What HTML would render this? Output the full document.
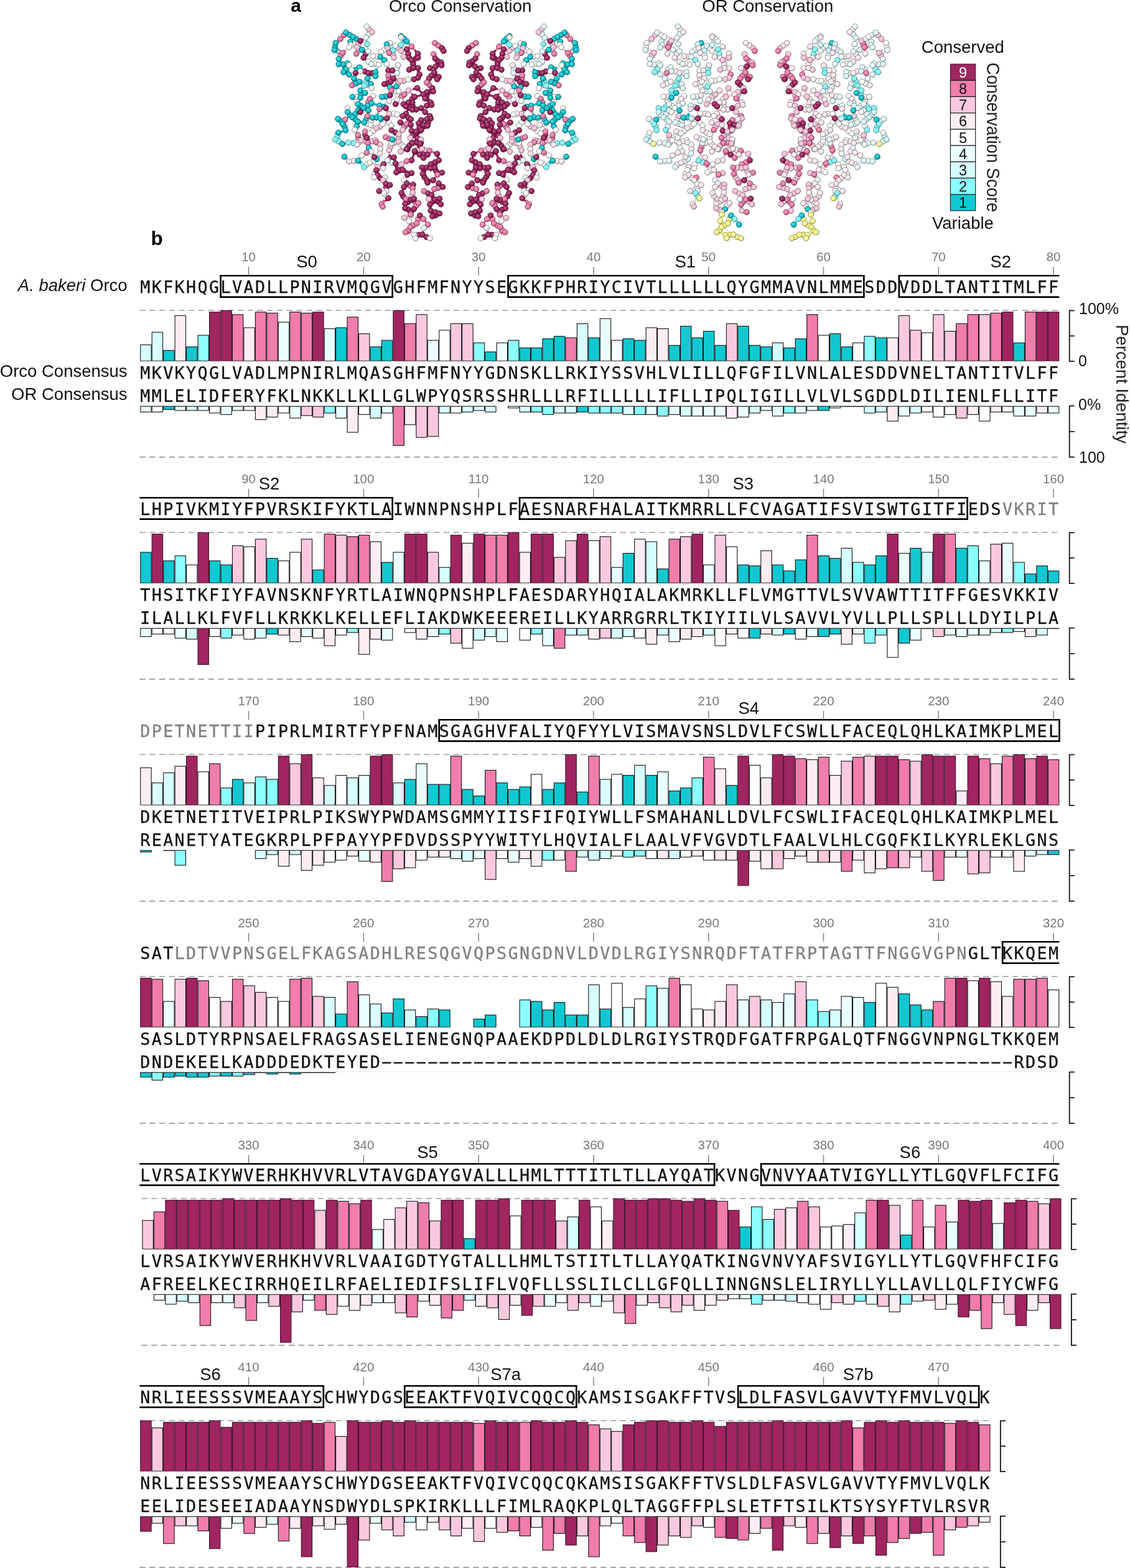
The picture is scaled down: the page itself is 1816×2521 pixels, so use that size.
<!DOCTYPE html>
<html lang="en"><head><meta charset="utf-8"><title>Orco and OR conservation</title>
<style>
html,body{margin:0;padding:0;background:#fff}
body{width:1816px;height:2521px;overflow:hidden}
svg{display:block}
text{font-family:'Liberation Sans', sans-serif;fill:#111}
.sq{font-family:'DejaVu Sans Mono', 'Liberation Mono', monospace;font-size:26px;stroke:#111;stroke-width:0.3px}
.tk{font-size:20.5px;fill:#787878;text-anchor:middle}
.tl{stroke:#808080;stroke-width:1.5;fill:none}
.hl{font-size:27.5px;text-anchor:middle;fill:#111}
.bx{stroke:#000;stroke-width:2.7;fill:none;stroke-linejoin:miter}
.ds{stroke:#9c9c9c;stroke-width:1.7;stroke-dasharray:9.4 6.36;fill:none}
.ax{stroke:#111;stroke-width:1.8;fill:none}
.al{font-size:25px;fill:#111}
.lb{font-size:27.5px}
.lg{font-size:23.5px;text-anchor:middle}
.pn{font-size:28px;font-weight:bold;fill:#000}
rect{stroke:#161616;stroke-width:1.1}
.c1{fill:#10C8D1}.c2{fill:#8CFFFF}.c3{fill:#D7FFFF}.c4{fill:#EAFFFF}.c5{fill:#FFFFFF}.c6{fill:#FCEDF4}.c7{fill:#FAC9DE}.c8{fill:#F07DAB}.c9{fill:#A02560}.c10{fill:#FFFF96}
.c9{stroke:#3d142c}
</style></head>
<body>
<svg width="1816" height="2521" viewBox="0 0 1816 2521">
<rect x="0" y="0" width="1816" height="2521" style="fill:#fff;stroke:none"/>
<style>.st circle{stroke-width:0.9;r:4.4px}.st path{stroke-width:3.4;stroke-linecap:butt;fill:none}.k1{fill:url(#b1);stroke:#086468}.s1{stroke:#0fbec6}.k2{fill:url(#b2);stroke:#488484}.s2{stroke:#85f2f2}.k3{fill:url(#b3);stroke:#6f8484}.s3{stroke:#ccf2f2}.k4{fill:url(#b4);stroke:#798484}.s4{stroke:#def2f2}.k5{fill:url(#b5);stroke:#848484}.s5{stroke:#f2f2f2}.k6{fill:url(#b6);stroke:#837b7e}.s6{stroke:#efe1e7}.k7{fill:url(#b7);stroke:#826873}.s7{stroke:#edbed2}.k8{fill:url(#b8);stroke:#783e55}.s8{stroke:#e476a2}.k9{fill:url(#b9);stroke:#501230}.s9{stroke:#98235b}.k10{fill:url(#b10);stroke:#84844e}.s10{stroke:#f2f28e}</style>
<defs><radialGradient id="b1" cx="0.42" cy="0.38" r="0.62"><stop offset="0" stop-color="#4bd5dc"/><stop offset="0.6" stop-color="#10C8D1"/><stop offset="1" stop-color="#09787d"/></radialGradient><radialGradient id="b2" cx="0.42" cy="0.38" r="0.62"><stop offset="0" stop-color="#8CFFFF"/><stop offset="0.6" stop-color="#8CFFFF"/><stop offset="1" stop-color="#67bcbc"/></radialGradient><radialGradient id="b3" cx="0.42" cy="0.38" r="0.62"><stop offset="0" stop-color="#D7FFFF"/><stop offset="0.6" stop-color="#D7FFFF"/><stop offset="1" stop-color="#9fbcbc"/></radialGradient><radialGradient id="b4" cx="0.42" cy="0.38" r="0.62"><stop offset="0" stop-color="#EAFFFF"/><stop offset="0.6" stop-color="#EAFFFF"/><stop offset="1" stop-color="#adbcbc"/></radialGradient><radialGradient id="b5" cx="0.42" cy="0.38" r="0.62"><stop offset="0" stop-color="#FFFFFF"/><stop offset="0.6" stop-color="#FFFFFF"/><stop offset="1" stop-color="#bcbcbc"/></radialGradient><radialGradient id="b6" cx="0.42" cy="0.38" r="0.62"><stop offset="0" stop-color="#FCEDF4"/><stop offset="0.6" stop-color="#FCEDF4"/><stop offset="1" stop-color="#baafb4"/></radialGradient><radialGradient id="b7" cx="0.42" cy="0.38" r="0.62"><stop offset="0" stop-color="#FAC9DE"/><stop offset="0.6" stop-color="#FAC9DE"/><stop offset="1" stop-color="#b994a4"/></radialGradient><radialGradient id="b8" cx="0.42" cy="0.38" r="0.62"><stop offset="0" stop-color="#f39dc0"/><stop offset="0.6" stop-color="#F07DAB"/><stop offset="1" stop-color="#904b66"/></radialGradient><radialGradient id="b9" cx="0.42" cy="0.38" r="0.62"><stop offset="0" stop-color="#b75b87"/><stop offset="0.6" stop-color="#A02560"/><stop offset="1" stop-color="#601639"/></radialGradient><radialGradient id="b10" cx="0.42" cy="0.38" r="0.62"><stop offset="0" stop-color="#FFFF96"/><stop offset="0.6" stop-color="#FFFF96"/><stop offset="1" stop-color="#bcbc6f"/></radialGradient></defs>
<g class="st"><path class="s1" d="M649.5 62.3L647.1 67.3M621.5 71L625.9 73.4M621.5 71L619.6 75.6M637 139.1L636 143M619.6 155.1L623.1 154.2M619.6 155.1L622.5 158.7M615.5 171.8L620.4 167M615.5 171.8L620.4 177.3M605 188.8L600.7 191.5M605 188.8L607.5 181.9M605 188.8L612.5 190.5M562.1 56.3L557.4 56.4M562.1 56.3L556 52.4M572.5 62.6L574.4 66.4M572.5 62.6L575.8 64.2M538.3 75.3L542.6 69M538.3 75.3L544.6 80.2M537.4 80.6L542.5 85M544.4 103.1L546 96.3M551.5 103.7L556.4 111.5M551.5 103.7L544.4 94.8M551.5 103.7L544.4 103.1M551.5 103.7L558.6 101.8M551.5 103.7L556.3 104.4M551.5 103.7L552.1 116M556.4 111.5L558.6 101.8M556.4 111.5L558.7 108.3M556.4 111.5L561.1 119.8M581.7 80L579 75.1M581.7 80L584.8 83.4M574 111.7L580.2 113.3M574 111.7L567.6 108.4M577.8 108.3L582.1 111.6M603.5 122.4L601 119.9M590.7 126.2L594.5 121.9M595.8 135.2L592.1 133.2M590.7 126.2L590.6 131.2M572.4 134.1L568.8 126.2M572.4 134.1L569 135.6M580 151.4L586.8 149.4M580 151.4L576.4 153.6M566.3 155.8L569.7 159.1M579.1 157.1L576.1 159.8M584.3 173.8L588 169M580.1 170.4L575.3 177.7M580.1 170.4L579.6 175.3M570.7 183.5L562.4 185.2M570.7 183.5L571.4 192.1M570.7 183.5L575.3 177.7M570.7 183.5L574.9 181.9M562.4 185.2L558.6 188.8M588.7 191.6L592.6 192.9M588.7 191.6L589.5 195.5M588.7 191.6L598.4 189.2M547.7 194.6L553.7 203.8M547.7 194.6L551.2 193.5M553.7 203.8L554.2 198.1M571.4 192.1L573.3 203M611.2 190.5L611 197M550.2 231.3L546.2 224.9M550.2 231.3L547.2 229.4M573.3 203L575.3 195.6M575.3 258.3L571.7 258.6M575.3 258.3L582.3 261.3M630.5 224.3L629 230.1M630.5 224.3L635.6 222.8M653.7 66.5L657.5 70.7M644.7 58.1L653.7 66.5M644.7 58.1L644.7 65.2M653.7 66.5L649.2 63.3M653.7 66.5L649.2 69.4M611.2 91.5L611.9 87.4M611.2 91.5L617.7 96.7M611.2 91.5L605.5 90.9M617.7 96.7L619.6 99.9M617.7 96.7L613.2 100.2M603.5 116L606.1 109.9M637 139.1L640.2 134.6M626.7 140.4L627.3 135.9M626.7 140.4L622.2 137.8M626.7 140.4L637 139.1M637 139.1L633.1 142.3M637 139.1L638.9 143M613.8 155.8L620.2 154.5M613.8 155.8L619.6 159M610 169.9L615.1 171.9M610 169.9L597.1 166.1M612.5 190.5L617 190.5M611.2 190.5L616.4 190.5M612.5 190.5L613.8 195M611.2 190.5L613.2 195M556 52.4L567.6 59.4M567.6 59.4L563.1 67.1M567.6 59.4L573.3 62.6M539.3 69.1L543.1 65.8M539.3 69.1L537.4 80.6M563.1 67.1L562.1 71.6M544.4 94.8L547.6 89.9M544.4 94.8L544.4 103.1M552.1 116L561.1 119.8M568.8 126.2L567.2 131.7M568.8 126.2L570.1 121.8M568.8 126.2L577.8 131.4M581.7 80L577.8 78.1M581.7 80L577.2 83.2M581.7 80L586.8 81.3M577.8 108.3L574.6 112.8M603.5 116L597.8 116.6M603.5 122.4L597.8 119.8M590.7 126.2L591.3 121.8M590.7 126.2L595.8 135.2M577.8 131.4L581.7 134.6M579.1 145.5L582.3 141.7M579.1 145.5L586.8 149.4M586.8 149.4L579.1 157.1M597.1 166.1L598.4 160.3M575.3 167.4L574 161.6M566.3 155.8L579.1 157.1M579.1 157.1L575.3 167.4M597.1 166.1L595.8 162.6M590.7 169.9L592.6 164.5M597.1 166.1L590.7 169.9M575.3 167.4L575.3 177.7M590.7 169.9L584.3 173.8M590.7 169.9L592 177.7M584.3 173.8L592 177.7M584.3 173.8L581.7 177M592 177.7L591.3 182.2M558.6 180.2L566.3 188.6M598.4 189.2L594.5 187.9M566.3 188.6L575.3 195.6M543.1 191.2L548.9 191.8M543.1 191.2L550.8 199.5M550.8 199.5L552.8 196M550.8 199.5L555.3 209.5M575.3 195.6L585.5 196.9M575.3 195.6L572.7 202.3M585.5 196.9L590.7 198.9M555.3 209.5L543.8 213.4M543.8 213.4L541.2 218.8M550.2 231.3L544.4 227.8M550.2 231.3L555 230.4M553.4 251.9L557.3 255.8M575.3 258.3L580.4 263.5M575.3 258.3L578.2 254.2M605.5 255.8L600 258.7M605.5 255.8L608 251.3M592.6 237.8L592 233.9M592.6 237.8L591 241.6M630.5 224.3L625.1 222.4M630.5 224.3L635.7 225.9"/><path class="s2" d="M644.7 72.3L647.1 67.3M630.2 75.8L635.2 76.5M630.2 75.8L630.9 81.8M630.2 75.8L628.4 72.5M630.2 75.8L625.9 73.4M630.2 75.8L626.5 76.6M631.8 81.3L636 79.2M588.4 131.2L592.1 133.2M588.4 131.2L585.5 137.8M590.5 136.1L590.6 131.2M590.5 136.1L593.8 138.9M542.2 218.5L544.3 227.4M542.2 218.5L546.2 224.9M544.3 227.4L547.2 229.4M568 230.1L559.8 229.4M568 230.1L572.3 229.8M644.7 72.3L644.7 65.2M644.7 72.3L644.7 66.2M644.7 72.3L649.2 69.4M644.7 72.3L640.2 72.9M631.8 81.3L633.7 77.4M644.7 72.3L644.7 77.1M631.8 81.3L628.6 83.2M631.8 81.3L632.5 87.1M590 71L589.1 65.8M590 71L591 76.8M585.5 137.8L581.7 134.6M585.5 137.8L591.3 139.7M585.5 137.8L582.3 141.7M538.6 224.3L541.2 218.8M538.6 224.3L544.4 227.8M559.8 229.4L555 230.4M585.5 268.6L580.4 263.5M585.5 268.6L590 265.1"/><path class="s4" d="M637.9 110L638.2 117.3M637.9 110L634.2 111.7M592.4 55.3L592.8 51.4M588.1 60.7L590.7 54.1M592.4 55.3L589.4 42.7M592 99.3L597.1 100.8M629.8 261.1L628.3 257.8M619 285.3L615.2 286M629.8 261.1L622.8 257.7M629.8 261.1L631.4 257.1M597.1 103.1L602.9 103.4M638.2 117.3L638.9 111.1M638.2 117.3L634.4 115.3M638.2 117.3L635 121.8M589.4 42.7L593.6 47.2M588.1 60.7L592.9 56.2M588.1 60.7L589.1 65.8M588.1 60.7L583.6 63.3M592 82.6L591 76.8M592 82.6L586.8 81.3M592 99.3L588.1 96M592 82.6L595.8 86.4M597.1 103.1L598.4 96.7M622.8 257.7L619.6 260.9M619 285.3L619.6 290.5M681.3 366.3L680 371.8M681.3 366.3L684.5 363.7"/><path class="s5" d="M656.2 127.5L652.6 128.8M638.2 160.3L641.6 158.1M640.8 146.8L642.9 151.4M643.8 162.7L639.8 165.1M643.8 162.7L648.1 167M632.7 182.8L629.1 182.8M632.7 182.8L627.1 186.6M626.7 69.1L628.4 72.5M617.7 80.1L619.6 75.6M617.7 80.1L621.5 82.6M606.1 91.1L602.2 102.3M606.1 91.1L612.5 83.2M635 146.9L636 143M635 146.9L630.8 150.1M625.4 162.2L622.5 158.7M625.4 162.2L620.4 167M596.5 194.2L600.7 191.5M624.7 196.5L629.2 202.1M624.7 196.5L615.1 199.5M561.1 105L556.3 104.4M561.1 105L558.7 108.3M563.7 72.3L570 71.2M602.2 102.3L597.1 100.8M561.1 105L567.6 108.4M579.1 114.7L582.8 114.8M597.1 141.7L593.8 138.9M572.7 155.8L576.4 153.6M573.1 162.5L569.7 159.1M573.1 162.5L576.1 159.8M599.7 154.5L595.8 159.4M596.5 194.2L592.6 192.9M590.3 199.3L589.5 195.5M596.5 194.2L590.3 199.3M600 210.4L605.3 207M576.5 229.4L572.3 229.8M576.5 229.4L576.2 225.9M589.4 264.2L600.5 259.5M589.4 264.2L582.3 261.3M600.5 259.5L601 256M600.5 259.5L603.6 264.1M594.5 214.6L590.8 215.9M600 210.4L595.8 200.8M576.5 229.4L581.5 228.1M629.2 230.1L627 226.4M644.2 232.5L639.2 231.1M644.2 232.5L644.1 238M648.5 235.8L653.2 234.9M601.8 279.8L606.6 283.2M601 285.3L606.2 286M601.8 279.8L604.3 274.2M614.3 306.4L617.4 304.2M617.7 310.4L619.1 306.1M614.3 306.4L620.9 314.5M620.9 314.5L620.9 307.2M620.9 314.5L617.1 321.4M657.5 355.4L660.8 359M665.9 377.9L661.1 374.1M667.8 383L670.3 380.2M648.5 235.8L651.7 237.9M656.2 127.5L663.9 126.2M656.2 127.5L660.7 127.5M640.8 146.8L645.3 149.4M638.2 160.3L637 163.8M638.2 184.1L642.7 185.4M638.2 184.1L631.8 183.4M644.7 60.1L649.2 63.3M644.7 60.1L644.7 66.2M626.7 69.1L624.7 73.2M635.7 73.6L640.2 72.9M635.7 73.6L633.7 77.4M612.5 83.2L611.9 87.4M599.7 90.3L605.5 90.9M621.5 103.1L619.6 99.9M608.7 103.8L613.2 100.2M621.5 103.1L622.8 108.3M608.7 103.8L602.9 103.4M608.7 103.8L606.1 109.9M640.8 146.8L638.9 143M625.4 162.2L626 157.7M625.4 162.2L619.6 159M615.1 199.5L613.8 195M629.2 202.1L629.2 205.8M615.1 199.5L613.2 195M615.1 199.5L610 202.7M561.1 76.1L562.1 71.6M563.7 72.3L568.8 74.2M561.1 76.1L556 80.6M561.1 76.1L567.6 76.1M599.7 90.3L595.8 86.4M599.7 90.3L598.4 96.7M579.1 114.7L575.3 116M597.1 141.7L591.3 139.7M599.7 154.5L598.4 160.3M572.7 155.8L574 161.6M570.1 208.9L572.7 202.3M595.8 200.8L590.7 198.9M595.8 200.8L600.3 203.4M570.1 208.9L572.7 213M581 250L578.2 254.2M594.5 261.5L590 265.1M594.5 261.5L600 258.7M594.5 261.5L598.1 257.1M596.5 243.6L599 248.1M594.5 214.6L590.7 213M594.5 214.6L592 218.2M596.5 243.6L592.9 244.5M581 250L585.2 247.7M629.2 230.1L627.3 235.8M629.2 230.1L624.4 225.2M629.2 230.1L635 228.8M648.5 235.8L644.7 231.7M648.5 235.8L646.3 239.7M615.7 270.5L611.2 269.6M615.7 270.5L610.3 272.2M601 285.3L602.9 279.5M620.9 307.2L623.8 302.4M620.9 307.2L615.1 307.2M617.7 310.4L613.5 308.8M620.9 307.2L622.5 313M617.7 310.4L620.9 314.6M649.2 289.2L652.1 285M649.2 289.2L651.4 292.1M657.5 355.4L653.7 352.8M657.5 355.4L658.5 360.2M665.9 377.9L658.8 375.6M665.9 377.9L672.3 377.5M690.9 383L684.8 380.1M667.8 383L673.3 380.1"/><path class="s6" d="M574 232.6L574.9 227.5M568.1 258.9L561.1 259.6M568.1 258.9L571.7 258.6M639.5 105L638.9 111.1M639.5 105L635 109.2M574 232.6L577.2 229.1M561.1 259.6L557.3 255.8M610.6 246.8L608 251.3M611.2 239.7L608 234.2M611.2 239.7L611.2 236.2M611.2 239.7L610.6 246.8"/><path class="s7" d="M676.8 224.3L673.2 226.8M671.4 241L673.1 237.7M671.4 241L672.8 244.8M648.5 91.5L652.2 89M648.9 130L639.6 134.5M648.9 130L652.6 128.8M625.4 182.8L629.1 182.8M640.2 77.2L635.2 76.5M631.6 87.8L630.9 81.8M622.8 77.4L626.5 76.6M640.2 77.2L636 79.2M631.6 87.8L622.8 77.4M639.6 134.5L635.7 130.4M625.4 182.8L620.4 177.3M576.3 70.2L574.4 66.4M593.2 47.5L592.8 51.4M593.2 47.5L590.7 54.1M576.3 70.2L570 71.2M576.3 70.2L579 75.1M610.7 203.6L605.3 207M610.7 203.6L611 197M606.8 268.6L603.6 264.1M625.4 241.6L626.1 248.1M586.5 226.9L586.8 222M586.5 226.9L581.5 228.1M598.5 227.1L593.9 224.4M598.5 227.1L594.9 228.6M627.4 236L634.3 229.7M627.4 236L629 230.1M634.3 229.7L629.6 226.2M634.3 229.7L640.6 221.4M634.3 229.7L639.2 231.1M640.6 221.4L638.1 217.3M640.6 221.4L635.6 222.8M644 243.6L644.1 238M683.2 241L681.5 244.5M683.2 241L686.8 241.6M606.8 268.6L604.3 274.2M645.3 264.1L643.6 269.1M663.3 309.7L661.2 304.1M661.8 315.4L659 319.9M661.8 315.4L657.1 317.7M678.1 239.1L678.9 243.6M689 320L688.5 315.5M678.1 239.1L677.2 234.4M659.4 221.7L660.8 225.7M676.8 224.3L675.8 229.4M678.1 239.1L672.4 241.5M644 243.6L649.5 241.8M644.7 81.9L649.2 80.6M648.5 91.5L653 92.2M656.2 145.5L663.3 143.6M656.2 145.5L661.4 150.7M656.2 145.5L653 148.7M625.4 182.8L631.8 183.4M647.2 208.9L650.4 204.2M622.8 77.4L624.7 73.2M644.7 81.9L644.7 77.1M633.1 92.8L632.5 87.1M622.8 77.4L624.1 81.3M633.1 92.8L629.2 89M643.4 130.1L637.6 128.2M643.4 130.1L640.2 134.6M625.4 182.8L622.8 178.3M625.4 182.8L623.5 186.7M604.8 205.9L610 202.7M574 76.1L568.8 74.2M574 76.1L567.6 76.1M597.8 51.7L593.6 47.2M597.8 51.7L592.9 56.2M574 76.1L577.8 78.1M574 76.1L573.3 81.3M604.8 205.9L600.3 203.4M580.4 225.6L577.2 229.1M580.4 225.6L577.8 221.4M580.4 225.6L584.9 223.6M603.5 225.6L597.4 227.8M603.5 225.6L611.2 232.6M611.2 232.6L608 230.7M611.2 232.6L611.2 236.2M625.4 241.6L627.3 235.8M640.8 227.5L635 228.8M640.8 227.5L635.7 225.9M640.8 215.9L640.8 227.5M640.8 215.9L647.2 208.9M640.8 227.5L644.7 231.7M659.4 221.7L661 225.9M644 243.6L646.3 239.7M644 243.6L648.8 241.6M678.1 239.1L676.8 234.9M606.8 268.6L611.6 266.4M606.8 268.6L611.2 269.6M615.7 289.8L611.2 285.6M615.7 289.8L618 292.7M645.3 264.1L640.5 263.5M645.3 264.1L649.5 261.5M645.3 264.1L646.3 268.6M663.3 309.7L663.6 303.3M663.3 309.7L663.3 306.2M663.3 309.7L664.3 314.6M649.8 350.2L654.9 347.7M649.8 350.2L653.7 352.8M689 320L691.3 316.8M689 320L690 324.5"/><path class="s8" d="M704.5 73.2L698.6 69.1M704.5 73.2L707.3 75.3M704.5 73.2L708.6 77.6M696.7 87.1L700.1 92.6M689.7 136.3L689.7 131.3M689.7 136.3L692.3 139M689.7 136.3L692.9 141.5M644.9 156L641.6 158.1M644.9 156L642.9 151.4M625.4 85.1L621.5 82.6M624.9 126.3L624.4 130.3M624.9 126.3L621.3 130.8M610 175.1L607.5 181.9M552.6 56.5L557.4 56.4M552.6 56.5L547 62.6M547 62.6L542.6 69M550.8 85.1L544.6 80.2M547.6 89.4L542.5 85M547.6 89.4L546 96.3M565.6 137.2L569 135.6M591.8 164.3L595.8 159.4M591.8 164.3L588 169M554.7 192.4L558.6 188.8M554.7 192.4L551.2 193.5M554.7 192.4L554.2 198.1M575.9 222.3L576.2 225.9M575.9 222.3L574.9 227.5M591.3 230.1L594.9 228.6M624.9 222.7L629.6 226.2M624.9 222.7L627 226.4M690.3 242.3L686.8 241.6M613.2 328.4L617.1 321.4M659.1 298.5L654.1 299.6M659.1 298.5L661.2 304.1M652.4 320L657.1 317.7M668.5 331L664.3 326.1M668.5 331L666.9 325.2M660.1 345.1L658.2 341M672 352.4L680.6 352.2M672 352.4L669.7 359.2M664.1 362.6L656.3 370.3M664.1 362.6L660.8 359M656.3 370.3L661.1 374.1M703.9 302.3L704.5 298.6M703.9 302.3L707.7 301.5M681.3 307.2L684.7 309.1M649.8 204.2L646.6 200.6M649.8 204.2L655 202.5M698.6 69.1L704.4 73.2M696.7 87.1L698 90.6M685.8 132.7L687.7 129.5M685.8 132.7L690.3 137.2M661.4 74.8L657.5 77.1M661.4 74.8L666.5 80.6M661.4 74.8L657.5 70.7M649.8 152L653 148.7M649.8 152L645.3 149.4M653.7 199.5L654.9 194.4M653.7 199.5L656.9 195.6M653.7 199.5L648.5 198.2M653.7 199.5L650.4 204.2M625.4 85.1L628.6 83.2M625.4 85.1L624.1 81.3M625.4 85.1L629.2 89M624.1 121.1L624.1 117.3M624.1 121.1L628 123.7M624.1 121.1L626 126.2M629.2 145.5L633.1 142.3M629.2 145.5L628 149.4M610 175.1L615.1 174.4M547 62.6L543.1 65.8M550.8 85.1L556 80.6M550.8 85.1L547.6 89.9M565.6 137.2L567.2 131.7M572.7 86.4L573.3 81.3M572.7 86.4L577.2 83.2M594.5 159L595.8 162.6M594.5 159L592.6 164.5M590.7 186.7L591.3 182.2M590.7 186.7L594.5 187.9M554.7 192.4L548.9 191.8M554.7 192.4L552.8 196M575.3 217.2L572.7 213M575.3 217.2L577.8 221.4M586.8 211.4L590.7 213M586.8 211.4L588.1 216.6M591.3 230.1L590.4 225.9M591.3 230.1L597.4 227.8M604.8 228.8L608 230.7M604.8 228.8L608 234.2M591.3 230.1L592 233.9M589.4 245.5L591 241.6M589.4 245.5L592.9 244.5M589.4 245.5L585.2 247.7M619.6 220.4L624.4 225.2M619.6 220.4L625.1 222.4M690.3 242.3L688.7 245.5M690.3 242.3L696.4 244.8M613.2 328.4L618.6 323.6M653.7 259L657.5 258.3M653.7 259L649.5 261.5M663.3 302.7L658.5 298.8M663.3 302.7L663.3 306.2M652.4 320L648.8 315.2M652.4 320L656.2 320.7M652.4 320L651.7 323.9M672.3 326.5L668.8 322.9M672.3 326.5L668.8 331.3M660.1 345.1L662.7 340.6M660.1 345.1L654.9 347.7M680.6 352.2L677.8 349.3M669.7 359.2L672.3 352.8M680.6 352.2L687.8 361.1M659.4 365L658.5 360.2M669.7 359.2L659.4 365M659.4 365L651.7 373.4M687.8 361.1L684.5 363.7M651.7 373.4L658.8 375.6M703.1 280.8L706.7 279.2M703.1 280.8L699.6 285.3M698 304L701.5 299.5M698 304L695.7 308.8M681.3 307.2L687.4 310.4"/><path class="s9" d="M663.3 217.8L661.4 210.1M663.3 217.8L669.1 211.4M674.2 204.5L682 203M674.2 204.5L680.6 200.8M669.6 229.4L662.1 229.7M669.6 229.4L674.8 234.5M669.6 229.4L671 222M669.6 229.4L673.2 226.8M674.8 234.5L673.1 237.7M674.2 248.7L672.8 244.8M710.2 77.4L707.3 75.3M712.8 81.9L708.6 77.6M703.6 98.1L700.1 92.6M703.6 98.1L709.6 105M703.6 98.1L699.9 107M693.2 121.7L705.1 123.7M693.2 121.7L702.5 127.5M689.6 126.2L689.7 131.3M694.8 141.7L692.3 139M696.1 146.8L692.9 141.5M685.5 153.5L696.1 146.8M685.5 153.5L692.2 164.8M669 176.1L663.1 170.3M669 176.1L676.8 173.8M656 86.4L653.7 79.3M656 86.4L661.4 96.7M656 86.4L652.2 89M663.8 102.7L671.7 92.8M663.8 102.7L657.5 92.8M663.8 102.7L671.7 109.5M663.8 102.7L657.5 112.1M662.2 159.1L663.1 170.3M662.2 159.1L656.2 164.8M663.1 170.3L656.2 164.8M663.1 170.3L652.4 171.2M635.7 167.4L639.8 165.1M652.4 171.2L648.1 167M657.2 173.4L662.7 164.8M657.2 173.4L656.2 164.8M657.2 173.4L648.5 167.4M657.2 173.4L652.4 182.8M621.5 190.5L627.1 186.6M630.5 113.4L634.2 111.7M623.9 134.3L624.4 130.3M617.7 135.2L621.3 130.8M631.8 126.2L635.7 130.4M623.9 134.3L631.8 126.2M626.7 153.2L630.8 150.1M626.7 153.2L623.1 154.2M579.1 65.8L575.8 64.2M587.8 86.8L584.8 83.4M587.8 86.8L584.3 92.8M586.4 115L580.2 113.3M586.4 115L582.1 111.6M586.4 115L582.8 114.8M598.4 117.5L601 119.9M598.4 117.5L594.5 121.9M579.1 180.2L579.6 175.3M579.1 180.2L574.9 181.9M601.6 252.6L601 256M626.8 254.5L628.3 257.8M626.8 254.5L626.1 248.1M626.8 254.5L635.7 262.8M587 217.1L586.8 222M587 217.1L590.8 215.9M589.4 221.7L593.9 224.4M635.5 213.2L638.1 217.3M635.5 213.2L629.2 209.5M657.9 234L653.2 234.9M657.9 234L653.7 239.7M679.8 248.1L681.5 244.5M611.5 286.7L606.6 283.2M611.5 286.7L606.8 281.5M611.5 286.7L606.2 286M611.5 286.7L615.2 286M620.4 301.9L617.4 304.2M620.4 301.9L626.7 297.5M620.4 301.9L619.1 306.1M633.1 253.2L631.4 257.1M642 274.1L635.7 262.8M642 274.1L643.6 269.1M649.2 300.7L654.1 299.6M647.9 315.7L656.2 324.5M647.9 315.7L651.1 327.7M656.2 324.5L659 319.9M656.2 324.5L665.2 319.4M660.1 321.3L664.3 326.1M665.2 319.4L666.9 325.2M656.3 337L665.2 336.1M656.3 337L658.2 341M672.8 377.5L685.5 381.1M672.8 377.5L670.3 380.2M685.5 381.1L678.7 377.2M679.8 248.1L678.9 243.6M679.8 248.1L687.1 248.7M698.9 260.9L692.2 264.1M698.9 260.9L698.6 269.3M684.3 269.7L681.9 284.5M684.3 269.7L692.2 264.1M684.3 269.7L692.2 270.5M684.3 269.7L679.4 279.5M700.8 275.1L692.2 270.5M700.8 275.1L710.2 277.6M681.9 284.5L687.1 293.7M705.1 295L704.5 298.6M711.5 300.7L707.7 301.5M688.1 311L684.7 309.1M688.1 311L688.5 315.5M694.3 324.3L703.3 323.8M694.3 324.3L693.5 313.6M703.3 323.8L690.9 329M700 346.4L692.2 338.7M700 346.4L706.4 343.2M643.4 196.9L646.6 200.6M660.1 200.8L655 202.5M669.2 214.6L675.6 209.8M669.2 214.6L671 222M675.6 209.8L682 203M676.4 229.7L671 222M676.4 229.7L677.2 234.4M662.1 229.7L660.8 225.7M674.8 234.5L675.8 229.4M674.8 234.5L666.5 242.9M666.8 244L672.4 241.5M666.8 244L661.4 257.7M666.8 244L674.2 248.7M654.9 240L651.7 237.9M654.9 240L649.5 241.8M671 222L662.7 230.1M671 222L675.5 230.7M682 203L672.9 198.2M682 203L676.8 208.9M688 197L692.2 190.5M688 197L680.6 200.8M710.2 77.4L704.4 73.2M699.3 94.1L698 90.6M699.3 94.1L708.9 100.5M708.9 100.5L699.9 107M709.6 105L699.9 107M699.9 107L690.9 109.5M699.9 107L698 116.6M690.9 109.5L698 116.6M698 116.6L705.1 123.7M698 116.6L702.5 127.5M689.6 126.2L687.7 129.5M694.8 141.7L690.3 137.2M694.8 141.7L685.8 148.1M696.1 146.8L685.8 148.1M685.8 148.1L683.2 158.4M680.6 152L670.4 141.7M680.6 152L666.5 155.8M683.2 158.4L692.2 164.8M683.2 158.4L693.5 168.7M692.2 164.8L685.8 169.9M693.5 168.7L685.8 169.9M676.8 173.8L683.2 180.2M683.2 180.2L690.9 186.7M690.9 186.7L685.8 191.8M692.2 190.5L687.1 202.1M685.8 191.8L676.8 193.1M685.8 191.8L687.1 202.1M676.8 193.1L680.6 200.8M672.9 198.2L680.6 200.8M687.1 202.1L676.8 208.9M653.7 79.3L657.5 77.1M671.7 86.4L666.5 80.6M653.7 79.3L649.2 80.6M671.7 86.4L661.4 96.7M671.7 92.8L661.4 96.7M657.5 92.8L653 92.2M661.4 96.7L663.9 109.5M671.7 109.5L663.9 109.5M671.7 109.5L657.5 112.1M671.7 109.5L674.2 119.8M671.7 109.5L671.7 125M674.2 119.8L665.2 127.5M671.7 125L663.9 126.2M665.2 127.5L660.7 127.5M670.4 141.7L663.3 143.6M666.5 155.8L661.4 150.7M666.5 155.8L662.7 164.8M666.5 155.8L656.2 164.8M662.7 164.8L662.7 176.4M656.2 164.8L648.5 167.4M656.2 164.8L652.4 171.2M635.7 167.4L637 163.8M652.4 171.2L662.7 176.4M652.4 182.8L656.2 189.2M647.2 186.7L642.7 185.4M647.2 186.7L656.2 189.2M656.2 189.2L654.9 194.4M660.1 191.8L656.9 195.6M660.1 191.8L660.1 200.8M643.4 196.9L648.5 198.2M660.1 200.8L661.4 210.1M624.1 113.4L622.8 108.3M630.5 113.4L635 109.2M630.5 113.4L634.4 115.3M631.8 126.2L635 121.8M624.1 113.4L624.1 117.3M631.8 126.2L628 123.7M628 131.4L626 126.2M631.8 126.2L637.6 128.2M628 131.4L617.7 135.2M628 131.4L627.3 135.9M617.7 135.2L622.2 137.8M626.7 153.2L628 149.4M626.7 153.2L620.2 154.5M626.7 153.2L626 157.7M620.2 173.8L615.1 171.9M620.2 173.8L615.1 174.4M620.2 173.8L622.8 178.3M621.5 190.5L623.5 186.7M621.5 190.5L617 190.5M621.5 190.5L616.4 190.5M629.2 209.5L629.2 205.8M579.1 65.8L573.3 62.6M571.4 117.3L570.1 121.8M579.1 65.8L583.6 63.3M584.3 92.8L588.1 96M571.4 117.3L574.6 112.8M571.4 117.3L575.3 116M592 117.3L597.8 116.6M592 117.3L597.8 119.8M592 117.3L591.3 121.8M579.1 180.2L581.7 177M601.6 252.6L598.1 257.1M601.6 252.6L599 248.1M616.4 264.1L619.6 260.9M589.4 221.7L588.1 216.6M589.4 221.7L592 218.2M589.4 221.7L584.9 223.6M589.4 221.7L590.4 225.9M662.7 230.1L661 225.9M653.7 239.7L648.8 241.6M675.5 230.7L676.8 234.9M687.1 248.7L688.7 245.5M702.5 247.4L696.4 244.8M616.4 264.1L611.6 266.4M604.8 273.8L610.3 272.2M604.8 273.8L606.8 281.5M604.8 273.8L602.9 279.5M606.8 281.5L611.2 285.6M620.2 295.6L619.6 290.5M620.2 295.6L618 292.7M626.7 297.5L623.8 302.4M609.3 307.2L615.1 307.2M609.3 307.2L613.5 308.8M624.1 318.7L622.5 313M624.1 318.7L620.9 314.6M624.1 318.7L618.6 323.6M633.1 253.2L635.7 262.8M635.7 262.8L640.5 263.5M635.7 262.8L637 277M661.4 257.7L657.5 258.3M647.2 273.1L646.3 268.6M637 277L647.2 273.1M647.2 273.1L661.4 278.3M647.2 273.1L654.9 280.8M654.9 280.8L652.1 285M653.7 295L651.4 292.1M653.7 295L663.9 296.9M653.7 295L649.2 300.7M653.7 295L658.5 298.8M663.9 296.9L663.6 303.3M649.2 300.7L645.3 310.4M645.3 310.4L648.8 315.2M665.2 319.4L664.3 314.6M660.1 321.3L656.2 320.7M651.1 327.7L651.7 323.9M660.1 321.3L651.1 327.7M665.2 319.4L668.8 322.9M665.2 336.1L668.8 331.3M651.1 327.7L651.1 334.8M651.1 334.8L660.1 341.2M665.2 336.1L660.1 341.2M665.2 336.1L662.7 340.6M674.9 346.4L677.8 349.3M674.9 346.4L672.3 352.8M678.7 377.2L680 371.8M678.7 377.2L672.3 377.5M678.7 377.2L684.8 380.1M678.7 377.2L673.3 380.1M666.5 242.9L674.2 248.7M674.2 248.7L680.6 253.8M687.1 248.7L680.6 253.8M702.5 247.4L705.1 257.7M705.1 257.7L698.6 269.3M692.2 264.1L698.6 269.3M678.1 269.3L692.2 270.5M678.1 269.3L679.4 279.5M710.2 277.6L706.7 279.2M696.1 289.8L699.6 285.3M679.4 279.5L685.8 289.8M685.8 289.8L696.1 289.8M696.1 289.8L687.1 293.7M705.1 295L711.5 300.7M705.1 295L701.5 299.5M693.5 313.6L695.7 308.8M693.5 313.6L687.4 310.4M693.5 313.6L691.3 316.8M693.5 313.6L698.6 320.7M690.9 329L690 324.5M698.6 320.7L706.4 319.4M698.6 320.7L708.3 328.4M706.4 319.4L708.3 328.4M690.9 329L692.2 338.7M692.2 338.7L699.9 341.2M692.2 338.7L694.8 347.7M699.9 341.2L694.8 347.7M706.4 343.2L694.8 347.7M661.4 210.1L669.1 211.4M669.1 211.4L676.8 208.9"/><circle class="k9" cx="663.3" cy="217.8" r="4.4"/><circle class="k9" cx="674.2" cy="204.5" r="4.4"/><circle class="k9" cx="669.6" cy="229.4" r="4.4"/><circle class="k7" cx="671.4" cy="241" r="4.4"/><circle class="k8" cx="704.5" cy="73.2" r="4.4"/><circle class="k9" cx="703.6" cy="98.1" r="4.4"/><circle class="k9" cx="693.2" cy="121.7" r="4.4"/><circle class="k8" cx="689.7" cy="136.3" r="4.4"/><circle class="k9" cx="685.5" cy="153.5" r="4.4"/><circle class="k9" cx="669" cy="176.1" r="4.4"/><circle class="k9" cx="656" cy="86.4" r="4.4"/><circle class="k9" cx="663.8" cy="102.7" r="4.4"/><circle class="k7" cx="648.9" cy="130" r="4.4"/><circle class="k9" cx="662.2" cy="159.1" r="4.4"/><circle class="k8" cx="644.9" cy="156" r="4.4"/><circle class="k9" cx="663.1" cy="170.3" r="4.4"/><circle class="k5" cx="643.8" cy="162.7" r="4.4"/><circle class="k9" cx="657.2" cy="173.4" r="4.4"/><circle class="k5" cx="632.7" cy="182.8" r="4.4"/><circle class="k1" cx="649.5" cy="62.3" r="4.4"/><circle class="k2" cx="630.2" cy="75.8" r="4.4"/><circle class="k7" cx="640.2" cy="77.2" r="4.4"/><circle class="k7" cx="631.6" cy="87.8" r="4.4"/><circle class="k5" cx="617.7" cy="80.1" r="4.4"/><circle class="k5" cx="606.1" cy="91.1" r="4.4"/><circle class="k4" cx="637.9" cy="110" r="4.4"/><circle class="k8" cx="624.9" cy="126.3" r="4.4"/><circle class="k7" cx="639.6" cy="134.5" r="4.4"/><circle class="k9" cx="623.9" cy="134.3" r="4.4"/><circle class="k5" cx="635" cy="146.9" r="4.4"/><circle class="k1" cx="619.6" cy="155.1" r="4.4"/><circle class="k1" cx="615.5" cy="171.8" r="4.4"/><circle class="k1" cx="605" cy="188.8" r="4.4"/><circle class="k5" cx="624.7" cy="196.5" r="4.4"/><circle class="k1" cx="562.1" cy="56.3" r="4.4"/><circle class="k1" cx="572.5" cy="62.6" r="4.4"/><circle class="k8" cx="552.6" cy="56.5" r="4.4"/><circle class="k1" cx="538.3" cy="75.3" r="4.4"/><circle class="k8" cx="547.6" cy="89.4" r="4.4"/><circle class="k1" cx="551.5" cy="103.7" r="4.4"/><circle class="k1" cx="556.4" cy="111.5" r="4.4"/><circle class="k7" cx="593.2" cy="47.5" r="4.4"/><circle class="k4" cx="592.4" cy="55.3" r="4.4"/><circle class="k7" cx="576.3" cy="70.2" r="4.4"/><circle class="k9" cx="587.8" cy="86.8" r="4.4"/><circle class="k5" cx="602.2" cy="102.3" r="4.4"/><circle class="k1" cx="574" cy="111.7" r="4.4"/><circle class="k9" cx="586.4" cy="115" r="4.4"/><circle class="k9" cx="598.4" cy="117.5" r="4.4"/><circle class="k2" cx="588.4" cy="131.2" r="4.4"/><circle class="k2" cx="590.5" cy="136.1" r="4.4"/><circle class="k1" cx="572.4" cy="134.1" r="4.4"/><circle class="k1" cx="580" cy="151.4" r="4.4"/><circle class="k5" cx="573.1" cy="162.5" r="4.4"/><circle class="k8" cx="591.8" cy="164.3" r="4.4"/><circle class="k1" cx="580.1" cy="170.4" r="4.4"/><circle class="k1" cx="570.7" cy="183.5" r="4.4"/><circle class="k1" cx="562.4" cy="185.2" r="4.4"/><circle class="k1" cx="588.7" cy="191.6" r="4.4"/><circle class="k5" cx="596.5" cy="194.2" r="4.4"/><circle class="k1" cx="547.7" cy="194.6" r="4.4"/><circle class="k1" cx="553.7" cy="203.8" r="4.4"/><circle class="k1" cx="571.4" cy="192.1" r="4.4"/><circle class="k5" cx="590.3" cy="199.3" r="4.4"/><circle class="k7" cx="610.7" cy="203.6" r="4.4"/><circle class="k2" cx="542.2" cy="218.5" r="4.4"/><circle class="k2" cx="544.3" cy="227.4" r="4.4"/><circle class="k2" cx="568" cy="230.1" r="4.4"/><circle class="k1" cx="573.3" cy="203" r="4.4"/><circle class="k8" cx="575.9" cy="222.3" r="4.4"/><circle class="k6" cx="568.1" cy="258.9" r="4.4"/><circle class="k5" cx="589.4" cy="264.2" r="4.4"/><circle class="k5" cx="600.5" cy="259.5" r="4.4"/><circle class="k9" cx="626.8" cy="254.5" r="4.4"/><circle class="k9" cx="587" cy="217.1" r="4.4"/><circle class="k5" cx="600" cy="210.4" r="4.4"/><circle class="k7" cx="586.5" cy="226.9" r="4.4"/><circle class="k7" cx="598.5" cy="227.1" r="4.4"/><circle class="k7" cx="627.4" cy="236" r="4.4"/><circle class="k8" cx="624.9" cy="222.7" r="4.4"/><circle class="k7" cx="634.3" cy="229.7" r="4.4"/><circle class="k7" cx="640.6" cy="221.4" r="4.4"/><circle class="k9" cx="635.5" cy="213.2" r="4.4"/><circle class="k5" cx="644.2" cy="232.5" r="4.4"/><circle class="k9" cx="657.9" cy="234" r="4.4"/><circle class="k7" cx="683.2" cy="241" r="4.4"/><circle class="k9" cx="611.5" cy="286.7" r="4.4"/><circle class="k5" cx="601.8" cy="279.8" r="4.4"/><circle class="k9" cx="620.4" cy="301.9" r="4.4"/><circle class="k5" cx="614.3" cy="306.4" r="4.4"/><circle class="k5" cx="620.9" cy="314.5" r="4.4"/><circle class="k4" cx="629.8" cy="261.1" r="4.4"/><circle class="k9" cx="642" cy="274.1" r="4.4"/><circle class="k8" cx="659.1" cy="298.5" r="4.4"/><circle class="k9" cx="647.9" cy="315.7" r="4.4"/><circle class="k7" cx="661.8" cy="315.4" r="4.4"/><circle class="k9" cx="656.2" cy="324.5" r="4.4"/><circle class="k8" cx="668.5" cy="331" r="4.4"/><circle class="k9" cx="656.3" cy="337" r="4.4"/><circle class="k8" cx="672" cy="352.4" r="4.4"/><circle class="k8" cx="664.1" cy="362.6" r="4.4"/><circle class="k8" cx="656.3" cy="370.3" r="4.4"/><circle class="k9" cx="672.8" cy="377.5" r="4.4"/><circle class="k9" cx="685.5" cy="381.1" r="4.4"/><circle class="k9" cx="679.8" cy="248.1" r="4.4"/><circle class="k9" cx="698.9" cy="260.9" r="4.4"/><circle class="k9" cx="684.3" cy="269.7" r="4.4"/><circle class="k9" cx="700.8" cy="275.1" r="4.4"/><circle class="k9" cx="681.9" cy="284.5" r="4.4"/><circle class="k8" cx="703.9" cy="302.3" r="4.4"/><circle class="k9" cx="688.1" cy="311" r="4.4"/><circle class="k9" cx="694.3" cy="324.3" r="4.4"/><circle class="k9" cx="703.3" cy="323.8" r="4.4"/><circle class="k9" cx="700" cy="346.4" r="4.4"/><circle class="k8" cx="649.8" cy="204.2" r="4.4"/><circle class="k9" cx="669.2" cy="214.6" r="4.4"/><circle class="k9" cx="675.6" cy="209.8" r="4.4"/><circle class="k9" cx="676.4" cy="229.7" r="4.4"/><circle class="k9" cx="662.1" cy="229.7" r="4.4"/><circle class="k9" cx="674.8" cy="234.5" r="4.4"/><circle class="k9" cx="666.8" cy="244" r="4.4"/><circle class="k9" cx="654.9" cy="240" r="4.4"/><circle class="k9" cx="671" cy="222" r="4.4"/><circle class="k9" cx="682" cy="203" r="4.4"/><circle class="k9" cx="688" cy="197" r="4.4"/><circle class="k8" cx="698.6" cy="69.1" r="4.4"/><circle class="k9" cx="710.2" cy="77.4" r="4.4"/><circle class="k9" cx="712.8" cy="81.9" r="4.4"/><circle class="k8" cx="696.7" cy="87.1" r="4.4"/><circle class="k9" cx="699.3" cy="94.1" r="4.4"/><circle class="k9" cx="708.9" cy="100.5" r="4.4"/><circle class="k9" cx="709.6" cy="105" r="4.4"/><circle class="k9" cx="699.9" cy="107" r="4.4"/><circle class="k9" cx="690.9" cy="109.5" r="4.4"/><circle class="k9" cx="698" cy="116.6" r="4.4"/><circle class="k9" cx="705.1" cy="123.7" r="4.4"/><circle class="k9" cx="702.5" cy="127.5" r="4.4"/><circle class="k9" cx="689.6" cy="126.2" r="4.4"/><circle class="k8" cx="685.8" cy="132.7" r="4.4"/><circle class="k9" cx="694.8" cy="141.7" r="4.4"/><circle class="k9" cx="696.1" cy="146.8" r="4.4"/><circle class="k9" cx="685.8" cy="148.1" r="4.4"/><circle class="k9" cx="680.6" cy="152" r="4.4"/><circle class="k9" cx="683.2" cy="158.4" r="4.4"/><circle class="k9" cx="692.2" cy="164.8" r="4.4"/><circle class="k9" cx="693.5" cy="168.7" r="4.4"/><circle class="k9" cx="685.8" cy="169.9" r="4.4"/><circle class="k9" cx="676.8" cy="173.8" r="4.4"/><circle class="k9" cx="683.2" cy="180.2" r="4.4"/><circle class="k9" cx="690.9" cy="186.7" r="4.4"/><circle class="k9" cx="692.2" cy="190.5" r="4.4"/><circle class="k9" cx="685.8" cy="191.8" r="4.4"/><circle class="k9" cx="676.8" cy="193.1" r="4.4"/><circle class="k9" cx="672.9" cy="198.2" r="4.4"/><circle class="k9" cx="680.6" cy="200.8" r="4.4"/><circle class="k9" cx="687.1" cy="202.1" r="4.4"/><circle class="k8" cx="661.4" cy="74.8" r="4.4"/><circle class="k9" cx="653.7" cy="79.3" r="4.4"/><circle class="k9" cx="671.7" cy="86.4" r="4.4"/><circle class="k9" cx="671.7" cy="92.8" r="4.4"/><circle class="k9" cx="657.5" cy="92.8" r="4.4"/><circle class="k9" cx="661.4" cy="96.7" r="4.4"/><circle class="k9" cx="671.7" cy="109.5" r="4.4"/><circle class="k9" cx="663.9" cy="109.5" r="4.4"/><circle class="k9" cx="657.5" cy="112.1" r="4.4"/><circle class="k9" cx="674.2" cy="119.8" r="4.4"/><circle class="k9" cx="671.7" cy="125" r="4.4"/><circle class="k9" cx="665.2" cy="127.5" r="4.4"/><circle class="k5" cx="656.2" cy="127.5" r="4.4"/><circle class="k9" cx="670.4" cy="141.7" r="4.4"/><circle class="k7" cx="656.2" cy="145.5" r="4.4"/><circle class="k9" cx="666.5" cy="155.8" r="4.4"/><circle class="k8" cx="649.8" cy="152" r="4.4"/><circle class="k9" cx="662.7" cy="164.8" r="4.4"/><circle class="k9" cx="656.2" cy="164.8" r="4.4"/><circle class="k5" cx="638.2" cy="160.3" r="4.4"/><circle class="k9" cx="648.5" cy="167.4" r="4.4"/><circle class="k9" cx="635.7" cy="167.4" r="4.4"/><circle class="k9" cx="652.4" cy="171.2" r="4.4"/><circle class="k9" cx="662.7" cy="176.4" r="4.4"/><circle class="k9" cx="652.4" cy="182.8" r="4.4"/><circle class="k5" cx="638.2" cy="184.1" r="4.4"/><circle class="k9" cx="647.2" cy="186.7" r="4.4"/><circle class="k9" cx="656.2" cy="189.2" r="4.4"/><circle class="k9" cx="660.1" cy="191.8" r="4.4"/><circle class="k9" cx="643.4" cy="196.9" r="4.4"/><circle class="k8" cx="653.7" cy="199.5" r="4.4"/><circle class="k9" cx="660.1" cy="200.8" r="4.4"/><circle class="k1" cx="644.7" cy="58.1" r="4.4"/><circle class="k5" cx="644.7" cy="60.1" r="4.4"/><circle class="k1" cx="653.7" cy="66.5" r="4.4"/><circle class="k5" cx="626.7" cy="69.1" r="4.4"/><circle class="k1" cx="621.5" cy="71" r="4.4"/><circle class="k5" cx="635.7" cy="73.6" r="4.4"/><circle class="k2" cx="644.7" cy="72.3" r="4.4"/><circle class="k2" cx="631.8" cy="81.3" r="4.4"/><circle class="k7" cx="622.8" cy="77.4" r="4.4"/><circle class="k8" cx="625.4" cy="85.1" r="4.4"/><circle class="k7" cx="644.7" cy="81.9" r="4.4"/><circle class="k5" cx="612.5" cy="83.2" r="4.4"/><circle class="k1" cx="611.2" cy="91.5" r="4.4"/><circle class="k1" cx="617.7" cy="96.7" r="4.4"/><circle class="k7" cx="633.1" cy="92.8" r="4.4"/><circle class="k7" cx="648.5" cy="91.5" r="4.4"/><circle class="k5" cx="621.5" cy="103.1" r="4.4"/><circle class="k5" cx="608.7" cy="103.8" r="4.4"/><circle class="k6" cx="639.5" cy="105" r="4.4"/><circle class="k4" cx="638.2" cy="117.3" r="4.4"/><circle class="k9" cx="624.1" cy="113.4" r="4.4"/><circle class="k9" cx="630.5" cy="113.4" r="4.4"/><circle class="k8" cx="624.1" cy="121.1" r="4.4"/><circle class="k9" cx="631.8" cy="126.2" r="4.4"/><circle class="k7" cx="643.4" cy="130.1" r="4.4"/><circle class="k9" cx="628" cy="131.4" r="4.4"/><circle class="k9" cx="617.7" cy="135.2" r="4.4"/><circle class="k1" cx="626.7" cy="140.4" r="4.4"/><circle class="k1" cx="637" cy="139.1" r="4.4"/><circle class="k8" cx="629.2" cy="145.5" r="4.4"/><circle class="k5" cx="640.8" cy="146.8" r="4.4"/><circle class="k9" cx="626.7" cy="153.2" r="4.4"/><circle class="k1" cx="613.8" cy="155.8" r="4.4"/><circle class="k5" cx="625.4" cy="162.2" r="4.4"/><circle class="k9" cx="620.2" cy="173.8" r="4.4"/><circle class="k1" cx="610" cy="169.9" r="4.4"/><circle class="k8" cx="610" cy="175.1" r="4.4"/><circle class="k7" cx="625.4" cy="182.8" r="4.4"/><circle class="k9" cx="621.5" cy="190.5" r="4.4"/><circle class="k1" cx="612.5" cy="190.5" r="4.4"/><circle class="k5" cx="629.2" cy="202.1" r="4.4"/><circle class="k5" cx="615.1" cy="199.5" r="4.4"/><circle class="k1" cx="556" cy="52.4" r="4.4"/><circle class="k1" cx="567.6" cy="59.4" r="4.4"/><circle class="k8" cx="547" cy="62.6" r="4.4"/><circle class="k1" cx="539.3" cy="69.1" r="4.4"/><circle class="k1" cx="563.1" cy="67.1" r="4.4"/><circle class="k5" cx="563.7" cy="72.3" r="4.4"/><circle class="k5" cx="561.1" cy="76.1" r="4.4"/><circle class="k1" cx="537.4" cy="80.6" r="4.4"/><circle class="k8" cx="550.8" cy="85.1" r="4.4"/><circle class="k1" cx="544.4" cy="94.8" r="4.4"/><circle class="k1" cx="544.4" cy="103.1" r="4.4"/><circle class="k1" cx="558.6" cy="101.8" r="4.4"/><circle class="k5" cx="561.1" cy="105" r="4.4"/><circle class="k1" cx="552.1" cy="116" r="4.4"/><circle class="k1" cx="561.1" cy="119.8" r="4.4"/><circle class="k1" cx="568.8" cy="126.2" r="4.4"/><circle class="k8" cx="565.6" cy="137.2" r="4.4"/><circle class="k4" cx="589.4" cy="42.7" r="4.4"/><circle class="k7" cx="597.8" cy="51.7" r="4.4"/><circle class="k4" cx="588.1" cy="60.7" r="4.4"/><circle class="k2" cx="590" cy="71" r="4.4"/><circle class="k9" cx="579.1" cy="65.8" r="4.4"/><circle class="k7" cx="574" cy="76.1" r="4.4"/><circle class="k1" cx="581.7" cy="80" r="4.4"/><circle class="k8" cx="572.7" cy="86.4" r="4.4"/><circle class="k9" cx="584.3" cy="92.8" r="4.4"/><circle class="k4" cx="592" cy="82.6" r="4.4"/><circle class="k5" cx="599.7" cy="90.3" r="4.4"/><circle class="k4" cx="592" cy="99.3" r="4.4"/><circle class="k4" cx="597.1" cy="103.1" r="4.4"/><circle class="k1" cx="577.8" cy="108.3" r="4.4"/><circle class="k5" cx="579.1" cy="114.7" r="4.4"/><circle class="k9" cx="571.4" cy="117.3" r="4.4"/><circle class="k9" cx="592" cy="117.3" r="4.4"/><circle class="k1" cx="603.5" cy="116" r="4.4"/><circle class="k1" cx="603.5" cy="122.4" r="4.4"/><circle class="k1" cx="590.7" cy="126.2" r="4.4"/><circle class="k1" cx="595.8" cy="135.2" r="4.4"/><circle class="k1" cx="577.8" cy="131.4" r="4.4"/><circle class="k2" cx="585.5" cy="137.8" r="4.4"/><circle class="k5" cx="597.1" cy="141.7" r="4.4"/><circle class="k1" cx="579.1" cy="145.5" r="4.4"/><circle class="k1" cx="586.8" cy="149.4" r="4.4"/><circle class="k5" cx="599.7" cy="154.5" r="4.4"/><circle class="k5" cx="572.7" cy="155.8" r="4.4"/><circle class="k1" cx="566.3" cy="155.8" r="4.4"/><circle class="k1" cx="579.1" cy="157.1" r="4.4"/><circle class="k8" cx="594.5" cy="159" r="4.4"/><circle class="k1" cx="597.1" cy="166.1" r="4.4"/><circle class="k1" cx="575.3" cy="167.4" r="4.4"/><circle class="k1" cx="590.7" cy="169.9" r="4.4"/><circle class="k1" cx="584.3" cy="173.8" r="4.4"/><circle class="k5" cx="558.6" cy="173.8" r="4.4"/><circle class="k1" cx="575.3" cy="177.7" r="4.4"/><circle class="k1" cx="592" cy="177.7" r="4.4"/><circle class="k1" cx="558.6" cy="180.2" r="4.4"/><circle class="k9" cx="579.1" cy="180.2" r="4.4"/><circle class="k8" cx="590.7" cy="186.7" r="4.4"/><circle class="k1" cx="598.4" cy="189.2" r="4.4"/><circle class="k1" cx="566.3" cy="188.6" r="4.4"/><circle class="k1" cx="611.2" cy="190.5" r="4.4"/><circle class="k1" cx="543.1" cy="191.2" r="4.4"/><circle class="k8" cx="554.7" cy="192.4" r="4.4"/><circle class="k1" cx="550.8" cy="199.5" r="4.4"/><circle class="k1" cx="575.3" cy="195.6" r="4.4"/><circle class="k1" cx="585.5" cy="196.9" r="4.4"/><circle class="k5" cx="595.8" cy="200.8" r="4.4"/><circle class="k7" cx="604.8" cy="205.9" r="4.4"/><circle class="k1" cx="555.3" cy="209.5" r="4.4"/><circle class="k1" cx="543.8" cy="213.4" r="4.4"/><circle class="k2" cx="538.6" cy="224.3" r="4.4"/><circle class="k1" cx="550.2" cy="231.3" r="4.4"/><circle class="k2" cx="559.8" cy="229.4" r="4.4"/><circle class="k5" cx="570.1" cy="208.9" r="4.4"/><circle class="k5" cx="576.5" cy="229.4" r="4.4"/><circle class="k6" cx="574" cy="232.6" r="4.4"/><circle class="k1" cx="553.4" cy="251.9" r="4.4"/><circle class="k6" cx="561.1" cy="259.6" r="4.4"/><circle class="k1" cx="575.3" cy="258.3" r="4.4"/><circle class="k2" cx="585.5" cy="268.6" r="4.4"/><circle class="k5" cx="594.5" cy="261.5" r="4.4"/><circle class="k1" cx="605.5" cy="255.8" r="4.4"/><circle class="k9" cx="601.6" cy="252.6" r="4.4"/><circle class="k4" cx="622.8" cy="257.7" r="4.4"/><circle class="k8" cx="575.3" cy="217.2" r="4.4"/><circle class="k8" cx="586.8" cy="211.4" r="4.4"/><circle class="k5" cx="594.5" cy="214.6" r="4.4"/><circle class="k9" cx="589.4" cy="221.7" r="4.4"/><circle class="k7" cx="580.4" cy="225.6" r="4.4"/><circle class="k7" cx="603.5" cy="225.6" r="4.4"/><circle class="k8" cx="604.8" cy="228.8" r="4.4"/><circle class="k8" cx="591.3" cy="230.1" r="4.4"/><circle class="k7" cx="611.2" cy="232.6" r="4.4"/><circle class="k1" cx="592.6" cy="237.8" r="4.4"/><circle class="k5" cx="596.5" cy="243.6" r="4.4"/><circle class="k6" cx="611.2" cy="239.7" r="4.4"/><circle class="k6" cx="610.6" cy="246.8" r="4.4"/><circle class="k8" cx="589.4" cy="245.5" r="4.4"/><circle class="k5" cx="581" cy="250" r="4.4"/><circle class="k7" cx="625.4" cy="241.6" r="4.4"/><circle class="k8" cx="619.6" cy="220.4" r="4.4"/><circle class="k5" cx="629.2" cy="230.1" r="4.4"/><circle class="k1" cx="630.5" cy="224.3" r="4.4"/><circle class="k7" cx="640.8" cy="215.9" r="4.4"/><circle class="k7" cx="640.8" cy="227.5" r="4.4"/><circle class="k9" cx="629.2" cy="209.5" r="4.4"/><circle class="k7" cx="659.4" cy="221.7" r="4.4"/><circle class="k5" cx="648.5" cy="235.8" r="4.4"/><circle class="k7" cx="644" cy="243.6" r="4.4"/><circle class="k9" cx="653.7" cy="239.7" r="4.4"/><circle class="k7" cx="676.8" cy="224.3" r="4.4"/><circle class="k7" cx="678.1" cy="239.1" r="4.4"/><circle class="k8" cx="690.3" cy="242.3" r="4.4"/><circle class="k9" cx="616.4" cy="264.1" r="4.4"/><circle class="k7" cx="606.8" cy="268.6" r="4.4"/><circle class="k5" cx="615.7" cy="270.5" r="4.4"/><circle class="k9" cx="604.8" cy="273.8" r="4.4"/><circle class="k9" cx="606.8" cy="281.5" r="4.4"/><circle class="k5" cx="601" cy="285.3" r="4.4"/><circle class="k4" cx="619" cy="285.3" r="4.4"/><circle class="k7" cx="615.7" cy="289.8" r="4.4"/><circle class="k9" cx="620.2" cy="295.6" r="4.4"/><circle class="k9" cx="626.7" cy="297.5" r="4.4"/><circle class="k9" cx="609.3" cy="307.2" r="4.4"/><circle class="k5" cx="620.9" cy="307.2" r="4.4"/><circle class="k5" cx="617.7" cy="310.4" r="4.4"/><circle class="k9" cx="624.1" cy="318.7" r="4.4"/><circle class="k8" cx="613.2" cy="328.4" r="4.4"/><circle class="k8" cx="615.1" cy="332.2" r="4.4"/><circle class="k9" cx="633.1" cy="253.2" r="4.4"/><circle class="k9" cx="635.7" cy="262.8" r="4.4"/><circle class="k9" cx="661.4" cy="257.7" r="4.4"/><circle class="k7" cx="645.3" cy="264.1" r="4.4"/><circle class="k8" cx="653.7" cy="259" r="4.4"/><circle class="k9" cx="637" cy="277" r="4.4"/><circle class="k9" cx="647.2" cy="273.1" r="4.4"/><circle class="k9" cx="661.4" cy="278.3" r="4.4"/><circle class="k9" cx="654.9" cy="280.8" r="4.4"/><circle class="k5" cx="649.2" cy="289.2" r="4.4"/><circle class="k9" cx="653.7" cy="295" r="4.4"/><circle class="k9" cx="663.9" cy="296.9" r="4.4"/><circle class="k9" cx="649.2" cy="300.7" r="4.4"/><circle class="k8" cx="663.3" cy="302.7" r="4.4"/><circle class="k9" cx="645.3" cy="310.4" r="4.4"/><circle class="k7" cx="663.3" cy="309.7" r="4.4"/><circle class="k8" cx="652.4" cy="320" r="4.4"/><circle class="k9" cx="660.1" cy="321.3" r="4.4"/><circle class="k9" cx="665.2" cy="319.4" r="4.4"/><circle class="k8" cx="672.3" cy="326.5" r="4.4"/><circle class="k9" cx="651.1" cy="327.7" r="4.4"/><circle class="k9" cx="651.1" cy="334.8" r="4.4"/><circle class="k9" cx="665.2" cy="336.1" r="4.4"/><circle class="k9" cx="660.1" cy="341.2" r="4.4"/><circle class="k8" cx="660.1" cy="345.1" r="4.4"/><circle class="k9" cx="674.9" cy="346.4" r="4.4"/><circle class="k7" cx="649.8" cy="350.2" r="4.4"/><circle class="k8" cx="680.6" cy="352.2" r="4.4"/><circle class="k5" cx="657.5" cy="355.4" r="4.4"/><circle class="k8" cx="669.7" cy="359.2" r="4.4"/><circle class="k8" cx="659.4" cy="365" r="4.4"/><circle class="k4" cx="681.3" cy="366.3" r="4.4"/><circle class="k8" cx="651.7" cy="373.4" r="4.4"/><circle class="k5" cx="665.9" cy="377.9" r="4.4"/><circle class="k9" cx="678.7" cy="377.2" r="4.4"/><circle class="k5" cx="690.9" cy="383" r="4.4"/><circle class="k5" cx="667.8" cy="383" r="4.4"/><circle class="k9" cx="662.7" cy="230.1" r="4.4"/><circle class="k9" cx="675.5" cy="230.7" r="4.4"/><circle class="k9" cx="666.5" cy="242.9" r="4.4"/><circle class="k9" cx="674.2" cy="248.7" r="4.4"/><circle class="k9" cx="687.1" cy="248.7" r="4.4"/><circle class="k9" cx="680.6" cy="253.8" r="4.4"/><circle class="k9" cx="702.5" cy="247.4" r="4.4"/><circle class="k9" cx="705.1" cy="257.7" r="4.4"/><circle class="k9" cx="692.2" cy="264.1" r="4.4"/><circle class="k9" cx="678.1" cy="269.3" r="4.4"/><circle class="k9" cx="692.2" cy="270.5" r="4.4"/><circle class="k9" cx="698.6" cy="269.3" r="4.4"/><circle class="k9" cx="710.2" cy="277.6" r="4.4"/><circle class="k8" cx="703.1" cy="280.8" r="4.4"/><circle class="k9" cx="679.4" cy="279.5" r="4.4"/><circle class="k9" cx="685.8" cy="289.8" r="4.4"/><circle class="k9" cx="696.1" cy="289.8" r="4.4"/><circle class="k9" cx="687.1" cy="293.7" r="4.4"/><circle class="k9" cx="705.1" cy="295" r="4.4"/><circle class="k9" cx="711.5" cy="300.7" r="4.4"/><circle class="k8" cx="698" cy="304" r="4.4"/><circle class="k8" cx="681.3" cy="307.2" r="4.4"/><circle class="k9" cx="693.5" cy="313.6" r="4.4"/><circle class="k7" cx="689" cy="320" r="4.4"/><circle class="k9" cx="698.6" cy="320.7" r="4.4"/><circle class="k9" cx="706.4" cy="319.4" r="4.4"/><circle class="k9" cx="690.9" cy="329" r="4.4"/><circle class="k9" cx="708.3" cy="328.4" r="4.4"/><circle class="k9" cx="692.2" cy="338.7" r="4.4"/><circle class="k9" cx="699.9" cy="341.2" r="4.4"/><circle class="k9" cx="706.4" cy="343.2" r="4.4"/><circle class="k9" cx="694.8" cy="347.7" r="4.4"/><circle class="k9" cx="661.4" cy="210.1" r="4.4"/><circle class="k9" cx="669.1" cy="211.4" r="4.4"/><circle class="k9" cx="676.8" cy="208.9" r="4.4"/><circle class="k7" cx="647.2" cy="208.9" r="4.4"/><circle class="k8" cx="687.8" cy="361.1" r="4.4"/></g>
<g class="st"><path class="s1" d="M813.9 62.3L816.3 67.3M841.9 71L837.5 73.4M841.9 71L843.8 75.6M826.4 139.1L827.4 143M843.8 155.1L840.3 154.2M843.8 155.1L840.9 158.7M847.9 171.8L843 167M847.9 171.8L843 177.3M858.4 188.8L862.7 191.5M858.4 188.8L855.9 181.9M858.4 188.8L850.9 190.5M901.3 56.3L906 56.4M901.3 56.3L907.4 52.4M890.9 62.6L889 66.4M890.9 62.6L887.6 64.2M925.1 75.3L920.8 69M925.1 75.3L918.8 80.2M926 80.6L920.9 85M919 103.1L917.4 96.3M911.9 103.7L907 111.5M911.9 103.7L919 94.8M911.9 103.7L919 103.1M911.9 103.7L904.8 101.8M911.9 103.7L907.1 104.4M911.9 103.7L911.3 116M907 111.5L904.8 101.8M907 111.5L904.7 108.3M907 111.5L902.3 119.8M881.7 80L884.4 75.1M881.7 80L878.6 83.4M889.4 111.7L883.2 113.3M889.4 111.7L895.8 108.4M885.6 108.3L881.3 111.6M859.9 122.4L862.4 119.9M872.7 126.2L868.9 121.9M867.6 135.2L871.3 133.2M872.7 126.2L872.8 131.2M891 134.1L894.6 126.2M891 134.1L894.4 135.6M883.4 151.4L876.6 149.4M883.4 151.4L887 153.6M897.1 155.8L893.7 159.1M884.3 157.1L887.3 159.8M879.1 173.8L875.4 169M883.3 170.4L888.1 177.7M883.3 170.4L883.8 175.3M892.7 183.5L901 185.2M892.7 183.5L892 192.1M892.7 183.5L888.1 177.7M892.7 183.5L888.5 181.9M901 185.2L904.8 188.8M874.7 191.6L870.8 192.9M874.7 191.6L873.9 195.5M874.7 191.6L865 189.2M915.7 194.6L909.7 203.8M915.7 194.6L912.2 193.5M909.7 203.8L909.2 198.1M892 192.1L890.1 203M852.2 190.5L852.4 197M913.2 231.3L917.2 224.9M913.2 231.3L916.2 229.4M890.1 203L888.1 195.6M888.1 258.3L891.7 258.6M888.1 258.3L881.1 261.3M832.9 224.3L834.4 230.1M832.9 224.3L827.8 222.8M809.7 66.5L805.9 70.7M818.7 58.1L809.7 66.5M818.7 58.1L818.7 65.2M809.7 66.5L814.2 63.3M809.7 66.5L814.2 69.4M852.2 91.5L851.5 87.4M852.2 91.5L845.7 96.7M852.2 91.5L857.9 90.9M845.7 96.7L843.8 99.9M845.7 96.7L850.2 100.2M859.9 116L857.3 109.9M826.4 139.1L823.2 134.6M836.7 140.4L836.1 135.9M836.7 140.4L841.2 137.8M836.7 140.4L826.4 139.1M826.4 139.1L830.3 142.3M826.4 139.1L824.5 143M849.6 155.8L843.2 154.5M849.6 155.8L843.8 159M853.4 169.9L848.3 171.9M853.4 169.9L866.3 166.1M850.9 190.5L846.4 190.5M852.2 190.5L847 190.5M850.9 190.5L849.6 195M852.2 190.5L850.2 195M907.4 52.4L895.8 59.4M895.8 59.4L900.3 67.1M895.8 59.4L890.1 62.6M924.1 69.1L920.3 65.8M924.1 69.1L926 80.6M900.3 67.1L901.3 71.6M919 94.8L915.8 89.9M919 94.8L919 103.1M911.3 116L902.3 119.8M894.6 126.2L896.2 131.7M894.6 126.2L893.3 121.8M894.6 126.2L885.6 131.4M881.7 80L885.6 78.1M881.7 80L886.2 83.2M881.7 80L876.6 81.3M885.6 108.3L888.8 112.8M859.9 116L865.6 116.6M859.9 122.4L865.6 119.8M872.7 126.2L872.1 121.8M872.7 126.2L867.6 135.2M885.6 131.4L881.7 134.6M884.3 145.5L881.1 141.7M884.3 145.5L876.6 149.4M876.6 149.4L884.3 157.1M866.3 166.1L865 160.3M888.1 167.4L889.4 161.6M897.1 155.8L884.3 157.1M884.3 157.1L888.1 167.4M866.3 166.1L867.6 162.6M872.7 169.9L870.8 164.5M866.3 166.1L872.7 169.9M888.1 167.4L888.1 177.7M872.7 169.9L879.1 173.8M872.7 169.9L871.4 177.7M879.1 173.8L871.4 177.7M879.1 173.8L881.7 177M871.4 177.7L872.1 182.2M904.8 180.2L897.1 188.6M865 189.2L868.9 187.9M897.1 188.6L888.1 195.6M920.3 191.2L914.5 191.8M920.3 191.2L912.6 199.5M912.6 199.5L910.6 196M912.6 199.5L908.1 209.5M888.1 195.6L877.9 196.9M888.1 195.6L890.7 202.3M877.9 196.9L872.7 198.9M908.1 209.5L919.6 213.4M919.6 213.4L922.2 218.8M913.2 231.3L919 227.8M913.2 231.3L908.4 230.4M910 251.9L906.1 255.8M888.1 258.3L883 263.5M888.1 258.3L885.2 254.2M857.9 255.8L863.4 258.7M857.9 255.8L855.4 251.3M870.8 237.8L871.4 233.9M870.8 237.8L872.4 241.6M832.9 224.3L838.3 222.4M832.9 224.3L827.7 225.9"/><path class="s2" d="M818.7 72.3L816.3 67.3M833.2 75.8L828.2 76.5M833.2 75.8L832.5 81.8M833.2 75.8L835 72.5M833.2 75.8L837.5 73.4M833.2 75.8L836.9 76.6M831.6 81.3L827.4 79.2M875 131.2L871.3 133.2M875 131.2L877.9 137.8M872.9 136.1L872.8 131.2M872.9 136.1L869.6 138.9M921.2 218.5L919.1 227.4M921.2 218.5L917.2 224.9M919.1 227.4L916.2 229.4M895.4 230.1L903.6 229.4M895.4 230.1L891.1 229.8M818.7 72.3L818.7 65.2M818.7 72.3L818.7 66.2M818.7 72.3L814.2 69.4M818.7 72.3L823.2 72.9M831.6 81.3L829.7 77.4M818.7 72.3L818.7 77.1M831.6 81.3L834.8 83.2M831.6 81.3L830.9 87.1M873.4 71L874.3 65.8M873.4 71L872.4 76.8M877.9 137.8L881.7 134.6M877.9 137.8L872.1 139.7M877.9 137.8L881.1 141.7M924.8 224.3L922.2 218.8M924.8 224.3L919 227.8M903.6 229.4L908.4 230.4M877.9 268.6L883 263.5M877.9 268.6L873.4 265.1"/><path class="s4" d="M825.5 110L825.2 117.3M825.5 110L829.2 111.7M871 55.3L870.6 51.4M875.3 60.7L872.7 54.1M871 55.3L874 42.7M871.4 99.3L866.3 100.8M833.6 261.1L835.1 257.8M844.4 285.3L848.2 286M833.6 261.1L840.6 257.7M833.6 261.1L832 257.1M866.3 103.1L860.5 103.4M825.2 117.3L824.5 111.1M825.2 117.3L829 115.3M825.2 117.3L828.4 121.8M874 42.7L869.8 47.2M875.3 60.7L870.5 56.2M875.3 60.7L874.3 65.8M875.3 60.7L879.8 63.3M871.4 82.6L872.4 76.8M871.4 82.6L876.6 81.3M871.4 99.3L875.3 96M871.4 82.6L867.6 86.4M866.3 103.1L865 96.7M840.6 257.7L843.8 260.9M844.4 285.3L843.8 290.5M782.1 366.3L783.4 371.8M782.1 366.3L778.9 363.7"/><path class="s5" d="M807.2 127.5L810.8 128.8M825.2 160.3L821.8 158.1M822.6 146.8L820.5 151.4M819.6 162.7L823.6 165.1M819.6 162.7L815.3 167M830.7 182.8L834.3 182.8M830.7 182.8L836.3 186.6M836.7 69.1L835 72.5M845.7 80.1L843.8 75.6M845.7 80.1L841.9 82.6M857.3 91.1L861.2 102.3M857.3 91.1L850.9 83.2M828.4 146.9L827.4 143M828.4 146.9L832.6 150.1M838 162.2L840.9 158.7M838 162.2L843 167M866.9 194.2L862.7 191.5M838.7 196.5L834.2 202.1M838.7 196.5L848.3 199.5M902.3 105L907.1 104.4M902.3 105L904.7 108.3M899.7 72.3L893.4 71.2M861.2 102.3L866.3 100.8M902.3 105L895.8 108.4M884.3 114.7L880.6 114.8M866.3 141.7L869.6 138.9M890.7 155.8L887 153.6M890.3 162.5L893.7 159.1M890.3 162.5L887.3 159.8M863.7 154.5L867.6 159.4M866.9 194.2L870.8 192.9M873.1 199.3L873.9 195.5M866.9 194.2L873.1 199.3M863.4 210.4L858.1 207M886.9 229.4L891.1 229.8M886.9 229.4L887.2 225.9M874 264.2L862.9 259.5M874 264.2L881.1 261.3M862.9 259.5L862.4 256M862.9 259.5L859.8 264.1M868.9 214.6L872.6 215.9M863.4 210.4L867.6 200.8M886.9 229.4L881.9 228.1M834.2 230.1L836.4 226.4M819.2 232.5L824.2 231.1M819.2 232.5L819.3 238M814.9 235.8L810.2 234.9M861.6 279.8L856.8 283.2M862.4 285.3L857.2 286M861.6 279.8L859.1 274.2M849.1 306.4L846 304.2M845.7 310.4L844.3 306.1M849.1 306.4L842.5 314.5M842.5 314.5L842.5 307.2M842.5 314.5L846.3 321.4M805.9 355.4L802.6 359M797.5 377.9L802.3 374.1M795.6 383L793.1 380.2M814.9 235.8L811.7 237.9M807.2 127.5L799.5 126.2M807.2 127.5L802.7 127.5M822.6 146.8L818.1 149.4M825.2 160.3L826.4 163.8M825.2 184.1L820.7 185.4M825.2 184.1L831.6 183.4M818.7 60.1L814.2 63.3M818.7 60.1L818.7 66.2M836.7 69.1L838.7 73.2M827.7 73.6L823.2 72.9M827.7 73.6L829.7 77.4M850.9 83.2L851.5 87.4M863.7 90.3L857.9 90.9M841.9 103.1L843.8 99.9M854.7 103.8L850.2 100.2M841.9 103.1L840.6 108.3M854.7 103.8L860.5 103.4M854.7 103.8L857.3 109.9M822.6 146.8L824.5 143M838 162.2L837.4 157.7M838 162.2L843.8 159M848.3 199.5L849.6 195M834.2 202.1L834.2 205.8M848.3 199.5L850.2 195M848.3 199.5L853.4 202.7M902.3 76.1L901.3 71.6M899.7 72.3L894.6 74.2M902.3 76.1L907.4 80.6M902.3 76.1L895.8 76.1M863.7 90.3L867.6 86.4M863.7 90.3L865 96.7M884.3 114.7L888.1 116M866.3 141.7L872.1 139.7M863.7 154.5L865 160.3M890.7 155.8L889.4 161.6M893.3 208.9L890.7 202.3M867.6 200.8L872.7 198.9M867.6 200.8L863.1 203.4M893.3 208.9L890.7 213M882.4 250L885.2 254.2M868.9 261.5L873.4 265.1M868.9 261.5L863.4 258.7M868.9 261.5L865.3 257.1M866.9 243.6L864.4 248.1M868.9 214.6L872.7 213M868.9 214.6L871.4 218.2M866.9 243.6L870.5 244.5M882.4 250L878.2 247.7M834.2 230.1L836.1 235.8M834.2 230.1L839 225.2M834.2 230.1L828.4 228.8M814.9 235.8L818.7 231.7M814.9 235.8L817.1 239.7M847.7 270.5L852.2 269.6M847.7 270.5L853.1 272.2M862.4 285.3L860.5 279.5M842.5 307.2L839.6 302.4M842.5 307.2L848.3 307.2M845.7 310.4L849.9 308.8M842.5 307.2L840.9 313M845.7 310.4L842.5 314.6M814.2 289.2L811.3 285M814.2 289.2L812 292.1M805.9 355.4L809.7 352.8M805.9 355.4L804.9 360.2M797.5 377.9L804.6 375.6M797.5 377.9L791.1 377.5M772.5 383L778.6 380.1M795.6 383L790.1 380.1"/><path class="s6" d="M889.4 232.6L888.5 227.5M895.3 258.9L902.3 259.6M895.3 258.9L891.7 258.6M823.9 105L824.5 111.1M823.9 105L828.4 109.2M889.4 232.6L886.2 229.1M902.3 259.6L906.1 255.8M852.8 246.8L855.4 251.3M852.2 239.7L855.4 234.2M852.2 239.7L852.2 236.2M852.2 239.7L852.8 246.8"/><path class="s7" d="M786.6 224.3L790.2 226.8M792 241L790.3 237.7M792 241L790.6 244.8M814.9 91.5L811.2 89M814.5 130L823.8 134.5M814.5 130L810.8 128.8M838 182.8L834.3 182.8M823.2 77.2L828.2 76.5M831.8 87.8L832.5 81.8M840.6 77.4L836.9 76.6M823.2 77.2L827.4 79.2M831.8 87.8L840.6 77.4M823.8 134.5L827.7 130.4M838 182.8L843 177.3M887.1 70.2L889 66.4M870.2 47.5L870.6 51.4M870.2 47.5L872.7 54.1M887.1 70.2L893.4 71.2M887.1 70.2L884.4 75.1M852.7 203.6L858.1 207M852.7 203.6L852.4 197M856.6 268.6L859.8 264.1M838 241.6L837.3 248.1M876.9 226.9L876.6 222M876.9 226.9L881.9 228.1M864.9 227.1L869.5 224.4M864.9 227.1L868.5 228.6M836 236L829.1 229.7M836 236L834.4 230.1M829.1 229.7L833.8 226.2M829.1 229.7L822.8 221.4M829.1 229.7L824.2 231.1M822.8 221.4L825.3 217.3M822.8 221.4L827.8 222.8M819.4 243.6L819.3 238M780.2 241L781.9 244.5M780.2 241L776.6 241.6M856.6 268.6L859.1 274.2M818.1 264.1L819.8 269.1M800.1 309.7L802.2 304.1M801.6 315.4L804.4 319.9M801.6 315.4L806.3 317.7M785.3 239.1L784.5 243.6M774.4 320L774.9 315.5M785.3 239.1L786.2 234.4M804 221.7L802.6 225.7M786.6 224.3L787.6 229.4M785.3 239.1L791 241.5M819.4 243.6L813.9 241.8M818.7 81.9L814.2 80.6M814.9 91.5L810.4 92.2M807.2 145.5L800.1 143.6M807.2 145.5L802 150.7M807.2 145.5L810.4 148.7M838 182.8L831.6 183.4M816.2 208.9L813 204.2M840.6 77.4L838.7 73.2M818.7 81.9L818.7 77.1M830.3 92.8L830.9 87.1M840.6 77.4L839.3 81.3M830.3 92.8L834.2 89M820 130.1L825.8 128.2M820 130.1L823.2 134.6M838 182.8L840.6 178.3M838 182.8L839.9 186.7M858.6 205.9L853.4 202.7M889.4 76.1L894.6 74.2M889.4 76.1L895.8 76.1M865.6 51.7L869.8 47.2M865.6 51.7L870.5 56.2M889.4 76.1L885.6 78.1M889.4 76.1L890.1 81.3M858.6 205.9L863.1 203.4M883 225.6L886.2 229.1M883 225.6L885.6 221.4M883 225.6L878.5 223.6M859.9 225.6L866 227.8M859.9 225.6L852.2 232.6M852.2 232.6L855.4 230.7M852.2 232.6L852.2 236.2M838 241.6L836.1 235.8M822.6 227.5L828.4 228.8M822.6 227.5L827.7 225.9M822.6 215.9L822.6 227.5M822.6 215.9L816.2 208.9M822.6 227.5L818.7 231.7M804 221.7L802.4 225.9M819.4 243.6L817.1 239.7M819.4 243.6L814.6 241.6M785.3 239.1L786.6 234.9M856.6 268.6L851.8 266.4M856.6 268.6L852.2 269.6M847.7 289.8L852.2 285.6M847.7 289.8L845.4 292.7M818.1 264.1L822.9 263.5M818.1 264.1L813.9 261.5M818.1 264.1L817.1 268.6M800.1 309.7L799.8 303.3M800.1 309.7L800.1 306.2M800.1 309.7L799.1 314.6M813.6 350.2L808.5 347.7M813.6 350.2L809.7 352.8M774.4 320L772.1 316.8M774.4 320L773.4 324.5"/><path class="s8" d="M758.9 73.2L764.8 69.1M758.9 73.2L756.1 75.3M758.9 73.2L754.8 77.6M766.7 87.1L763.3 92.6M773.7 136.3L773.7 131.3M773.7 136.3L771.1 139M773.7 136.3L770.5 141.5M818.5 156L821.8 158.1M818.5 156L820.5 151.4M838 85.1L841.9 82.6M838.5 126.3L839 130.3M838.5 126.3L842.1 130.8M853.4 175.1L855.9 181.9M910.8 56.5L906 56.4M910.8 56.5L916.4 62.6M916.4 62.6L920.8 69M912.6 85.1L918.8 80.2M915.8 89.4L920.9 85M915.8 89.4L917.4 96.3M897.8 137.2L894.4 135.6M871.6 164.3L867.6 159.4M871.6 164.3L875.4 169M908.7 192.4L904.8 188.8M908.7 192.4L912.2 193.5M908.7 192.4L909.2 198.1M887.5 222.3L887.2 225.9M887.5 222.3L888.5 227.5M872.1 230.1L868.5 228.6M838.5 222.7L833.8 226.2M838.5 222.7L836.4 226.4M773.1 242.3L776.6 241.6M850.2 328.4L846.3 321.4M804.3 298.5L809.3 299.6M804.3 298.5L802.2 304.1M811 320L806.3 317.7M794.9 331L799.1 326.1M794.9 331L796.5 325.2M803.3 345.1L805.2 341M791.4 352.4L782.8 352.2M791.4 352.4L793.7 359.2M799.3 362.6L807.1 370.3M799.3 362.6L802.6 359M807.1 370.3L802.3 374.1M759.5 302.3L758.9 298.6M759.5 302.3L755.7 301.5M782.1 307.2L778.7 309.1M813.6 204.2L816.8 200.6M813.6 204.2L808.4 202.5M764.8 69.1L759 73.2M766.7 87.1L765.4 90.6M777.6 132.7L775.7 129.5M777.6 132.7L773.1 137.2M802 74.8L805.9 77.1M802 74.8L796.9 80.6M802 74.8L805.9 70.7M813.6 152L810.4 148.7M813.6 152L818.1 149.4M809.7 199.5L808.5 194.4M809.7 199.5L806.5 195.6M809.7 199.5L814.9 198.2M809.7 199.5L813 204.2M838 85.1L834.8 83.2M838 85.1L839.3 81.3M838 85.1L834.2 89M839.3 121.1L839.3 117.3M839.3 121.1L835.4 123.7M839.3 121.1L837.4 126.2M834.2 145.5L830.3 142.3M834.2 145.5L835.4 149.4M853.4 175.1L848.3 174.4M916.4 62.6L920.3 65.8M912.6 85.1L907.4 80.6M912.6 85.1L915.8 89.9M897.8 137.2L896.2 131.7M890.7 86.4L890.1 81.3M890.7 86.4L886.2 83.2M868.9 159L867.6 162.6M868.9 159L870.8 164.5M872.7 186.7L872.1 182.2M872.7 186.7L868.9 187.9M908.7 192.4L914.5 191.8M908.7 192.4L910.6 196M888.1 217.2L890.7 213M888.1 217.2L885.6 221.4M876.6 211.4L872.7 213M876.6 211.4L875.3 216.6M872.1 230.1L873 225.9M872.1 230.1L866 227.8M858.6 228.8L855.4 230.7M858.6 228.8L855.4 234.2M872.1 230.1L871.4 233.9M874 245.5L872.4 241.6M874 245.5L870.5 244.5M874 245.5L878.2 247.7M843.8 220.4L839 225.2M843.8 220.4L838.3 222.4M773.1 242.3L774.7 245.5M773.1 242.3L767 244.8M850.2 328.4L844.8 323.6M809.7 259L805.9 258.3M809.7 259L813.9 261.5M800.1 302.7L804.9 298.8M800.1 302.7L800.1 306.2M811 320L814.6 315.2M811 320L807.2 320.7M811 320L811.7 323.9M791.1 326.5L794.6 322.9M791.1 326.5L794.6 331.3M803.3 345.1L800.7 340.6M803.3 345.1L808.5 347.7M782.8 352.2L785.6 349.3M793.7 359.2L791.1 352.8M782.8 352.2L775.6 361.1M804 365L804.9 360.2M793.7 359.2L804 365M804 365L811.7 373.4M775.6 361.1L778.9 363.7M811.7 373.4L804.6 375.6M760.3 280.8L756.7 279.2M760.3 280.8L763.8 285.3M765.4 304L761.9 299.5M765.4 304L767.7 308.8M782.1 307.2L776 310.4"/><path class="s9" d="M800.1 217.8L802 210.1M800.1 217.8L794.3 211.4M789.2 204.5L781.4 203M789.2 204.5L782.8 200.8M793.8 229.4L801.3 229.7M793.8 229.4L788.6 234.5M793.8 229.4L792.4 222M793.8 229.4L790.2 226.8M788.6 234.5L790.3 237.7M789.2 248.7L790.6 244.8M753.2 77.4L756.1 75.3M750.6 81.9L754.8 77.6M759.8 98.1L763.3 92.6M759.8 98.1L753.8 105M759.8 98.1L763.5 107M770.2 121.7L758.3 123.7M770.2 121.7L760.9 127.5M773.8 126.2L773.7 131.3M768.6 141.7L771.1 139M767.3 146.8L770.5 141.5M777.9 153.5L767.3 146.8M777.9 153.5L771.2 164.8M794.4 176.1L800.3 170.3M794.4 176.1L786.6 173.8M807.4 86.4L809.7 79.3M807.4 86.4L802 96.7M807.4 86.4L811.2 89M799.6 102.7L791.7 92.8M799.6 102.7L805.9 92.8M799.6 102.7L791.7 109.5M799.6 102.7L805.9 112.1M801.2 159.1L800.3 170.3M801.2 159.1L807.2 164.8M800.3 170.3L807.2 164.8M800.3 170.3L811 171.2M827.7 167.4L823.6 165.1M811 171.2L815.3 167M806.2 173.4L800.7 164.8M806.2 173.4L807.2 164.8M806.2 173.4L814.9 167.4M806.2 173.4L811 182.8M841.9 190.5L836.3 186.6M832.9 113.4L829.2 111.7M839.5 134.3L839 130.3M845.7 135.2L842.1 130.8M831.6 126.2L827.7 130.4M839.5 134.3L831.6 126.2M836.7 153.2L832.6 150.1M836.7 153.2L840.3 154.2M884.3 65.8L887.6 64.2M875.6 86.8L878.6 83.4M875.6 86.8L879.1 92.8M877 115L883.2 113.3M877 115L881.3 111.6M877 115L880.6 114.8M865 117.5L862.4 119.9M865 117.5L868.9 121.9M884.3 180.2L883.8 175.3M884.3 180.2L888.5 181.9M861.8 252.6L862.4 256M836.6 254.5L835.1 257.8M836.6 254.5L837.3 248.1M836.6 254.5L827.7 262.8M876.4 217.1L876.6 222M876.4 217.1L872.6 215.9M874 221.7L869.5 224.4M827.9 213.2L825.3 217.3M827.9 213.2L834.2 209.5M805.5 234L810.2 234.9M805.5 234L809.7 239.7M783.6 248.1L781.9 244.5M851.9 286.7L856.8 283.2M851.9 286.7L856.6 281.5M851.9 286.7L857.2 286M851.9 286.7L848.2 286M843 301.9L846 304.2M843 301.9L836.7 297.5M843 301.9L844.3 306.1M830.3 253.2L832 257.1M821.4 274.1L827.7 262.8M821.4 274.1L819.8 269.1M814.2 300.7L809.3 299.6M815.5 315.7L807.2 324.5M815.5 315.7L812.3 327.7M807.2 324.5L804.4 319.9M807.2 324.5L798.2 319.4M803.3 321.3L799.1 326.1M798.2 319.4L796.5 325.2M807.1 337L798.2 336.1M807.1 337L805.2 341M790.6 377.5L777.9 381.1M790.6 377.5L793.1 380.2M777.9 381.1L784.7 377.2M783.6 248.1L784.5 243.6M783.6 248.1L776.3 248.7M764.5 260.9L771.2 264.1M764.5 260.9L764.8 269.3M779.1 269.7L781.5 284.5M779.1 269.7L771.2 264.1M779.1 269.7L771.2 270.5M779.1 269.7L784 279.5M762.6 275.1L771.2 270.5M762.6 275.1L753.2 277.6M781.5 284.5L776.3 293.7M758.3 295L758.9 298.6M751.9 300.7L755.7 301.5M775.3 311L778.7 309.1M775.3 311L774.9 315.5M769.1 324.3L760.1 323.8M769.1 324.3L769.9 313.6M760.1 323.8L772.5 329M763.4 346.4L771.2 338.7M763.4 346.4L757 343.2M820 196.9L816.8 200.6M803.3 200.8L808.4 202.5M794.2 214.6L787.8 209.8M794.2 214.6L792.4 222M787.8 209.8L781.4 203M787 229.7L792.4 222M787 229.7L786.2 234.4M801.3 229.7L802.6 225.7M788.6 234.5L787.6 229.4M788.6 234.5L796.9 242.9M796.6 244L791 241.5M796.6 244L802 257.7M796.6 244L789.2 248.7M808.5 240L811.7 237.9M808.5 240L813.9 241.8M792.4 222L800.7 230.1M792.4 222L787.9 230.7M781.4 203L790.5 198.2M781.4 203L786.6 208.9M775.4 197L771.2 190.5M775.4 197L782.8 200.8M753.2 77.4L759 73.2M764.1 94.1L765.4 90.6M764.1 94.1L754.5 100.5M754.5 100.5L763.5 107M753.8 105L763.5 107M763.5 107L772.5 109.5M763.5 107L765.4 116.6M772.5 109.5L765.4 116.6M765.4 116.6L758.3 123.7M765.4 116.6L760.9 127.5M773.8 126.2L775.7 129.5M768.6 141.7L773.1 137.2M768.6 141.7L777.6 148.1M767.3 146.8L777.6 148.1M777.6 148.1L780.2 158.4M782.8 152L793 141.7M782.8 152L796.9 155.8M780.2 158.4L771.2 164.8M780.2 158.4L769.9 168.7M771.2 164.8L777.6 169.9M769.9 168.7L777.6 169.9M786.6 173.8L780.2 180.2M780.2 180.2L772.5 186.7M772.5 186.7L777.6 191.8M771.2 190.5L776.3 202.1M777.6 191.8L786.6 193.1M777.6 191.8L776.3 202.1M786.6 193.1L782.8 200.8M790.5 198.2L782.8 200.8M776.3 202.1L786.6 208.9M809.7 79.3L805.9 77.1M791.7 86.4L796.9 80.6M809.7 79.3L814.2 80.6M791.7 86.4L802 96.7M791.7 92.8L802 96.7M805.9 92.8L810.4 92.2M802 96.7L799.5 109.5M791.7 109.5L799.5 109.5M791.7 109.5L805.9 112.1M791.7 109.5L789.2 119.8M791.7 109.5L791.7 125M789.2 119.8L798.2 127.5M791.7 125L799.5 126.2M798.2 127.5L802.7 127.5M793 141.7L800.1 143.6M796.9 155.8L802 150.7M796.9 155.8L800.7 164.8M796.9 155.8L807.2 164.8M800.7 164.8L800.7 176.4M807.2 164.8L814.9 167.4M807.2 164.8L811 171.2M827.7 167.4L826.4 163.8M811 171.2L800.7 176.4M811 182.8L807.2 189.2M816.2 186.7L820.7 185.4M816.2 186.7L807.2 189.2M807.2 189.2L808.5 194.4M803.3 191.8L806.5 195.6M803.3 191.8L803.3 200.8M820 196.9L814.9 198.2M803.3 200.8L802 210.1M839.3 113.4L840.6 108.3M832.9 113.4L828.4 109.2M832.9 113.4L829 115.3M831.6 126.2L828.4 121.8M839.3 113.4L839.3 117.3M831.6 126.2L835.4 123.7M835.4 131.4L837.4 126.2M831.6 126.2L825.8 128.2M835.4 131.4L845.7 135.2M835.4 131.4L836.1 135.9M845.7 135.2L841.2 137.8M836.7 153.2L835.4 149.4M836.7 153.2L843.2 154.5M836.7 153.2L837.4 157.7M843.2 173.8L848.3 171.9M843.2 173.8L848.3 174.4M843.2 173.8L840.6 178.3M841.9 190.5L839.9 186.7M841.9 190.5L846.4 190.5M841.9 190.5L847 190.5M834.2 209.5L834.2 205.8M884.3 65.8L890.1 62.6M892 117.3L893.3 121.8M884.3 65.8L879.8 63.3M879.1 92.8L875.3 96M892 117.3L888.8 112.8M892 117.3L888.1 116M871.4 117.3L865.6 116.6M871.4 117.3L865.6 119.8M871.4 117.3L872.1 121.8M884.3 180.2L881.7 177M861.8 252.6L865.3 257.1M861.8 252.6L864.4 248.1M847 264.1L843.8 260.9M874 221.7L875.3 216.6M874 221.7L871.4 218.2M874 221.7L878.5 223.6M874 221.7L873 225.9M800.7 230.1L802.4 225.9M809.7 239.7L814.6 241.6M787.9 230.7L786.6 234.9M776.3 248.7L774.7 245.5M760.9 247.4L767 244.8M847 264.1L851.8 266.4M858.6 273.8L853.1 272.2M858.6 273.8L856.6 281.5M858.6 273.8L860.5 279.5M856.6 281.5L852.2 285.6M843.2 295.6L843.8 290.5M843.2 295.6L845.4 292.7M836.7 297.5L839.6 302.4M854.1 307.2L848.3 307.2M854.1 307.2L849.9 308.8M839.3 318.7L840.9 313M839.3 318.7L842.5 314.6M839.3 318.7L844.8 323.6M830.3 253.2L827.7 262.8M827.7 262.8L822.9 263.5M827.7 262.8L826.4 277M802 257.7L805.9 258.3M816.2 273.1L817.1 268.6M826.4 277L816.2 273.1M816.2 273.1L802 278.3M816.2 273.1L808.5 280.8M808.5 280.8L811.3 285M809.7 295L812 292.1M809.7 295L799.5 296.9M809.7 295L814.2 300.7M809.7 295L804.9 298.8M799.5 296.9L799.8 303.3M814.2 300.7L818.1 310.4M818.1 310.4L814.6 315.2M798.2 319.4L799.1 314.6M803.3 321.3L807.2 320.7M812.3 327.7L811.7 323.9M803.3 321.3L812.3 327.7M798.2 319.4L794.6 322.9M798.2 336.1L794.6 331.3M812.3 327.7L812.3 334.8M812.3 334.8L803.3 341.2M798.2 336.1L803.3 341.2M798.2 336.1L800.7 340.6M788.5 346.4L785.6 349.3M788.5 346.4L791.1 352.8M784.7 377.2L783.4 371.8M784.7 377.2L791.1 377.5M784.7 377.2L778.6 380.1M784.7 377.2L790.1 380.1M796.9 242.9L789.2 248.7M789.2 248.7L782.8 253.8M776.3 248.7L782.8 253.8M760.9 247.4L758.3 257.7M758.3 257.7L764.8 269.3M771.2 264.1L764.8 269.3M785.3 269.3L771.2 270.5M785.3 269.3L784 279.5M753.2 277.6L756.7 279.2M767.3 289.8L763.8 285.3M784 279.5L777.6 289.8M777.6 289.8L767.3 289.8M767.3 289.8L776.3 293.7M758.3 295L751.9 300.7M758.3 295L761.9 299.5M769.9 313.6L767.7 308.8M769.9 313.6L776 310.4M769.9 313.6L772.1 316.8M769.9 313.6L764.8 320.7M772.5 329L773.4 324.5M764.8 320.7L757 319.4M764.8 320.7L755.1 328.4M757 319.4L755.1 328.4M772.5 329L771.2 338.7M771.2 338.7L763.5 341.2M771.2 338.7L768.6 347.7M763.5 341.2L768.6 347.7M757 343.2L768.6 347.7M802 210.1L794.3 211.4M794.3 211.4L786.6 208.9"/><circle class="k9" cx="800.1" cy="217.8" r="4.4"/><circle class="k9" cx="789.2" cy="204.5" r="4.4"/><circle class="k9" cx="793.8" cy="229.4" r="4.4"/><circle class="k7" cx="792" cy="241" r="4.4"/><circle class="k8" cx="758.9" cy="73.2" r="4.4"/><circle class="k9" cx="759.8" cy="98.1" r="4.4"/><circle class="k9" cx="770.2" cy="121.7" r="4.4"/><circle class="k8" cx="773.7" cy="136.3" r="4.4"/><circle class="k9" cx="777.9" cy="153.5" r="4.4"/><circle class="k9" cx="794.4" cy="176.1" r="4.4"/><circle class="k9" cx="807.4" cy="86.4" r="4.4"/><circle class="k9" cx="799.6" cy="102.7" r="4.4"/><circle class="k7" cx="814.5" cy="130" r="4.4"/><circle class="k9" cx="801.2" cy="159.1" r="4.4"/><circle class="k8" cx="818.5" cy="156" r="4.4"/><circle class="k9" cx="800.3" cy="170.3" r="4.4"/><circle class="k5" cx="819.6" cy="162.7" r="4.4"/><circle class="k9" cx="806.2" cy="173.4" r="4.4"/><circle class="k5" cx="830.7" cy="182.8" r="4.4"/><circle class="k1" cx="813.9" cy="62.3" r="4.4"/><circle class="k2" cx="833.2" cy="75.8" r="4.4"/><circle class="k7" cx="823.2" cy="77.2" r="4.4"/><circle class="k7" cx="831.8" cy="87.8" r="4.4"/><circle class="k5" cx="845.7" cy="80.1" r="4.4"/><circle class="k5" cx="857.3" cy="91.1" r="4.4"/><circle class="k4" cx="825.5" cy="110" r="4.4"/><circle class="k8" cx="838.5" cy="126.3" r="4.4"/><circle class="k7" cx="823.8" cy="134.5" r="4.4"/><circle class="k9" cx="839.5" cy="134.3" r="4.4"/><circle class="k5" cx="828.4" cy="146.9" r="4.4"/><circle class="k1" cx="843.8" cy="155.1" r="4.4"/><circle class="k1" cx="847.9" cy="171.8" r="4.4"/><circle class="k1" cx="858.4" cy="188.8" r="4.4"/><circle class="k5" cx="838.7" cy="196.5" r="4.4"/><circle class="k1" cx="901.3" cy="56.3" r="4.4"/><circle class="k1" cx="890.9" cy="62.6" r="4.4"/><circle class="k8" cx="910.8" cy="56.5" r="4.4"/><circle class="k1" cx="925.1" cy="75.3" r="4.4"/><circle class="k8" cx="915.8" cy="89.4" r="4.4"/><circle class="k1" cx="911.9" cy="103.7" r="4.4"/><circle class="k1" cx="907" cy="111.5" r="4.4"/><circle class="k7" cx="870.2" cy="47.5" r="4.4"/><circle class="k4" cx="871" cy="55.3" r="4.4"/><circle class="k7" cx="887.1" cy="70.2" r="4.4"/><circle class="k9" cx="875.6" cy="86.8" r="4.4"/><circle class="k5" cx="861.2" cy="102.3" r="4.4"/><circle class="k1" cx="889.4" cy="111.7" r="4.4"/><circle class="k9" cx="877" cy="115" r="4.4"/><circle class="k9" cx="865" cy="117.5" r="4.4"/><circle class="k2" cx="875" cy="131.2" r="4.4"/><circle class="k2" cx="872.9" cy="136.1" r="4.4"/><circle class="k1" cx="891" cy="134.1" r="4.4"/><circle class="k1" cx="883.4" cy="151.4" r="4.4"/><circle class="k5" cx="890.3" cy="162.5" r="4.4"/><circle class="k8" cx="871.6" cy="164.3" r="4.4"/><circle class="k1" cx="883.3" cy="170.4" r="4.4"/><circle class="k1" cx="892.7" cy="183.5" r="4.4"/><circle class="k1" cx="901" cy="185.2" r="4.4"/><circle class="k1" cx="874.7" cy="191.6" r="4.4"/><circle class="k5" cx="866.9" cy="194.2" r="4.4"/><circle class="k1" cx="915.7" cy="194.6" r="4.4"/><circle class="k1" cx="909.7" cy="203.8" r="4.4"/><circle class="k1" cx="892" cy="192.1" r="4.4"/><circle class="k5" cx="873.1" cy="199.3" r="4.4"/><circle class="k7" cx="852.7" cy="203.6" r="4.4"/><circle class="k2" cx="921.2" cy="218.5" r="4.4"/><circle class="k2" cx="919.1" cy="227.4" r="4.4"/><circle class="k2" cx="895.4" cy="230.1" r="4.4"/><circle class="k1" cx="890.1" cy="203" r="4.4"/><circle class="k8" cx="887.5" cy="222.3" r="4.4"/><circle class="k6" cx="895.3" cy="258.9" r="4.4"/><circle class="k5" cx="874" cy="264.2" r="4.4"/><circle class="k5" cx="862.9" cy="259.5" r="4.4"/><circle class="k9" cx="836.6" cy="254.5" r="4.4"/><circle class="k9" cx="876.4" cy="217.1" r="4.4"/><circle class="k5" cx="863.4" cy="210.4" r="4.4"/><circle class="k7" cx="876.9" cy="226.9" r="4.4"/><circle class="k7" cx="864.9" cy="227.1" r="4.4"/><circle class="k7" cx="836" cy="236" r="4.4"/><circle class="k8" cx="838.5" cy="222.7" r="4.4"/><circle class="k7" cx="829.1" cy="229.7" r="4.4"/><circle class="k7" cx="822.8" cy="221.4" r="4.4"/><circle class="k9" cx="827.9" cy="213.2" r="4.4"/><circle class="k5" cx="819.2" cy="232.5" r="4.4"/><circle class="k9" cx="805.5" cy="234" r="4.4"/><circle class="k7" cx="780.2" cy="241" r="4.4"/><circle class="k9" cx="851.9" cy="286.7" r="4.4"/><circle class="k5" cx="861.6" cy="279.8" r="4.4"/><circle class="k9" cx="843" cy="301.9" r="4.4"/><circle class="k5" cx="849.1" cy="306.4" r="4.4"/><circle class="k5" cx="842.5" cy="314.5" r="4.4"/><circle class="k4" cx="833.6" cy="261.1" r="4.4"/><circle class="k9" cx="821.4" cy="274.1" r="4.4"/><circle class="k8" cx="804.3" cy="298.5" r="4.4"/><circle class="k9" cx="815.5" cy="315.7" r="4.4"/><circle class="k7" cx="801.6" cy="315.4" r="4.4"/><circle class="k9" cx="807.2" cy="324.5" r="4.4"/><circle class="k8" cx="794.9" cy="331" r="4.4"/><circle class="k9" cx="807.1" cy="337" r="4.4"/><circle class="k8" cx="791.4" cy="352.4" r="4.4"/><circle class="k8" cx="799.3" cy="362.6" r="4.4"/><circle class="k8" cx="807.1" cy="370.3" r="4.4"/><circle class="k9" cx="790.6" cy="377.5" r="4.4"/><circle class="k9" cx="777.9" cy="381.1" r="4.4"/><circle class="k9" cx="783.6" cy="248.1" r="4.4"/><circle class="k9" cx="764.5" cy="260.9" r="4.4"/><circle class="k9" cx="779.1" cy="269.7" r="4.4"/><circle class="k9" cx="762.6" cy="275.1" r="4.4"/><circle class="k9" cx="781.5" cy="284.5" r="4.4"/><circle class="k8" cx="759.5" cy="302.3" r="4.4"/><circle class="k9" cx="775.3" cy="311" r="4.4"/><circle class="k9" cx="769.1" cy="324.3" r="4.4"/><circle class="k9" cx="760.1" cy="323.8" r="4.4"/><circle class="k9" cx="763.4" cy="346.4" r="4.4"/><circle class="k8" cx="813.6" cy="204.2" r="4.4"/><circle class="k9" cx="794.2" cy="214.6" r="4.4"/><circle class="k9" cx="787.8" cy="209.8" r="4.4"/><circle class="k9" cx="787" cy="229.7" r="4.4"/><circle class="k9" cx="801.3" cy="229.7" r="4.4"/><circle class="k9" cx="788.6" cy="234.5" r="4.4"/><circle class="k9" cx="796.6" cy="244" r="4.4"/><circle class="k9" cx="808.5" cy="240" r="4.4"/><circle class="k9" cx="792.4" cy="222" r="4.4"/><circle class="k9" cx="781.4" cy="203" r="4.4"/><circle class="k9" cx="775.4" cy="197" r="4.4"/><circle class="k8" cx="764.8" cy="69.1" r="4.4"/><circle class="k9" cx="753.2" cy="77.4" r="4.4"/><circle class="k9" cx="750.6" cy="81.9" r="4.4"/><circle class="k8" cx="766.7" cy="87.1" r="4.4"/><circle class="k9" cx="764.1" cy="94.1" r="4.4"/><circle class="k9" cx="754.5" cy="100.5" r="4.4"/><circle class="k9" cx="753.8" cy="105" r="4.4"/><circle class="k9" cx="763.5" cy="107" r="4.4"/><circle class="k9" cx="772.5" cy="109.5" r="4.4"/><circle class="k9" cx="765.4" cy="116.6" r="4.4"/><circle class="k9" cx="758.3" cy="123.7" r="4.4"/><circle class="k9" cx="760.9" cy="127.5" r="4.4"/><circle class="k9" cx="773.8" cy="126.2" r="4.4"/><circle class="k8" cx="777.6" cy="132.7" r="4.4"/><circle class="k9" cx="768.6" cy="141.7" r="4.4"/><circle class="k9" cx="767.3" cy="146.8" r="4.4"/><circle class="k9" cx="777.6" cy="148.1" r="4.4"/><circle class="k9" cx="782.8" cy="152" r="4.4"/><circle class="k9" cx="780.2" cy="158.4" r="4.4"/><circle class="k9" cx="771.2" cy="164.8" r="4.4"/><circle class="k9" cx="769.9" cy="168.7" r="4.4"/><circle class="k9" cx="777.6" cy="169.9" r="4.4"/><circle class="k9" cx="786.6" cy="173.8" r="4.4"/><circle class="k9" cx="780.2" cy="180.2" r="4.4"/><circle class="k9" cx="772.5" cy="186.7" r="4.4"/><circle class="k9" cx="771.2" cy="190.5" r="4.4"/><circle class="k9" cx="777.6" cy="191.8" r="4.4"/><circle class="k9" cx="786.6" cy="193.1" r="4.4"/><circle class="k9" cx="790.5" cy="198.2" r="4.4"/><circle class="k9" cx="782.8" cy="200.8" r="4.4"/><circle class="k9" cx="776.3" cy="202.1" r="4.4"/><circle class="k8" cx="802" cy="74.8" r="4.4"/><circle class="k9" cx="809.7" cy="79.3" r="4.4"/><circle class="k9" cx="791.7" cy="86.4" r="4.4"/><circle class="k9" cx="791.7" cy="92.8" r="4.4"/><circle class="k9" cx="805.9" cy="92.8" r="4.4"/><circle class="k9" cx="802" cy="96.7" r="4.4"/><circle class="k9" cx="791.7" cy="109.5" r="4.4"/><circle class="k9" cx="799.5" cy="109.5" r="4.4"/><circle class="k9" cx="805.9" cy="112.1" r="4.4"/><circle class="k9" cx="789.2" cy="119.8" r="4.4"/><circle class="k9" cx="791.7" cy="125" r="4.4"/><circle class="k9" cx="798.2" cy="127.5" r="4.4"/><circle class="k5" cx="807.2" cy="127.5" r="4.4"/><circle class="k9" cx="793" cy="141.7" r="4.4"/><circle class="k7" cx="807.2" cy="145.5" r="4.4"/><circle class="k9" cx="796.9" cy="155.8" r="4.4"/><circle class="k8" cx="813.6" cy="152" r="4.4"/><circle class="k9" cx="800.7" cy="164.8" r="4.4"/><circle class="k9" cx="807.2" cy="164.8" r="4.4"/><circle class="k5" cx="825.2" cy="160.3" r="4.4"/><circle class="k9" cx="814.9" cy="167.4" r="4.4"/><circle class="k9" cx="827.7" cy="167.4" r="4.4"/><circle class="k9" cx="811" cy="171.2" r="4.4"/><circle class="k9" cx="800.7" cy="176.4" r="4.4"/><circle class="k9" cx="811" cy="182.8" r="4.4"/><circle class="k5" cx="825.2" cy="184.1" r="4.4"/><circle class="k9" cx="816.2" cy="186.7" r="4.4"/><circle class="k9" cx="807.2" cy="189.2" r="4.4"/><circle class="k9" cx="803.3" cy="191.8" r="4.4"/><circle class="k9" cx="820" cy="196.9" r="4.4"/><circle class="k8" cx="809.7" cy="199.5" r="4.4"/><circle class="k9" cx="803.3" cy="200.8" r="4.4"/><circle class="k1" cx="818.7" cy="58.1" r="4.4"/><circle class="k5" cx="818.7" cy="60.1" r="4.4"/><circle class="k1" cx="809.7" cy="66.5" r="4.4"/><circle class="k5" cx="836.7" cy="69.1" r="4.4"/><circle class="k1" cx="841.9" cy="71" r="4.4"/><circle class="k5" cx="827.7" cy="73.6" r="4.4"/><circle class="k2" cx="818.7" cy="72.3" r="4.4"/><circle class="k2" cx="831.6" cy="81.3" r="4.4"/><circle class="k7" cx="840.6" cy="77.4" r="4.4"/><circle class="k8" cx="838" cy="85.1" r="4.4"/><circle class="k7" cx="818.7" cy="81.9" r="4.4"/><circle class="k5" cx="850.9" cy="83.2" r="4.4"/><circle class="k1" cx="852.2" cy="91.5" r="4.4"/><circle class="k1" cx="845.7" cy="96.7" r="4.4"/><circle class="k7" cx="830.3" cy="92.8" r="4.4"/><circle class="k7" cx="814.9" cy="91.5" r="4.4"/><circle class="k5" cx="841.9" cy="103.1" r="4.4"/><circle class="k5" cx="854.7" cy="103.8" r="4.4"/><circle class="k6" cx="823.9" cy="105" r="4.4"/><circle class="k4" cx="825.2" cy="117.3" r="4.4"/><circle class="k9" cx="839.3" cy="113.4" r="4.4"/><circle class="k9" cx="832.9" cy="113.4" r="4.4"/><circle class="k8" cx="839.3" cy="121.1" r="4.4"/><circle class="k9" cx="831.6" cy="126.2" r="4.4"/><circle class="k7" cx="820" cy="130.1" r="4.4"/><circle class="k9" cx="835.4" cy="131.4" r="4.4"/><circle class="k9" cx="845.7" cy="135.2" r="4.4"/><circle class="k1" cx="836.7" cy="140.4" r="4.4"/><circle class="k1" cx="826.4" cy="139.1" r="4.4"/><circle class="k8" cx="834.2" cy="145.5" r="4.4"/><circle class="k5" cx="822.6" cy="146.8" r="4.4"/><circle class="k9" cx="836.7" cy="153.2" r="4.4"/><circle class="k1" cx="849.6" cy="155.8" r="4.4"/><circle class="k5" cx="838" cy="162.2" r="4.4"/><circle class="k9" cx="843.2" cy="173.8" r="4.4"/><circle class="k1" cx="853.4" cy="169.9" r="4.4"/><circle class="k8" cx="853.4" cy="175.1" r="4.4"/><circle class="k7" cx="838" cy="182.8" r="4.4"/><circle class="k9" cx="841.9" cy="190.5" r="4.4"/><circle class="k1" cx="850.9" cy="190.5" r="4.4"/><circle class="k5" cx="834.2" cy="202.1" r="4.4"/><circle class="k5" cx="848.3" cy="199.5" r="4.4"/><circle class="k1" cx="907.4" cy="52.4" r="4.4"/><circle class="k1" cx="895.8" cy="59.4" r="4.4"/><circle class="k8" cx="916.4" cy="62.6" r="4.4"/><circle class="k1" cx="924.1" cy="69.1" r="4.4"/><circle class="k1" cx="900.3" cy="67.1" r="4.4"/><circle class="k5" cx="899.7" cy="72.3" r="4.4"/><circle class="k5" cx="902.3" cy="76.1" r="4.4"/><circle class="k1" cx="926" cy="80.6" r="4.4"/><circle class="k8" cx="912.6" cy="85.1" r="4.4"/><circle class="k1" cx="919" cy="94.8" r="4.4"/><circle class="k1" cx="919" cy="103.1" r="4.4"/><circle class="k1" cx="904.8" cy="101.8" r="4.4"/><circle class="k5" cx="902.3" cy="105" r="4.4"/><circle class="k1" cx="911.3" cy="116" r="4.4"/><circle class="k1" cx="902.3" cy="119.8" r="4.4"/><circle class="k1" cx="894.6" cy="126.2" r="4.4"/><circle class="k8" cx="897.8" cy="137.2" r="4.4"/><circle class="k4" cx="874" cy="42.7" r="4.4"/><circle class="k7" cx="865.6" cy="51.7" r="4.4"/><circle class="k4" cx="875.3" cy="60.7" r="4.4"/><circle class="k2" cx="873.4" cy="71" r="4.4"/><circle class="k9" cx="884.3" cy="65.8" r="4.4"/><circle class="k7" cx="889.4" cy="76.1" r="4.4"/><circle class="k1" cx="881.7" cy="80" r="4.4"/><circle class="k8" cx="890.7" cy="86.4" r="4.4"/><circle class="k9" cx="879.1" cy="92.8" r="4.4"/><circle class="k4" cx="871.4" cy="82.6" r="4.4"/><circle class="k5" cx="863.7" cy="90.3" r="4.4"/><circle class="k4" cx="871.4" cy="99.3" r="4.4"/><circle class="k4" cx="866.3" cy="103.1" r="4.4"/><circle class="k1" cx="885.6" cy="108.3" r="4.4"/><circle class="k5" cx="884.3" cy="114.7" r="4.4"/><circle class="k9" cx="892" cy="117.3" r="4.4"/><circle class="k9" cx="871.4" cy="117.3" r="4.4"/><circle class="k1" cx="859.9" cy="116" r="4.4"/><circle class="k1" cx="859.9" cy="122.4" r="4.4"/><circle class="k1" cx="872.7" cy="126.2" r="4.4"/><circle class="k1" cx="867.6" cy="135.2" r="4.4"/><circle class="k1" cx="885.6" cy="131.4" r="4.4"/><circle class="k2" cx="877.9" cy="137.8" r="4.4"/><circle class="k5" cx="866.3" cy="141.7" r="4.4"/><circle class="k1" cx="884.3" cy="145.5" r="4.4"/><circle class="k1" cx="876.6" cy="149.4" r="4.4"/><circle class="k5" cx="863.7" cy="154.5" r="4.4"/><circle class="k5" cx="890.7" cy="155.8" r="4.4"/><circle class="k1" cx="897.1" cy="155.8" r="4.4"/><circle class="k1" cx="884.3" cy="157.1" r="4.4"/><circle class="k8" cx="868.9" cy="159" r="4.4"/><circle class="k1" cx="866.3" cy="166.1" r="4.4"/><circle class="k1" cx="888.1" cy="167.4" r="4.4"/><circle class="k1" cx="872.7" cy="169.9" r="4.4"/><circle class="k1" cx="879.1" cy="173.8" r="4.4"/><circle class="k5" cx="904.8" cy="173.8" r="4.4"/><circle class="k1" cx="888.1" cy="177.7" r="4.4"/><circle class="k1" cx="871.4" cy="177.7" r="4.4"/><circle class="k1" cx="904.8" cy="180.2" r="4.4"/><circle class="k9" cx="884.3" cy="180.2" r="4.4"/><circle class="k8" cx="872.7" cy="186.7" r="4.4"/><circle class="k1" cx="865" cy="189.2" r="4.4"/><circle class="k1" cx="897.1" cy="188.6" r="4.4"/><circle class="k1" cx="852.2" cy="190.5" r="4.4"/><circle class="k1" cx="920.3" cy="191.2" r="4.4"/><circle class="k8" cx="908.7" cy="192.4" r="4.4"/><circle class="k1" cx="912.6" cy="199.5" r="4.4"/><circle class="k1" cx="888.1" cy="195.6" r="4.4"/><circle class="k1" cx="877.9" cy="196.9" r="4.4"/><circle class="k5" cx="867.6" cy="200.8" r="4.4"/><circle class="k7" cx="858.6" cy="205.9" r="4.4"/><circle class="k1" cx="908.1" cy="209.5" r="4.4"/><circle class="k1" cx="919.6" cy="213.4" r="4.4"/><circle class="k2" cx="924.8" cy="224.3" r="4.4"/><circle class="k1" cx="913.2" cy="231.3" r="4.4"/><circle class="k2" cx="903.6" cy="229.4" r="4.4"/><circle class="k5" cx="893.3" cy="208.9" r="4.4"/><circle class="k5" cx="886.9" cy="229.4" r="4.4"/><circle class="k6" cx="889.4" cy="232.6" r="4.4"/><circle class="k1" cx="910" cy="251.9" r="4.4"/><circle class="k6" cx="902.3" cy="259.6" r="4.4"/><circle class="k1" cx="888.1" cy="258.3" r="4.4"/><circle class="k2" cx="877.9" cy="268.6" r="4.4"/><circle class="k5" cx="868.9" cy="261.5" r="4.4"/><circle class="k1" cx="857.9" cy="255.8" r="4.4"/><circle class="k9" cx="861.8" cy="252.6" r="4.4"/><circle class="k4" cx="840.6" cy="257.7" r="4.4"/><circle class="k8" cx="888.1" cy="217.2" r="4.4"/><circle class="k8" cx="876.6" cy="211.4" r="4.4"/><circle class="k5" cx="868.9" cy="214.6" r="4.4"/><circle class="k9" cx="874" cy="221.7" r="4.4"/><circle class="k7" cx="883" cy="225.6" r="4.4"/><circle class="k7" cx="859.9" cy="225.6" r="4.4"/><circle class="k8" cx="858.6" cy="228.8" r="4.4"/><circle class="k8" cx="872.1" cy="230.1" r="4.4"/><circle class="k7" cx="852.2" cy="232.6" r="4.4"/><circle class="k1" cx="870.8" cy="237.8" r="4.4"/><circle class="k5" cx="866.9" cy="243.6" r="4.4"/><circle class="k6" cx="852.2" cy="239.7" r="4.4"/><circle class="k6" cx="852.8" cy="246.8" r="4.4"/><circle class="k8" cx="874" cy="245.5" r="4.4"/><circle class="k5" cx="882.4" cy="250" r="4.4"/><circle class="k7" cx="838" cy="241.6" r="4.4"/><circle class="k8" cx="843.8" cy="220.4" r="4.4"/><circle class="k5" cx="834.2" cy="230.1" r="4.4"/><circle class="k1" cx="832.9" cy="224.3" r="4.4"/><circle class="k7" cx="822.6" cy="215.9" r="4.4"/><circle class="k7" cx="822.6" cy="227.5" r="4.4"/><circle class="k9" cx="834.2" cy="209.5" r="4.4"/><circle class="k7" cx="804" cy="221.7" r="4.4"/><circle class="k5" cx="814.9" cy="235.8" r="4.4"/><circle class="k7" cx="819.4" cy="243.6" r="4.4"/><circle class="k9" cx="809.7" cy="239.7" r="4.4"/><circle class="k7" cx="786.6" cy="224.3" r="4.4"/><circle class="k7" cx="785.3" cy="239.1" r="4.4"/><circle class="k8" cx="773.1" cy="242.3" r="4.4"/><circle class="k9" cx="847" cy="264.1" r="4.4"/><circle class="k7" cx="856.6" cy="268.6" r="4.4"/><circle class="k5" cx="847.7" cy="270.5" r="4.4"/><circle class="k9" cx="858.6" cy="273.8" r="4.4"/><circle class="k9" cx="856.6" cy="281.5" r="4.4"/><circle class="k5" cx="862.4" cy="285.3" r="4.4"/><circle class="k4" cx="844.4" cy="285.3" r="4.4"/><circle class="k7" cx="847.7" cy="289.8" r="4.4"/><circle class="k9" cx="843.2" cy="295.6" r="4.4"/><circle class="k9" cx="836.7" cy="297.5" r="4.4"/><circle class="k9" cx="854.1" cy="307.2" r="4.4"/><circle class="k5" cx="842.5" cy="307.2" r="4.4"/><circle class="k5" cx="845.7" cy="310.4" r="4.4"/><circle class="k9" cx="839.3" cy="318.7" r="4.4"/><circle class="k8" cx="850.2" cy="328.4" r="4.4"/><circle class="k8" cx="848.3" cy="332.2" r="4.4"/><circle class="k9" cx="830.3" cy="253.2" r="4.4"/><circle class="k9" cx="827.7" cy="262.8" r="4.4"/><circle class="k9" cx="802" cy="257.7" r="4.4"/><circle class="k7" cx="818.1" cy="264.1" r="4.4"/><circle class="k8" cx="809.7" cy="259" r="4.4"/><circle class="k9" cx="826.4" cy="277" r="4.4"/><circle class="k9" cx="816.2" cy="273.1" r="4.4"/><circle class="k9" cx="802" cy="278.3" r="4.4"/><circle class="k9" cx="808.5" cy="280.8" r="4.4"/><circle class="k5" cx="814.2" cy="289.2" r="4.4"/><circle class="k9" cx="809.7" cy="295" r="4.4"/><circle class="k9" cx="799.5" cy="296.9" r="4.4"/><circle class="k9" cx="814.2" cy="300.7" r="4.4"/><circle class="k8" cx="800.1" cy="302.7" r="4.4"/><circle class="k9" cx="818.1" cy="310.4" r="4.4"/><circle class="k7" cx="800.1" cy="309.7" r="4.4"/><circle class="k8" cx="811" cy="320" r="4.4"/><circle class="k9" cx="803.3" cy="321.3" r="4.4"/><circle class="k9" cx="798.2" cy="319.4" r="4.4"/><circle class="k8" cx="791.1" cy="326.5" r="4.4"/><circle class="k9" cx="812.3" cy="327.7" r="4.4"/><circle class="k9" cx="812.3" cy="334.8" r="4.4"/><circle class="k9" cx="798.2" cy="336.1" r="4.4"/><circle class="k9" cx="803.3" cy="341.2" r="4.4"/><circle class="k8" cx="803.3" cy="345.1" r="4.4"/><circle class="k9" cx="788.5" cy="346.4" r="4.4"/><circle class="k7" cx="813.6" cy="350.2" r="4.4"/><circle class="k8" cx="782.8" cy="352.2" r="4.4"/><circle class="k5" cx="805.9" cy="355.4" r="4.4"/><circle class="k8" cx="793.7" cy="359.2" r="4.4"/><circle class="k8" cx="804" cy="365" r="4.4"/><circle class="k4" cx="782.1" cy="366.3" r="4.4"/><circle class="k8" cx="811.7" cy="373.4" r="4.4"/><circle class="k5" cx="797.5" cy="377.9" r="4.4"/><circle class="k9" cx="784.7" cy="377.2" r="4.4"/><circle class="k5" cx="772.5" cy="383" r="4.4"/><circle class="k5" cx="795.6" cy="383" r="4.4"/><circle class="k9" cx="800.7" cy="230.1" r="4.4"/><circle class="k9" cx="787.9" cy="230.7" r="4.4"/><circle class="k9" cx="796.9" cy="242.9" r="4.4"/><circle class="k9" cx="789.2" cy="248.7" r="4.4"/><circle class="k9" cx="776.3" cy="248.7" r="4.4"/><circle class="k9" cx="782.8" cy="253.8" r="4.4"/><circle class="k9" cx="760.9" cy="247.4" r="4.4"/><circle class="k9" cx="758.3" cy="257.7" r="4.4"/><circle class="k9" cx="771.2" cy="264.1" r="4.4"/><circle class="k9" cx="785.3" cy="269.3" r="4.4"/><circle class="k9" cx="771.2" cy="270.5" r="4.4"/><circle class="k9" cx="764.8" cy="269.3" r="4.4"/><circle class="k9" cx="753.2" cy="277.6" r="4.4"/><circle class="k8" cx="760.3" cy="280.8" r="4.4"/><circle class="k9" cx="784" cy="279.5" r="4.4"/><circle class="k9" cx="777.6" cy="289.8" r="4.4"/><circle class="k9" cx="767.3" cy="289.8" r="4.4"/><circle class="k9" cx="776.3" cy="293.7" r="4.4"/><circle class="k9" cx="758.3" cy="295" r="4.4"/><circle class="k9" cx="751.9" cy="300.7" r="4.4"/><circle class="k8" cx="765.4" cy="304" r="4.4"/><circle class="k8" cx="782.1" cy="307.2" r="4.4"/><circle class="k9" cx="769.9" cy="313.6" r="4.4"/><circle class="k7" cx="774.4" cy="320" r="4.4"/><circle class="k9" cx="764.8" cy="320.7" r="4.4"/><circle class="k9" cx="757" cy="319.4" r="4.4"/><circle class="k9" cx="772.5" cy="329" r="4.4"/><circle class="k9" cx="755.1" cy="328.4" r="4.4"/><circle class="k9" cx="771.2" cy="338.7" r="4.4"/><circle class="k9" cx="763.5" cy="341.2" r="4.4"/><circle class="k9" cx="757" cy="343.2" r="4.4"/><circle class="k9" cx="768.6" cy="347.7" r="4.4"/><circle class="k9" cx="802" cy="210.1" r="4.4"/><circle class="k9" cx="794.3" cy="211.4" r="4.4"/><circle class="k9" cx="786.6" cy="208.9" r="4.4"/><circle class="k7" cx="816.2" cy="208.9" r="4.4"/><circle class="k8" cx="775.6" cy="361.1" r="4.4"/></g>
<g class="st"><path class="s1" d="M1126.7 69.1L1128.4 72.5M1105 188.8L1100.7 191.5M1105 188.8L1107.5 181.9M1105 188.8L1108.7 189.6M1086.8 149.4L1083.4 150.4M1079.1 157.1L1076.1 159.8M1054.7 192.4L1058.6 188.8M1098.4 189.2L1093.6 190.4M1054.7 192.4L1051.2 193.5M1054.7 192.4L1054.2 198.1M1165.2 336.1L1160.8 336.5M1126.7 69.1L1124.7 73.2M1086.8 149.4L1083 147.5M1086.8 149.4L1079.1 157.1M1079.1 157.1L1072.7 156.5M1079.1 157.1L1077.2 162.2M1092 177.7L1091.3 173.8M1092 177.7L1088.1 175.7M1092 177.7L1091.3 182.2M1098.4 189.2L1094.5 187.9M1054.7 192.4L1048.9 191.8M1054.7 192.4L1052.8 196M1053.4 251.9L1057.3 255.8M1165.2 336.1L1168.8 331.3M1165.2 336.1L1162.7 338.7M1165.2 336.1L1162.7 340.6M1174.9 346.4L1177.8 349.3M1174.9 346.4L1172.3 352.8M1187.8 361.1L1184.2 356.6"/><path class="s2" d="M1156 86.4L1153.7 79.3M1156 86.4L1158.7 91.6M1156 86.4L1152.2 89M1137.9 110L1138.2 117.3M1137.9 110L1134.2 111.7M1137 139.1L1136 143M1056.4 111.5L1053.9 107.6M1052.1 116L1051.8 109.8M1056.4 111.5L1057.5 106.7M1056.4 111.5L1058.7 108.3M1056.4 111.5L1058.7 115.7M1090.7 126.2L1094.5 121.9M1088.4 131.2L1092.1 133.2M1088.4 131.2L1085.5 137.8M1090.5 136.1L1090.7 126.2M1090.5 136.1L1093.8 138.9M1080 151.4L1083.4 150.4M1080 151.4L1076.4 153.6M1070.2 171.2L1071.7 166.8M1053.7 203.8L1050.7 199.2M1053.7 203.8L1054.2 198.1M1129.8 261.1L1128.3 257.8M1117.7 310.4L1119.1 306.1M1120.9 314.5L1117.6 310.5M1120.9 314.5L1120.9 310.8M1120.9 314.5L1117.1 321.4M1129.8 261.1L1122.8 257.7M1129.8 261.1L1131.4 257.1M1180.6 352.2L1176.3 352.3M1070.2 171.2L1058.6 173.8M1070.2 171.2L1072.7 174.4M1153.7 79.3L1157.5 77.1M1153.7 79.3L1149.2 80.6M1117.7 96.7L1114.5 94.1M1117.7 96.7L1119.6 99.9M1117.7 96.7L1113.2 100.2M1138.2 117.3L1138.9 111.1M1138.2 117.3L1134.4 115.3M1138.2 117.3L1135 121.8M1137 139.1L1140.2 134.6M1137 139.1L1133.1 142.3M1137 139.1L1138.9 143M1052.1 116L1056.6 117.9M1090.7 126.2L1091.3 121.8M1090.7 126.2L1093.3 130.7M1085.5 137.8L1081.7 134.6M1085.5 137.8L1091.3 139.7M1085.5 137.8L1079.1 145.5M1079.1 145.5L1083 147.5M1058.6 173.8L1067.1 175.2M1067.1 175.2L1071.2 176.4M1067.1 175.2L1062.8 177.7M1050.8 199.5L1047 195.3M1050.8 199.5L1052.8 196M1050.8 199.5L1055.3 209.5M1070.1 208.9L1072.7 202.3M1055.3 209.5L1049.6 211.4M1070.1 208.9L1072.7 213M1122.8 257.7L1119.6 260.9M1117.7 310.4L1113.5 308.8M1117.7 310.4L1120.9 314.6M1180.6 352.2L1177.8 349.3M1180.6 352.2L1184.2 356.6"/><path class="s3" d="M1144.7 72.3L1147.1 67.3M1130.2 75.8L1135.2 76.5M1130.2 75.8L1130.9 81.8M1130.2 75.8L1128.4 72.5M1130.2 75.8L1121.5 71M1130.2 75.8L1126.5 76.6M1131.8 81.3L1136 79.2M1121.5 71L1119.6 75.6M1103.5 122.4L1101 119.9M1062.4 185.2L1066.6 184.3M1071.4 192.1L1071 187.8M1062.4 185.2L1058.6 188.8M1071.4 192.1L1072.3 197.5M1111.2 190.5L1111 197M1042.2 218.5L1044.3 227.4M1042.2 218.5L1046.2 224.9M1044.3 227.4L1047.2 229.4M1144.7 72.3L1144.7 65.2M1144.7 72.3L1144.7 66.2M1144.7 72.3L1149.2 69.4M1144.7 72.3L1140.2 72.9M1131.8 81.3L1133.7 77.4M1144.7 72.3L1144.7 77.1M1131.8 81.3L1128.6 83.2M1131.8 81.3L1132.5 87.1M1111.2 190.5L1116.4 190.5M1111.2 190.5L1113.2 195M1063.1 67.1L1065.3 63.3M1063.1 67.1L1062.1 71.6M1103.5 122.4L1097.8 119.8M1090.7 169.9L1092.6 164.5M1090.7 169.9L1093.9 168M1090.7 169.9L1087.5 171.9M1090.7 169.9L1091.3 173.8M1058.6 180.2L1066.3 188.6M1058.6 180.2L1062.8 177.7M1066.3 188.6L1070.8 192.1M1038.6 224.3L1041.2 218.8M1038.6 224.3L1044.4 227.8M1105.5 255.8L1100 258.7M1105.5 255.8L1108 251.3"/><path class="s4" d="M1140.8 146.8L1142.9 151.4M1149.5 62.3L1147.1 67.3M1117.7 80.1L1119.6 75.6M1117.7 80.1L1121.5 82.6M1112.5 83.2L1109.3 87.1M1135 146.9L1136 143M1135 146.9L1130.8 150.1M1119.6 155.1L1123.1 154.2M1119.6 155.1L1125.4 162.2M1115.5 171.8L1125.4 162.2M1115.5 171.8L1120.4 177.3M1096.5 194.2L1100.7 191.5M1112.5 190.5L1108.7 189.6M1056 52.4L1059.1 54.3M1037.4 80.6L1042.5 85M1044.4 103.1L1046 96.3M1051.5 103.7L1053.9 107.6M1051.5 103.7L1044.4 94.8M1051.5 103.7L1044.4 103.1M1051.5 103.7L1058.6 101.8M1051.5 103.7L1061.1 105M1051.5 103.7L1051.8 109.8M1058.6 101.8L1057.5 106.7M1061.1 105L1058.7 108.3M1061.1 119.8L1058.7 115.7M1092.4 55.3L1092.8 51.4M1088.1 60.7L1090.7 54.1M1092.4 55.3L1089.4 42.7M1063.7 72.3L1070 71.2M1081.7 80L1079 75.1M1081.7 80L1084.8 83.4M1074 111.7L1080.2 113.3M1074 111.7L1061.1 105M1077.8 108.3L1082.1 111.6M1079.1 114.7L1082.8 114.8M1095.8 135.2L1092.1 133.2M1097.1 141.7L1093.8 138.9M1068.8 126.2L1070.6 130.2M1084.3 173.8L1088 169M1080.1 170.4L1075.3 177.7M1080.1 170.4L1079.6 175.3M1070.7 183.5L1066.6 184.3M1070.7 183.5L1071 187.8M1070.7 183.5L1075.3 177.7M1070.7 183.5L1074.9 181.9M1088.7 191.6L1096.5 194.2M1088.7 191.6L1090.3 199.3M1088.7 191.6L1093.6 190.4M1096.5 194.2L1090.3 199.3M1047.7 194.6L1050.7 199.2M1047.7 194.6L1051.2 193.5M1073.3 203L1072.3 197.5M1068 230.1L1059.8 229.4M1068 230.1L1076.5 229.4M1073.3 203L1075.3 195.6M1076.5 229.4L1076.2 225.9M1074 232.6L1074.9 227.5M1068.1 258.9L1061.1 259.6M1068.1 258.9L1075.3 258.3M1075.3 258.3L1082.3 261.3M1095.8 200.8L1097.9 205.6M1076.5 229.4L1081.5 228.1M1130.5 224.3L1129 230.1M1129.2 230.1L1127 226.4M1130.5 224.3L1135.6 222.8M1075.3 177.7L1072.7 174.4M1153.7 66.5L1157.5 70.7M1140.8 146.8L1145.3 149.4M1153.7 66.5L1149.2 62.3M1153.7 66.5L1149.2 63.3M1153.7 66.5L1149.2 69.4M1135.7 73.6L1140.2 72.9M1135.7 73.6L1133.7 77.4M1112.5 83.2L1111.2 91.5M1111.2 91.5L1114.5 94.1M1111.2 91.5L1105.5 90.9M1121.5 103.1L1119.6 99.9M1121.5 103.1L1122.8 108.3M1097.1 103.1L1102.9 103.4M1103.5 116L1106.1 109.9M1126.7 140.4L1127.3 135.9M1126.7 140.4L1122.2 137.8M1140.8 146.8L1138.9 143M1113.8 155.8L1120.2 154.5M1125.4 162.2L1126 157.7M1113.8 155.8L1125.4 162.2M1110 169.9L1115.1 171.9M1110 169.9L1097.1 166.1M1112.5 190.5L1117 190.5M1112.5 190.5L1113.8 195M1056 52.4L1061.8 55.9M1037.4 80.6L1038.3 74.8M1061.1 76.1L1062.1 71.6M1063.7 72.3L1068.8 74.2M1061.1 76.1L1056 80.6M1061.1 76.1L1067.6 76.1M1044.4 94.8L1047.6 89.9M1044.4 94.8L1044.4 103.1M1061.1 119.8L1056.6 117.9M1068.8 126.2L1067.2 131.7M1068.8 126.2L1070.1 121.8M1068.8 126.2L1073.3 128.8M1089.4 42.7L1093.6 47.2M1088.1 60.7L1092.9 56.2M1088.1 60.7L1090 71M1088.1 60.7L1083.6 63.3M1090 71L1092 82.6M1081.7 80L1077.8 78.1M1081.7 80L1077.2 83.2M1081.7 80L1092 82.6M1092 82.6L1095.8 86.4M1097.1 103.1L1098.4 96.7M1077.8 108.3L1074.6 112.8M1079.1 114.7L1075.3 116M1103.5 116L1097.8 116.6M1095.8 135.2L1093.3 130.7M1097.1 141.7L1091.3 139.7M1097.1 166.1L1098.4 160.3M1075.3 167.4L1074 161.6M1075.3 167.4L1077.2 162.2M1097.1 166.1L1095.8 162.6M1097.1 166.1L1093.9 168M1075.3 167.4L1075.3 177.7M1084.3 173.8L1087.5 171.9M1084.3 173.8L1088.1 175.7M1084.3 173.8L1081.7 177M1075.3 177.7L1071.2 176.4M1075.3 195.6L1070.8 192.1M1043.1 191.2L1048.9 191.8M1043.1 191.2L1047 195.3M1075.3 195.6L1085.5 196.9M1075.3 195.6L1072.7 202.3M1085.5 196.9L1095.8 200.8M1095.8 200.8L1100.3 203.4M1059.8 229.4L1055 230.4M1074 232.6L1077.2 229.1M1061.1 259.6L1057.3 255.8M1075.3 258.3L1085.5 268.6M1075.3 258.3L1078.2 254.2M1085.5 268.6L1090 265.1M1110.6 246.8L1108 251.3M1092.6 237.8L1092 233.9M1092.6 237.8L1091 241.6M1110.6 246.8L1110.9 243.2M1129.2 230.1L1127.3 235.8M1129.2 230.1L1124.4 225.2M1130.5 224.3L1125.1 222.4M1129.2 230.1L1135 228.8M1130.5 224.3L1135.7 225.9M1149.2 289.2L1152.1 285M1149.2 289.2L1151.4 292.1"/><path class="s5" d="M1148.9 130L1139.6 134.5M1148.9 130L1156.2 127.5M1125.4 182.8L1129.1 182.8M1140.2 77.2L1135.2 76.5M1131.6 87.8L1130.9 81.8M1140.2 77.2L1136 79.2M1131.6 87.8L1127.2 82.6M1102.2 102.3L1104.1 96.7M1139.6 134.5L1135.7 130.4M1125.4 182.8L1120.4 177.3M1124.7 196.5L1129.2 202.1M1124.7 196.5L1115.1 199.5M1062.1 56.3L1057.4 56.4M1062.1 56.3L1059.1 54.3M1072.5 62.6L1074.4 66.4M1072.5 62.6L1075.8 64.2M1038.3 75.3L1042.6 69M1038.3 75.3L1044.6 80.2M1102.2 102.3L1097.1 100.8M1072.4 134.1L1070.6 130.2M1072.4 134.1L1069 135.6M1066.3 155.8L1069.7 159.1M1099.7 154.5L1095.8 159.4M1079.1 180.2L1079.6 175.3M1079.1 180.2L1074.9 181.9M1100 210.4L1105.3 207M1087 217.1L1086.5 226.9M1087 217.1L1094.5 214.6M1100 210.4L1097.9 205.6M1086.5 226.9L1081.5 228.1M1098.5 227.1L1089.4 221.7M1098.5 227.1L1094.9 228.6M1134.3 229.7L1130.8 232.8M1134.3 229.7L1129.6 226.2M1134.3 229.7L1140.6 221.4M1134.3 229.7L1139.2 231.1M1140.6 221.4L1138.1 217.3M1140.6 221.4L1135.6 222.8M1114.3 306.4L1117.4 304.2M1114.3 306.4L1117.6 310.5M1120.9 307.2L1120.9 310.8M1142 274.1L1138.8 268.5M1142 274.1L1145.3 264.1M1189 320L1188.5 315.5M1144.7 81.9L1149.2 80.6M1156.2 127.5L1163.9 126.2M1156.2 127.5L1160.7 127.5M1147.2 186.7L1142.7 185.4M1125.4 182.8L1131.8 183.4M1147.2 186.7L1151.7 187.9M1144.7 58.1L1149.2 62.3M1144.7 58.1L1144.7 65.2M1144.7 81.9L1144.7 77.1M1133.1 92.8L1132.5 87.1M1133.1 92.8L1129.2 89M1108.7 103.8L1113.2 100.2M1124.1 113.4L1122.8 108.3M1108.7 103.8L1102.9 103.4M1108.7 103.8L1106.1 109.9M1124.1 113.4L1124.1 117.3M1143.4 130.1L1137.6 128.2M1143.4 130.1L1140.2 134.6M1128 131.4L1122.8 133.3M1128 131.4L1127.3 135.9M1125.4 182.8L1122.8 178.3M1125.4 182.8L1123.5 186.7M1115.1 199.5L1113.8 195M1129.2 202.1L1129.2 205.8M1115.1 199.5L1113.2 195M1115.1 199.5L1110 202.7M1067.6 59.4L1061.8 55.9M1067.6 59.4L1065.3 63.3M1067.6 59.4L1073.3 62.6M1039.3 69.1L1043.1 65.8M1039.3 69.1L1038.3 74.8M1077.8 131.4L1073.3 128.8M1077.8 131.4L1081.7 134.6M1099.7 154.5L1098.4 160.3M1066.3 155.8L1072.7 156.5M1079.1 180.2L1081.7 177M1043.8 213.4L1049.6 211.4M1043.8 213.4L1041.2 218.8M1080.4 225.6L1077.2 229.1M1116.4 264.1L1119.6 260.9M1080.4 225.6L1077.8 221.4M1094.5 214.6L1090.7 213M1089.4 221.7L1088.1 216.6M1094.5 214.6L1089.4 221.7M1089.4 221.7L1080.4 225.6M1089.4 221.7L1090.4 225.9M1103.5 225.6L1097.4 227.8M1103.5 225.6L1111.2 232.6M1111.2 232.6L1108 230.7M1111.2 232.6L1111.2 236.2M1140.8 227.5L1135 228.8M1140.8 227.5L1135.7 225.9M1140.8 215.9L1140.8 227.5M1140.8 215.9L1144 212.4M1140.8 227.5L1144.7 231.7M1116.4 264.1L1111.6 266.4M1115.7 270.5L1111.2 269.6M1115.7 270.5L1104.8 273.8M1104.8 273.8L1105.8 277.6M1104.8 273.8L1102.9 279.5M1120.9 307.2L1123.8 302.4M1120.9 307.2L1115.1 307.2M1120.9 307.2L1122.5 313M1145.3 264.1L1140.5 263.5M1137 277L1136.3 269.9M1145.3 264.1L1149.5 261.5M1145.3 264.1L1146.3 268.6M1137 277L1142.1 275M1189 320L1191.3 316.8M1189 320L1190 324.5"/><path class="s6" d="M1176.8 224.3L1173.2 226.8M1171.4 241L1173.1 237.7M1171.4 241L1172.8 244.8M1204.5 73.2L1198.6 69.1M1204.5 73.2L1207.3 75.3M1204.5 73.2L1208.6 77.6M1192.2 164.8L1188.9 159.2M1169 176.1L1163.1 170.3M1169 176.1L1172.9 175M1148.5 91.5L1152.2 89M1163.8 102.7L1167.7 97.7M1163.8 102.7L1157.5 92.8M1163.8 102.7L1171.7 109.5M1163.8 102.7L1160.7 107.4M1162.2 159.1L1163.1 170.3M1162.2 159.1L1156.2 164.8M1138.2 160.3L1141.6 158.1M1163.1 170.3L1156.2 164.8M1163.1 170.3L1157.7 170.8M1143.8 162.7L1139.8 165.1M1143.8 162.7L1148.1 167M1157.2 173.4L1162.7 164.8M1157.2 173.4L1156.2 164.8M1157.2 173.4L1152.9 170.4M1157.2 173.4L1152.4 182.8M1132.7 182.8L1129.1 182.8M1132.7 182.8L1127.1 186.6M1122.8 77.4L1126.5 76.6M1122.8 77.4L1127.2 82.6M1125.4 85.1L1121.5 82.6M1106.1 91.1L1104.1 96.7M1106.1 91.1L1109.3 87.1M1130.5 113.4L1134.2 111.7M1124.9 126.3L1123.9 134.3M1124.9 126.3L1117.7 135.2M1131.8 126.2L1135.7 130.4M1123.9 134.3L1131.8 126.2M1126.7 153.2L1130.8 150.1M1126.7 153.2L1123.1 154.2M1110 175.1L1107.5 181.9M1093.2 47.5L1092.8 51.4M1093.2 47.5L1090.7 54.1M1087.8 86.8L1084.8 83.4M1087.8 86.8L1084.3 92.8M1092 99.3L1097.1 100.8M1086.4 115L1080.2 113.3M1086.4 115L1082.1 111.6M1086.4 115L1082.8 114.8M1098.4 117.5L1101 119.9M1098.4 117.5L1094.5 121.9M1065.6 137.2L1069 135.6M1072.7 155.8L1076.4 153.6M1073.1 162.5L1071.7 166.8M1073.1 162.5L1069.7 159.1M1073.1 162.5L1076.1 159.8M1091.8 164.3L1095.8 159.4M1091.8 164.3L1088 169M1110.7 203.6L1105.3 207M1110.7 203.6L1111 197M1089.4 264.2L1100.5 259.5M1089.4 264.2L1082.3 261.3M1100.5 259.5L1101.6 252.6M1100.5 259.5L1106.8 268.6M1126.8 254.5L1128.3 257.8M1126.8 254.5L1126.1 248.1M1126.8 254.5L1131.2 258.7M1091.3 230.1L1094.9 228.6M1124.9 222.7L1129.6 226.2M1124.9 222.7L1127 226.4M1144.2 232.5L1139.2 231.1M1135.5 213.2L1138.1 217.3M1135.5 213.2L1129.2 209.5M1144.2 232.5L1144 243.6M1148.5 235.8L1153.2 234.9M1153.7 239.7L1155.8 236.8M1183.2 241L1179.8 248.1M1183.2 241L1186.8 241.6M1111.5 286.7L1101.8 279.8M1111.5 286.7L1106.8 281.5M1111.5 286.7L1101 285.3M1111.5 286.7L1115.2 286M1101.8 279.8L1106.8 268.6M1120.4 301.9L1117.4 304.2M1120.4 301.9L1126.7 297.5M1120.4 301.9L1119.1 306.1M1113.2 328.4L1117.1 321.4M1133.1 253.2L1131.4 257.1M1149.2 300.7L1154.1 299.6M1163.3 309.7L1161.2 304.1M1147.9 315.7L1156.2 324.5M1147.9 315.7L1151.1 327.7M1161.8 315.4L1156.2 324.5M1161.8 315.4L1157.1 317.7M1156.2 324.5L1160.7 321.9M1168.5 331L1160.1 321.3M1168.5 331L1166.9 325.2M1179.8 248.1L1178.1 239.1M1179.8 248.1L1187.1 248.7M1143.4 196.9L1146.6 200.6M1160.1 200.8L1155 202.5M1176.4 229.7L1173.7 225.8M1176.4 229.7L1178.1 239.1M1176.8 224.3L1175.8 229.4M1178.1 239.1L1172.4 241.5M1161.4 257.7L1164.1 250.8M1154.9 240L1148.5 235.8M1154.9 240L1144 243.6M1198.6 69.1L1204.4 73.2M1190.9 109.5L1195.4 108.3M1190.9 109.5L1194.5 113.1M1180.6 152L1175.5 146.8M1180.6 152L1173.6 153.9M1192.2 164.8L1187.7 161.6M1193.5 168.7L1188.4 163.5M1192.2 164.8L1189 167.4M1193.5 168.7L1189.6 169.3M1185.8 191.8L1188.4 189.2M1185.8 191.8L1181.3 192.4M1185.8 191.8L1186.4 196.9M1161.4 74.8L1157.5 77.1M1161.4 74.8L1171.7 86.4M1161.4 74.8L1157.5 70.7M1171.7 86.4L1166.5 91.5M1157.5 92.8L1148.5 91.5M1163.9 109.5L1162.7 103.1M1171.7 109.5L1163.9 109.5M1171.7 109.5L1164.6 110.8M1171.7 109.5L1172.9 114.7M1171.7 109.5L1171.7 117.3M1156.2 145.5L1161.4 150.7M1156.2 145.5L1153 148.7M1162.7 164.8L1164.6 160.3M1156.2 164.8L1161.4 160.3M1162.7 164.8L1162.7 176.4M1156.2 164.8L1152.4 166.1M1156.2 164.8L1154.3 168M1138.2 160.3L1137 163.8M1162.7 176.4L1157.5 173.8M1152.4 182.8L1154.3 186M1138.2 184.1L1142.7 185.4M1138.2 184.1L1131.8 183.4M1160.1 200.8L1160.1 196.3M1143.4 196.9L1148.5 198.2M1160.1 200.8L1160.7 205.5M1144.7 60.1L1149.2 63.3M1144.7 60.1L1144.7 66.2M1122.8 77.4L1124.7 73.2M1125.4 85.1L1128.6 83.2M1122.8 77.4L1125.4 85.1M1125.4 85.1L1129.2 89M1099.7 90.3L1105.5 90.9M1139.5 105L1138.9 111.1M1139.5 105L1130.5 113.4M1130.5 113.4L1134.4 115.3M1131.8 126.2L1135 121.8M1124.1 121.1L1124.1 117.3M1124.1 121.1L1131.8 126.2M1131.8 126.2L1137.6 128.2M1117.7 135.2L1122.8 133.3M1117.7 135.2L1122.2 137.8M1129.2 145.5L1133.1 142.3M1129.2 145.5L1126.7 153.2M1126.7 153.2L1120.2 154.5M1126.7 153.2L1126 157.7M1110 175.1L1115.1 174.4M1129.2 209.5L1129.2 205.8M1104.8 205.9L1110 202.7M1065.6 137.2L1067.2 131.7M1097.8 51.7L1093.6 47.2M1097.8 51.7L1092.9 56.2M1072.7 86.4L1073.3 81.3M1072.7 86.4L1077.2 83.2M1084.3 92.8L1092 99.3M1099.7 90.3L1095.8 86.4M1099.7 90.3L1098.4 96.7M1092 117.3L1097.8 116.6M1092 117.3L1097.8 119.8M1092 117.3L1091.3 121.8M1072.7 155.8L1074 161.6M1094.5 159L1095.8 162.6M1094.5 159L1092.6 164.5M1104.8 205.9L1100.3 203.4M1081 250L1078.2 254.2M1094.5 261.5L1090 265.1M1094.5 261.5L1100 258.7M1094.5 261.5L1101.6 252.6M1101.6 252.6L1096.5 243.6M1086.8 211.4L1090.7 213M1086.8 211.4L1088.1 216.6M1091.3 230.1L1090.4 225.9M1091.3 230.1L1097.4 227.8M1104.8 228.8L1108 230.7M1104.8 228.8L1111.2 239.7M1091.3 230.1L1092 233.9M1111.2 239.7L1111.2 236.2M1089.4 245.5L1091 241.6M1096.5 243.6L1089.4 245.5M1111.2 239.7L1110.9 243.2M1089.4 245.5L1081 250M1119.6 220.4L1124.4 225.2M1119.6 220.4L1125.1 222.4M1148.5 235.8L1144.7 231.7M1148.5 235.8L1144 243.6M1144 243.6L1153.7 239.7M1178.1 239.1L1176.8 234.9M1187.1 248.7L1188.7 245.5M1106.8 268.6L1111.6 266.4M1106.8 268.6L1111.2 269.6M1106.8 281.5L1105.8 277.6M1101 285.3L1102.9 279.5M1106.8 281.5L1115.7 289.8M1120.2 295.6L1119.6 290.5M1115.7 289.8L1120.2 295.6M1126.7 297.5L1123.8 302.4M1109.3 307.2L1115.1 307.2M1109.3 307.2L1113.5 308.8M1113.2 328.4L1118.6 323.6M1133.1 253.2L1134.4 258M1161.4 257.7L1153.7 259M1153.7 259L1149.5 261.5M1147.2 273.1L1146.3 268.6M1147.2 273.1L1142.1 275M1147.2 273.1L1154.3 275.7M1147.2 273.1L1151.1 277M1153.7 295L1151.4 292.1M1153.7 295L1158.8 295.9M1153.7 295L1149.2 300.7M1153.7 295L1158.5 298.8M1163.3 309.7L1163.6 303.3M1149.2 300.7L1145.3 310.4M1163.3 309.7L1163.3 306.2M1145.3 310.4L1148.8 315.2M1163.3 309.7L1164.3 314.6M1160.1 321.3L1156.2 320.7M1151.1 327.7L1151.7 323.9M1160.1 321.3L1151.1 327.7M1172.3 326.5L1168.8 322.9M1172.3 326.5L1168.8 331.3M1151.1 327.7L1151.1 331.3M1160.1 341.2L1155.6 338M1160.1 341.2L1162.7 338.7M1187.1 248.7L1183.9 251.3M1203.1 280.8L1206.7 279.2M1203.1 280.8L1199.6 285.3"/><path class="s7" d="M1163.3 217.8L1162.4 214M1163.3 217.8L1169.1 211.4M1182 203L1178.1 203.7M1162.1 229.7L1165.8 229.5M1174.8 234.5L1172.2 231.9M1171 222L1170.3 225.7M1174.8 234.5L1173.1 237.7M1210.2 77.4L1207.3 75.3M1196.7 87.1L1200.1 92.6M1194.8 141.7L1192.3 139M1185.5 153.5L1190.8 150.2M1185.5 153.5L1188.9 159.2M1161.4 96.7L1158.7 91.6M1171.7 92.8L1167.7 97.7M1157.5 112.1L1160.7 107.4M1144.9 156L1141.6 158.1M1144.9 156L1142.9 151.4M1135.7 167.4L1139.8 165.1M1052.6 56.5L1057.4 56.4M1079.1 65.8L1075.8 64.2M1052.6 56.5L1047 62.6M1047 62.6L1042.6 69M1050.8 85.1L1044.6 80.2M1047.6 89.4L1042.5 85M1047.6 89.4L1046 96.3M1075.9 222.3L1076.2 225.9M1075.9 222.3L1074.9 227.5M1157.9 234L1153.2 234.9M1157.9 234L1155.8 236.8M1159.1 298.5L1154.1 299.6M1159.1 298.5L1161.2 304.1M1152.4 320L1157.1 317.7M1165.2 319.4L1160.7 321.9M1165.2 319.4L1166.9 325.2M1156.3 337L1160.8 336.5M1156.3 337L1158.2 341M1198.6 269.3L1198.8 265.1M1184.3 269.7L1181.9 284.5M1184.3 269.7L1188.3 266.9M1184.3 269.7L1192.2 270.5M1184.3 269.7L1181.8 274.6M1200.8 275.1L1192.2 270.5M1200.8 275.1L1205.5 276.4M1181.9 284.5L1184.5 289.1M1203.9 302.3L1204.5 298.6M1203.9 302.3L1211.5 300.7M1188.1 311L1181.3 307.2M1188.1 311L1188.5 315.5M1203.3 323.8L1198.8 324M1193.5 313.6L1193.9 319M1203.3 323.8L1197.1 326.4M1149.8 204.2L1146.6 200.6M1149.8 204.2L1155 202.5M1169.2 214.6L1172.4 212.2M1169.2 214.6L1171 222M1182 203L1178.8 206.4M1171 222L1173.7 225.8M1162.1 229.7L1160.8 225.7M1174.8 234.5L1175.8 229.4M1174.8 234.5L1170.7 238.7M1171 222L1166.8 226M1171 222L1175.5 230.7M1182 203L1177.5 200.6M1182 203L1176.8 208.9M1188 197L1192.2 190.5M1188 197L1184.3 198.9M1210.2 77.4L1204.4 73.2M1196.7 87.1L1198 90.6M1208.9 100.5L1204.1 97.3M1208.9 100.5L1204.4 103.8M1194.8 141.7L1190.3 137.2M1194.8 141.7L1185.8 148.1M1185.8 148.1L1190.9 147.5M1185.8 148.1L1184.5 153.2M1170.4 141.7L1175.5 146.8M1166.5 155.8L1173.6 153.9M1185.8 169.9L1189 167.4M1185.8 169.9L1189.6 169.3M1183.2 180.2L1180 177M1183.2 180.2L1187.1 183.4M1192.2 190.5L1187.1 202.1M1187.1 202.1L1186.4 196.9M1187.1 202.1L1176.8 208.9M1161.4 96.7L1166.5 91.5M1171.7 92.8L1161.4 96.7M1161.4 96.7L1162.7 103.1M1157.5 112.1L1164.6 110.8M1171.7 125L1171.7 117.3M1165.2 127.5L1169.7 123.7M1171.7 125L1163.9 126.2M1165.2 127.5L1160.7 127.5M1170.4 141.7L1166.5 155.8M1166.5 155.8L1161.4 150.7M1149.8 152L1153 148.7M1166.5 155.8L1164.6 160.3M1166.5 155.8L1161.4 160.3M1149.8 152L1145.3 149.4M1135.7 167.4L1137 163.8M1156.2 189.2L1154.3 186M1156.2 189.2L1151.7 187.9M1153.7 199.5L1156.9 195.6M1153.7 199.5L1148.5 198.2M1153.7 199.5L1150.4 204.2M1079.1 65.8L1073.3 62.6M1047 62.6L1043.1 65.8M1050.8 85.1L1056 80.6M1050.8 85.1L1047.6 89.9M1079.1 65.8L1083.6 63.3M1090.7 186.7L1091.3 182.2M1090.7 186.7L1094.5 187.9M1075.3 217.2L1072.7 213M1075.3 217.2L1077.8 221.4M1175.5 230.7L1176.8 234.9M1202.5 247.4L1196.4 244.8M1161.4 278.3L1154.3 275.7M1163.9 296.9L1158.8 295.9M1163.3 302.7L1158.5 298.8M1163.9 296.9L1163.6 303.3M1163.3 302.7L1163.3 306.2M1152.4 320L1148.8 315.2M1165.2 319.4L1164.3 314.6M1152.4 320L1156.2 320.7M1152.4 320L1151.7 323.9M1165.2 319.4L1168.8 322.9M1151.1 334.8L1151.1 331.3M1151.1 334.8L1155.6 338M1202.5 247.4L1203.8 252.6M1198.6 269.3L1201.9 263.5M1198.6 269.3L1195.4 266.7M1192.2 270.5L1185.1 269.9M1185.8 289.8L1182.6 284.7M1185.8 289.8L1190.9 289.8M1211.5 300.7L1208.3 297.9M1198 304L1201.5 299.5M1198 304L1193.5 313.6M1181.3 307.2L1193.5 313.6M1193.5 313.6L1191.3 316.8M1193.5 313.6L1196.1 317.1M1208.3 328.4L1203.5 324.5M1208.3 328.4L1207.3 323.9M1192.2 338.7L1191.6 333.8M1192.2 338.7L1196.1 339.9M1169.1 211.4L1165.2 210.8M1169.1 211.4L1176.8 208.9"/><path class="s8" d="M1169.6 229.4L1165.8 229.5M1169.6 229.4L1172.2 231.9M1169.6 229.4L1170.3 225.7M1169.6 229.4L1173.2 226.8M1212.8 81.9L1208.6 77.6M1203.6 98.1L1200.1 92.6M1203.6 98.1L1209.6 105M1203.6 98.1L1201.7 102.5M1193.2 121.7L1205.1 123.7M1193.2 121.7L1197.9 124.6M1189.6 126.2L1189.7 131.3M1076.3 70.2L1074.4 66.4M1076.3 70.2L1070 71.2M1076.3 70.2L1079 75.1M1125.4 241.6L1126.1 248.1M1135.7 262.8L1131.2 258.7M1127.4 236L1130.8 232.8M1127.4 236L1129 230.1M1190.3 242.3L1186.8 241.6M1119 285.3L1115.2 286M1135.7 262.8L1138.8 268.5M1198.9 260.9L1192.2 264.1M1198.9 260.9L1198.8 265.1M1192.2 264.1L1188.3 266.9M1179.4 279.5L1181.8 274.6M1210.2 277.6L1205.5 276.4M1187.1 293.7L1184.5 289.1M1205.1 295L1204.5 298.6M1194.3 324.3L1198.8 324M1194.3 324.3L1193.9 319M1190.9 329L1197.1 326.4M1159.4 221.7L1160.8 225.7M1166.5 242.9L1170.7 238.7M1166.8 244L1172.4 241.5M1166.8 244L1164.1 250.8M1166.8 244L1170.5 246.3M1162.7 230.1L1166.8 226M1199.3 94.1L1198 90.6M1199.3 94.1L1204.1 97.3M1209.6 105L1204.7 106M1198 116.6L1199 111.8M1198 116.6L1194.5 113.1M1198 116.6L1205.1 123.7M1198 116.6L1200.2 122.1M1189.6 126.2L1187.7 129.5M1183.2 158.4L1184.5 153.2M1183.2 158.4L1187.7 161.6M1183.2 158.4L1188.4 163.5M1190.9 186.7L1187.1 183.4M1190.9 186.7L1188.4 189.2M1176.8 193.1L1181.3 192.4M1176.8 193.1L1178.7 196.9M1174.2 119.8L1172.9 114.7M1174.2 119.8L1169.7 123.7M1147.2 208.9L1150.4 204.2M1074 76.1L1068.8 74.2M1074 76.1L1067.6 76.1M1071.4 117.3L1070.1 121.8M1074 76.1L1077.8 78.1M1074 76.1L1073.3 81.3M1071.4 117.3L1074.6 112.8M1071.4 117.3L1075.3 116M1125.4 241.6L1127.3 235.8M1147.2 208.9L1144 212.4M1159.4 221.7L1162.7 230.1M1190.3 242.3L1188.7 245.5M1190.3 242.3L1196.4 244.8M1119 285.3L1119.6 290.5M1135.7 262.8L1134.4 258M1135.7 262.8L1140.5 263.5M1135.7 262.8L1136.3 269.9M1154.9 280.8L1151.1 277M1154.9 280.8L1152.1 285M1166.5 242.9L1170.4 245.8M1180.6 253.8L1177.4 251.3M1180.6 253.8L1183.9 251.3M1192.2 264.1L1195.4 266.7M1178.1 269.3L1185.1 269.9M1178.1 269.3L1179.4 279.5M1210.2 277.6L1206.7 279.2M1179.4 279.5L1182.6 284.7M1187.1 293.7L1191.6 291.8M1205.1 295L1208.3 297.9M1205.1 295L1201.5 299.5M1198.6 320.7L1196.1 317.1M1190.9 329L1190 324.5M1198.6 320.7L1202.5 320M1198.6 320.7L1203.5 324.5M1190.9 329L1191.6 333.8M1199.9 341.2L1196.1 339.9"/><path class="s9" d="M1161.4 210.1L1162.4 214M1174.2 204.5L1178.1 203.7M1174.2 204.5L1180.6 200.8M1174.2 248.7L1172.8 244.8M1199.9 107L1201.7 102.5M1202.5 127.5L1197.9 124.6M1189.7 136.3L1189.7 131.3M1189.7 136.3L1192.3 139M1189.7 136.3L1196.1 146.8M1196.1 146.8L1190.8 150.2M1176.8 173.8L1172.9 175M1152.4 171.2L1157.7 170.8M1152.4 171.2L1148.1 167M1148.5 167.4L1152.9 170.4M1121.5 190.5L1127.1 186.6M1175.6 209.8L1172.4 212.2M1175.6 209.8L1178.8 206.4M1174.2 248.7L1170.5 246.3M1172.9 198.2L1177.5 200.6M1180.6 200.8L1184.3 198.9M1199.9 107L1204.4 103.8M1199.9 107L1204.7 106M1199.9 107L1195.4 108.3M1199.9 107L1199 111.8M1202.5 127.5L1200.2 122.1M1185.8 132.7L1187.7 129.5M1185.8 132.7L1190.3 137.2M1196.1 146.8L1190.9 147.5M1176.8 173.8L1180 177M1180.6 200.8L1178.7 196.9M1172.9 198.2L1180.6 200.8M1148.5 167.4L1152.4 166.1M1152.4 171.2L1154.3 168M1152.4 171.2L1157.5 173.8M1160.1 191.8L1156.9 195.6M1160.1 191.8L1160.1 196.3M1161.4 210.1L1160.7 205.5M1120.2 173.8L1115.1 171.9M1120.2 173.8L1115.1 174.4M1120.2 173.8L1122.8 178.3M1121.5 190.5L1123.5 186.7M1121.5 190.5L1117 190.5M1121.5 190.5L1116.4 190.5M1174.2 248.7L1170.4 245.8M1174.2 248.7L1177.4 251.3M1205.1 257.7L1203.8 252.6M1205.1 257.7L1201.9 263.5M1196.1 289.8L1199.6 285.3M1196.1 289.8L1190.9 289.8M1196.1 289.8L1191.6 291.8M1206.4 319.4L1202.5 320M1206.4 319.4L1207.3 323.9M1161.4 210.1L1165.2 210.8"/><path class="s10" d="M1050.2 231.3L1046.2 224.9M1050.2 231.3L1047.2 229.4M1160.1 345.1L1158.2 341M1172 352.4L1176.3 352.3M1172 352.4L1169.7 359.2M1164.1 362.6L1156.3 370.3M1164.1 362.6L1157.5 355.4M1156.3 370.3L1165.9 377.9M1172.8 377.5L1185.5 381.1M1172.8 377.5L1167.8 383M1185.5 381.1L1178.7 377.2M1050.2 231.3L1044.4 227.8M1050.2 231.3L1055 230.4M1124.1 318.7L1122.5 313M1124.1 318.7L1120.9 314.6M1124.1 318.7L1118.6 323.6M1160.1 345.1L1162.7 340.6M1169.7 359.2L1172.3 352.8M1157.5 355.4L1159.4 365M1169.7 359.2L1159.4 365M1159.4 365L1151.7 373.4M1151.7 373.4L1165.9 377.9M1165.9 377.9L1178.7 377.2M1178.7 377.2L1190.9 383M1178.7 377.2L1167.8 383"/><circle class="k7" cx="1163.3" cy="217.8" r="4.4"/><circle class="k9" cx="1174.2" cy="204.5" r="4.4"/><circle class="k8" cx="1169.6" cy="229.4" r="4.4"/><circle class="k6" cx="1171.4" cy="241" r="4.4"/><circle class="k6" cx="1204.5" cy="73.2" r="4.4"/><circle class="k8" cx="1203.6" cy="98.1" r="4.4"/><circle class="k8" cx="1193.2" cy="121.7" r="4.4"/><circle class="k9" cx="1189.7" cy="136.3" r="4.4"/><circle class="k7" cx="1185.5" cy="153.5" r="4.4"/><circle class="k6" cx="1169" cy="176.1" r="4.4"/><circle class="k2" cx="1156" cy="86.4" r="4.4"/><circle class="k6" cx="1163.8" cy="102.7" r="4.4"/><circle class="k5" cx="1148.9" cy="130" r="4.4"/><circle class="k6" cx="1162.2" cy="159.1" r="4.4"/><circle class="k7" cx="1144.9" cy="156" r="4.4"/><circle class="k6" cx="1163.1" cy="170.3" r="4.4"/><circle class="k6" cx="1143.8" cy="162.7" r="4.4"/><circle class="k6" cx="1157.2" cy="173.4" r="4.4"/><circle class="k6" cx="1132.7" cy="182.8" r="4.4"/><circle class="k4" cx="1149.5" cy="62.3" r="4.4"/><circle class="k3" cx="1130.2" cy="75.8" r="4.4"/><circle class="k5" cx="1140.2" cy="77.2" r="4.4"/><circle class="k5" cx="1131.6" cy="87.8" r="4.4"/><circle class="k4" cx="1117.7" cy="80.1" r="4.4"/><circle class="k6" cx="1106.1" cy="91.1" r="4.4"/><circle class="k2" cx="1137.9" cy="110" r="4.4"/><circle class="k6" cx="1124.9" cy="126.3" r="4.4"/><circle class="k5" cx="1139.6" cy="134.5" r="4.4"/><circle class="k6" cx="1123.9" cy="134.3" r="4.4"/><circle class="k4" cx="1135" cy="146.9" r="4.4"/><circle class="k4" cx="1119.6" cy="155.1" r="4.4"/><circle class="k4" cx="1115.5" cy="171.8" r="4.4"/><circle class="k1" cx="1105" cy="188.8" r="4.4"/><circle class="k5" cx="1124.7" cy="196.5" r="4.4"/><circle class="k5" cx="1062.1" cy="56.3" r="4.4"/><circle class="k5" cx="1072.5" cy="62.6" r="4.4"/><circle class="k7" cx="1052.6" cy="56.5" r="4.4"/><circle class="k5" cx="1038.3" cy="75.3" r="4.4"/><circle class="k7" cx="1047.6" cy="89.4" r="4.4"/><circle class="k4" cx="1051.5" cy="103.7" r="4.4"/><circle class="k2" cx="1056.4" cy="111.5" r="4.4"/><circle class="k6" cx="1093.2" cy="47.5" r="4.4"/><circle class="k4" cx="1092.4" cy="55.3" r="4.4"/><circle class="k8" cx="1076.3" cy="70.2" r="4.4"/><circle class="k6" cx="1087.8" cy="86.8" r="4.4"/><circle class="k5" cx="1102.2" cy="102.3" r="4.4"/><circle class="k4" cx="1074" cy="111.7" r="4.4"/><circle class="k6" cx="1086.4" cy="115" r="4.4"/><circle class="k6" cx="1098.4" cy="117.5" r="4.4"/><circle class="k2" cx="1088.4" cy="131.2" r="4.4"/><circle class="k2" cx="1090.5" cy="136.1" r="4.4"/><circle class="k5" cx="1072.4" cy="134.1" r="4.4"/><circle class="k2" cx="1080" cy="151.4" r="4.4"/><circle class="k6" cx="1073.1" cy="162.5" r="4.4"/><circle class="k6" cx="1091.8" cy="164.3" r="4.4"/><circle class="k4" cx="1080.1" cy="170.4" r="4.4"/><circle class="k4" cx="1070.7" cy="183.5" r="4.4"/><circle class="k3" cx="1062.4" cy="185.2" r="4.4"/><circle class="k4" cx="1088.7" cy="191.6" r="4.4"/><circle class="k4" cx="1096.5" cy="194.2" r="4.4"/><circle class="k4" cx="1047.7" cy="194.6" r="4.4"/><circle class="k2" cx="1053.7" cy="203.8" r="4.4"/><circle class="k3" cx="1071.4" cy="192.1" r="4.4"/><circle class="k4" cx="1090.3" cy="199.3" r="4.4"/><circle class="k6" cx="1110.7" cy="203.6" r="4.4"/><circle class="k3" cx="1042.2" cy="218.5" r="4.4"/><circle class="k3" cx="1044.3" cy="227.4" r="4.4"/><circle class="k4" cx="1068" cy="230.1" r="4.4"/><circle class="k4" cx="1073.3" cy="203" r="4.4"/><circle class="k7" cx="1075.9" cy="222.3" r="4.4"/><circle class="k4" cx="1068.1" cy="258.9" r="4.4"/><circle class="k6" cx="1089.4" cy="264.2" r="4.4"/><circle class="k6" cx="1100.5" cy="259.5" r="4.4"/><circle class="k6" cx="1126.8" cy="254.5" r="4.4"/><circle class="k5" cx="1087" cy="217.1" r="4.4"/><circle class="k5" cx="1100" cy="210.4" r="4.4"/><circle class="k5" cx="1086.5" cy="226.9" r="4.4"/><circle class="k5" cx="1098.5" cy="227.1" r="4.4"/><circle class="k8" cx="1127.4" cy="236" r="4.4"/><circle class="k6" cx="1124.9" cy="222.7" r="4.4"/><circle class="k5" cx="1134.3" cy="229.7" r="4.4"/><circle class="k5" cx="1140.6" cy="221.4" r="4.4"/><circle class="k6" cx="1135.5" cy="213.2" r="4.4"/><circle class="k6" cx="1144.2" cy="232.5" r="4.4"/><circle class="k7" cx="1157.9" cy="234" r="4.4"/><circle class="k6" cx="1183.2" cy="241" r="4.4"/><circle class="k6" cx="1111.5" cy="286.7" r="4.4"/><circle class="k6" cx="1101.8" cy="279.8" r="4.4"/><circle class="k6" cx="1120.4" cy="301.9" r="4.4"/><circle class="k5" cx="1114.3" cy="306.4" r="4.4"/><circle class="k2" cx="1120.9" cy="314.5" r="4.4"/><circle class="k2" cx="1129.8" cy="261.1" r="4.4"/><circle class="k5" cx="1142" cy="274.1" r="4.4"/><circle class="k7" cx="1159.1" cy="298.5" r="4.4"/><circle class="k6" cx="1147.9" cy="315.7" r="4.4"/><circle class="k6" cx="1161.8" cy="315.4" r="4.4"/><circle class="k6" cx="1156.2" cy="324.5" r="4.4"/><circle class="k6" cx="1168.5" cy="331" r="4.4"/><circle class="k7" cx="1156.3" cy="337" r="4.4"/><circle class="k10" cx="1172" cy="352.4" r="4.4"/><circle class="k10" cx="1164.1" cy="362.6" r="4.4"/><circle class="k10" cx="1156.3" cy="370.3" r="4.4"/><circle class="k10" cx="1172.8" cy="377.5" r="4.4"/><circle class="k10" cx="1185.5" cy="381.1" r="4.4"/><circle class="k6" cx="1179.8" cy="248.1" r="4.4"/><circle class="k8" cx="1198.9" cy="260.9" r="4.4"/><circle class="k7" cx="1184.3" cy="269.7" r="4.4"/><circle class="k7" cx="1200.8" cy="275.1" r="4.4"/><circle class="k7" cx="1181.9" cy="284.5" r="4.4"/><circle class="k7" cx="1203.9" cy="302.3" r="4.4"/><circle class="k7" cx="1188.1" cy="311" r="4.4"/><circle class="k8" cx="1194.3" cy="324.3" r="4.4"/><circle class="k7" cx="1203.3" cy="323.8" r="4.4"/><circle class="k7" cx="1149.8" cy="204.2" r="4.4"/><circle class="k2" cx="1070.2" cy="171.2" r="4.4"/><circle class="k7" cx="1169.2" cy="214.6" r="4.4"/><circle class="k9" cx="1175.6" cy="209.8" r="4.4"/><circle class="k6" cx="1176.4" cy="229.7" r="4.4"/><circle class="k7" cx="1162.1" cy="229.7" r="4.4"/><circle class="k7" cx="1174.8" cy="234.5" r="4.4"/><circle class="k8" cx="1166.8" cy="244" r="4.4"/><circle class="k6" cx="1154.9" cy="240" r="4.4"/><circle class="k7" cx="1171" cy="222" r="4.4"/><circle class="k7" cx="1182" cy="203" r="4.4"/><circle class="k7" cx="1188" cy="197" r="4.4"/><circle class="k6" cx="1198.6" cy="69.1" r="4.4"/><circle class="k7" cx="1210.2" cy="77.4" r="4.4"/><circle class="k8" cx="1212.8" cy="81.9" r="4.4"/><circle class="k7" cx="1196.7" cy="87.1" r="4.4"/><circle class="k8" cx="1199.3" cy="94.1" r="4.4"/><circle class="k7" cx="1208.9" cy="100.5" r="4.4"/><circle class="k8" cx="1209.6" cy="105" r="4.4"/><circle class="k9" cx="1199.9" cy="107" r="4.4"/><circle class="k6" cx="1190.9" cy="109.5" r="4.4"/><circle class="k8" cx="1198" cy="116.6" r="4.4"/><circle class="k8" cx="1205.1" cy="123.7" r="4.4"/><circle class="k9" cx="1202.5" cy="127.5" r="4.4"/><circle class="k8" cx="1189.6" cy="126.2" r="4.4"/><circle class="k9" cx="1185.8" cy="132.7" r="4.4"/><circle class="k7" cx="1194.8" cy="141.7" r="4.4"/><circle class="k9" cx="1196.1" cy="146.8" r="4.4"/><circle class="k7" cx="1185.8" cy="148.1" r="4.4"/><circle class="k6" cx="1180.6" cy="152" r="4.4"/><circle class="k8" cx="1183.2" cy="158.4" r="4.4"/><circle class="k6" cx="1192.2" cy="164.8" r="4.4"/><circle class="k6" cx="1193.5" cy="168.7" r="4.4"/><circle class="k7" cx="1185.8" cy="169.9" r="4.4"/><circle class="k9" cx="1176.8" cy="173.8" r="4.4"/><circle class="k7" cx="1183.2" cy="180.2" r="4.4"/><circle class="k8" cx="1190.9" cy="186.7" r="4.4"/><circle class="k7" cx="1192.2" cy="190.5" r="4.4"/><circle class="k6" cx="1185.8" cy="191.8" r="4.4"/><circle class="k8" cx="1176.8" cy="193.1" r="4.4"/><circle class="k9" cx="1172.9" cy="198.2" r="4.4"/><circle class="k9" cx="1180.6" cy="200.8" r="4.4"/><circle class="k7" cx="1187.1" cy="202.1" r="4.4"/><circle class="k6" cx="1161.4" cy="74.8" r="4.4"/><circle class="k2" cx="1153.7" cy="79.3" r="4.4"/><circle class="k6" cx="1171.7" cy="86.4" r="4.4"/><circle class="k7" cx="1171.7" cy="92.8" r="4.4"/><circle class="k6" cx="1157.5" cy="92.8" r="4.4"/><circle class="k7" cx="1161.4" cy="96.7" r="4.4"/><circle class="k6" cx="1171.7" cy="109.5" r="4.4"/><circle class="k6" cx="1163.9" cy="109.5" r="4.4"/><circle class="k7" cx="1157.5" cy="112.1" r="4.4"/><circle class="k8" cx="1174.2" cy="119.8" r="4.4"/><circle class="k7" cx="1171.7" cy="125" r="4.4"/><circle class="k7" cx="1165.2" cy="127.5" r="4.4"/><circle class="k5" cx="1156.2" cy="127.5" r="4.4"/><circle class="k7" cx="1170.4" cy="141.7" r="4.4"/><circle class="k6" cx="1156.2" cy="145.5" r="4.4"/><circle class="k7" cx="1166.5" cy="155.8" r="4.4"/><circle class="k7" cx="1149.8" cy="152" r="4.4"/><circle class="k6" cx="1162.7" cy="164.8" r="4.4"/><circle class="k6" cx="1156.2" cy="164.8" r="4.4"/><circle class="k6" cx="1138.2" cy="160.3" r="4.4"/><circle class="k9" cx="1148.5" cy="167.4" r="4.4"/><circle class="k7" cx="1135.7" cy="167.4" r="4.4"/><circle class="k9" cx="1152.4" cy="171.2" r="4.4"/><circle class="k6" cx="1162.7" cy="176.4" r="4.4"/><circle class="k6" cx="1152.4" cy="182.8" r="4.4"/><circle class="k6" cx="1138.2" cy="184.1" r="4.4"/><circle class="k5" cx="1147.2" cy="186.7" r="4.4"/><circle class="k7" cx="1156.2" cy="189.2" r="4.4"/><circle class="k9" cx="1160.1" cy="191.8" r="4.4"/><circle class="k6" cx="1143.4" cy="196.9" r="4.4"/><circle class="k7" cx="1153.7" cy="199.5" r="4.4"/><circle class="k6" cx="1160.1" cy="200.8" r="4.4"/><circle class="k5" cx="1144.7" cy="58.1" r="4.4"/><circle class="k6" cx="1144.7" cy="60.1" r="4.4"/><circle class="k4" cx="1153.7" cy="66.5" r="4.4"/><circle class="k1" cx="1126.7" cy="69.1" r="4.4"/><circle class="k3" cx="1121.5" cy="71" r="4.4"/><circle class="k4" cx="1135.7" cy="73.6" r="4.4"/><circle class="k3" cx="1144.7" cy="72.3" r="4.4"/><circle class="k3" cx="1131.8" cy="81.3" r="4.4"/><circle class="k6" cx="1122.8" cy="77.4" r="4.4"/><circle class="k6" cx="1125.4" cy="85.1" r="4.4"/><circle class="k5" cx="1144.7" cy="81.9" r="4.4"/><circle class="k4" cx="1112.5" cy="83.2" r="4.4"/><circle class="k4" cx="1111.2" cy="91.5" r="4.4"/><circle class="k2" cx="1117.7" cy="96.7" r="4.4"/><circle class="k5" cx="1133.1" cy="92.8" r="4.4"/><circle class="k6" cx="1148.5" cy="91.5" r="4.4"/><circle class="k4" cx="1121.5" cy="103.1" r="4.4"/><circle class="k5" cx="1108.7" cy="103.8" r="4.4"/><circle class="k6" cx="1139.5" cy="105" r="4.4"/><circle class="k2" cx="1138.2" cy="117.3" r="4.4"/><circle class="k5" cx="1124.1" cy="113.4" r="4.4"/><circle class="k6" cx="1130.5" cy="113.4" r="4.4"/><circle class="k6" cx="1124.1" cy="121.1" r="4.4"/><circle class="k6" cx="1131.8" cy="126.2" r="4.4"/><circle class="k5" cx="1143.4" cy="130.1" r="4.4"/><circle class="k5" cx="1128" cy="131.4" r="4.4"/><circle class="k6" cx="1117.7" cy="135.2" r="4.4"/><circle class="k4" cx="1126.7" cy="140.4" r="4.4"/><circle class="k2" cx="1137" cy="139.1" r="4.4"/><circle class="k6" cx="1129.2" cy="145.5" r="4.4"/><circle class="k4" cx="1140.8" cy="146.8" r="4.4"/><circle class="k6" cx="1126.7" cy="153.2" r="4.4"/><circle class="k4" cx="1113.8" cy="155.8" r="4.4"/><circle class="k4" cx="1125.4" cy="162.2" r="4.4"/><circle class="k9" cx="1120.2" cy="173.8" r="4.4"/><circle class="k4" cx="1110" cy="169.9" r="4.4"/><circle class="k6" cx="1110" cy="175.1" r="4.4"/><circle class="k5" cx="1125.4" cy="182.8" r="4.4"/><circle class="k9" cx="1121.5" cy="190.5" r="4.4"/><circle class="k4" cx="1112.5" cy="190.5" r="4.4"/><circle class="k5" cx="1129.2" cy="202.1" r="4.4"/><circle class="k5" cx="1115.1" cy="199.5" r="4.4"/><circle class="k4" cx="1056" cy="52.4" r="4.4"/><circle class="k5" cx="1067.6" cy="59.4" r="4.4"/><circle class="k7" cx="1047" cy="62.6" r="4.4"/><circle class="k5" cx="1039.3" cy="69.1" r="4.4"/><circle class="k3" cx="1063.1" cy="67.1" r="4.4"/><circle class="k4" cx="1063.7" cy="72.3" r="4.4"/><circle class="k4" cx="1061.1" cy="76.1" r="4.4"/><circle class="k4" cx="1037.4" cy="80.6" r="4.4"/><circle class="k7" cx="1050.8" cy="85.1" r="4.4"/><circle class="k4" cx="1044.4" cy="94.8" r="4.4"/><circle class="k4" cx="1044.4" cy="103.1" r="4.4"/><circle class="k4" cx="1058.6" cy="101.8" r="4.4"/><circle class="k4" cx="1061.1" cy="105" r="4.4"/><circle class="k2" cx="1052.1" cy="116" r="4.4"/><circle class="k4" cx="1061.1" cy="119.8" r="4.4"/><circle class="k4" cx="1068.8" cy="126.2" r="4.4"/><circle class="k6" cx="1065.6" cy="137.2" r="4.4"/><circle class="k4" cx="1089.4" cy="42.7" r="4.4"/><circle class="k6" cx="1097.8" cy="51.7" r="4.4"/><circle class="k4" cx="1088.1" cy="60.7" r="4.4"/><circle class="k4" cx="1090" cy="71" r="4.4"/><circle class="k7" cx="1079.1" cy="65.8" r="4.4"/><circle class="k8" cx="1074" cy="76.1" r="4.4"/><circle class="k4" cx="1081.7" cy="80" r="4.4"/><circle class="k6" cx="1072.7" cy="86.4" r="4.4"/><circle class="k6" cx="1084.3" cy="92.8" r="4.4"/><circle class="k4" cx="1092" cy="82.6" r="4.4"/><circle class="k6" cx="1099.7" cy="90.3" r="4.4"/><circle class="k6" cx="1092" cy="99.3" r="4.4"/><circle class="k4" cx="1097.1" cy="103.1" r="4.4"/><circle class="k4" cx="1077.8" cy="108.3" r="4.4"/><circle class="k4" cx="1079.1" cy="114.7" r="4.4"/><circle class="k8" cx="1071.4" cy="117.3" r="4.4"/><circle class="k6" cx="1092" cy="117.3" r="4.4"/><circle class="k4" cx="1103.5" cy="116" r="4.4"/><circle class="k3" cx="1103.5" cy="122.4" r="4.4"/><circle class="k2" cx="1090.7" cy="126.2" r="4.4"/><circle class="k4" cx="1095.8" cy="135.2" r="4.4"/><circle class="k5" cx="1077.8" cy="131.4" r="4.4"/><circle class="k2" cx="1085.5" cy="137.8" r="4.4"/><circle class="k4" cx="1097.1" cy="141.7" r="4.4"/><circle class="k2" cx="1079.1" cy="145.5" r="4.4"/><circle class="k1" cx="1086.8" cy="149.4" r="4.4"/><circle class="k5" cx="1099.7" cy="154.5" r="4.4"/><circle class="k6" cx="1072.7" cy="155.8" r="4.4"/><circle class="k5" cx="1066.3" cy="155.8" r="4.4"/><circle class="k1" cx="1079.1" cy="157.1" r="4.4"/><circle class="k6" cx="1094.5" cy="159" r="4.4"/><circle class="k4" cx="1097.1" cy="166.1" r="4.4"/><circle class="k4" cx="1075.3" cy="167.4" r="4.4"/><circle class="k3" cx="1090.7" cy="169.9" r="4.4"/><circle class="k4" cx="1084.3" cy="173.8" r="4.4"/><circle class="k2" cx="1058.6" cy="173.8" r="4.4"/><circle class="k4" cx="1075.3" cy="177.7" r="4.4"/><circle class="k1" cx="1092" cy="177.7" r="4.4"/><circle class="k3" cx="1058.6" cy="180.2" r="4.4"/><circle class="k5" cx="1079.1" cy="180.2" r="4.4"/><circle class="k7" cx="1090.7" cy="186.7" r="4.4"/><circle class="k1" cx="1098.4" cy="189.2" r="4.4"/><circle class="k3" cx="1066.3" cy="188.6" r="4.4"/><circle class="k3" cx="1111.2" cy="190.5" r="4.4"/><circle class="k4" cx="1043.1" cy="191.2" r="4.4"/><circle class="k1" cx="1054.7" cy="192.4" r="4.4"/><circle class="k2" cx="1050.8" cy="199.5" r="4.4"/><circle class="k4" cx="1075.3" cy="195.6" r="4.4"/><circle class="k4" cx="1085.5" cy="196.9" r="4.4"/><circle class="k4" cx="1095.8" cy="200.8" r="4.4"/><circle class="k6" cx="1104.8" cy="205.9" r="4.4"/><circle class="k2" cx="1055.3" cy="209.5" r="4.4"/><circle class="k5" cx="1043.8" cy="213.4" r="4.4"/><circle class="k3" cx="1038.6" cy="224.3" r="4.4"/><circle class="k10" cx="1050.2" cy="231.3" r="4.4"/><circle class="k4" cx="1059.8" cy="229.4" r="4.4"/><circle class="k2" cx="1070.1" cy="208.9" r="4.4"/><circle class="k4" cx="1076.5" cy="229.4" r="4.4"/><circle class="k4" cx="1074" cy="232.6" r="4.4"/><circle class="k1" cx="1053.4" cy="251.9" r="4.4"/><circle class="k4" cx="1061.1" cy="259.6" r="4.4"/><circle class="k4" cx="1075.3" cy="258.3" r="4.4"/><circle class="k4" cx="1085.5" cy="268.6" r="4.4"/><circle class="k6" cx="1094.5" cy="261.5" r="4.4"/><circle class="k3" cx="1105.5" cy="255.8" r="4.4"/><circle class="k6" cx="1101.6" cy="252.6" r="4.4"/><circle class="k2" cx="1122.8" cy="257.7" r="4.4"/><circle class="k7" cx="1075.3" cy="217.2" r="4.4"/><circle class="k6" cx="1086.8" cy="211.4" r="4.4"/><circle class="k5" cx="1094.5" cy="214.6" r="4.4"/><circle class="k5" cx="1089.4" cy="221.7" r="4.4"/><circle class="k5" cx="1080.4" cy="225.6" r="4.4"/><circle class="k5" cx="1103.5" cy="225.6" r="4.4"/><circle class="k6" cx="1104.8" cy="228.8" r="4.4"/><circle class="k6" cx="1091.3" cy="230.1" r="4.4"/><circle class="k5" cx="1111.2" cy="232.6" r="4.4"/><circle class="k4" cx="1092.6" cy="237.8" r="4.4"/><circle class="k6" cx="1096.5" cy="243.6" r="4.4"/><circle class="k6" cx="1111.2" cy="239.7" r="4.4"/><circle class="k4" cx="1110.6" cy="246.8" r="4.4"/><circle class="k6" cx="1089.4" cy="245.5" r="4.4"/><circle class="k6" cx="1081" cy="250" r="4.4"/><circle class="k8" cx="1125.4" cy="241.6" r="4.4"/><circle class="k6" cx="1119.6" cy="220.4" r="4.4"/><circle class="k4" cx="1129.2" cy="230.1" r="4.4"/><circle class="k4" cx="1130.5" cy="224.3" r="4.4"/><circle class="k5" cx="1140.8" cy="215.9" r="4.4"/><circle class="k5" cx="1140.8" cy="227.5" r="4.4"/><circle class="k6" cx="1129.2" cy="209.5" r="4.4"/><circle class="k8" cx="1159.4" cy="221.7" r="4.4"/><circle class="k6" cx="1148.5" cy="235.8" r="4.4"/><circle class="k6" cx="1144" cy="243.6" r="4.4"/><circle class="k6" cx="1153.7" cy="239.7" r="4.4"/><circle class="k6" cx="1176.8" cy="224.3" r="4.4"/><circle class="k6" cx="1178.1" cy="239.1" r="4.4"/><circle class="k8" cx="1190.3" cy="242.3" r="4.4"/><circle class="k5" cx="1116.4" cy="264.1" r="4.4"/><circle class="k6" cx="1106.8" cy="268.6" r="4.4"/><circle class="k5" cx="1115.7" cy="270.5" r="4.4"/><circle class="k5" cx="1104.8" cy="273.8" r="4.4"/><circle class="k6" cx="1106.8" cy="281.5" r="4.4"/><circle class="k6" cx="1101" cy="285.3" r="4.4"/><circle class="k8" cx="1119" cy="285.3" r="4.4"/><circle class="k6" cx="1115.7" cy="289.8" r="4.4"/><circle class="k6" cx="1120.2" cy="295.6" r="4.4"/><circle class="k6" cx="1126.7" cy="297.5" r="4.4"/><circle class="k6" cx="1109.3" cy="307.2" r="4.4"/><circle class="k5" cx="1120.9" cy="307.2" r="4.4"/><circle class="k2" cx="1117.7" cy="310.4" r="4.4"/><circle class="k10" cx="1124.1" cy="318.7" r="4.4"/><circle class="k6" cx="1113.2" cy="328.4" r="4.4"/><circle class="k7" cx="1115.1" cy="332.2" r="4.4"/><circle class="k6" cx="1133.1" cy="253.2" r="4.4"/><circle class="k8" cx="1135.7" cy="262.8" r="4.4"/><circle class="k6" cx="1161.4" cy="257.7" r="4.4"/><circle class="k5" cx="1145.3" cy="264.1" r="4.4"/><circle class="k6" cx="1153.7" cy="259" r="4.4"/><circle class="k5" cx="1137" cy="277" r="4.4"/><circle class="k6" cx="1147.2" cy="273.1" r="4.4"/><circle class="k7" cx="1161.4" cy="278.3" r="4.4"/><circle class="k8" cx="1154.9" cy="280.8" r="4.4"/><circle class="k4" cx="1149.2" cy="289.2" r="4.4"/><circle class="k6" cx="1153.7" cy="295" r="4.4"/><circle class="k7" cx="1163.9" cy="296.9" r="4.4"/><circle class="k6" cx="1149.2" cy="300.7" r="4.4"/><circle class="k7" cx="1163.3" cy="302.7" r="4.4"/><circle class="k6" cx="1145.3" cy="310.4" r="4.4"/><circle class="k6" cx="1163.3" cy="309.7" r="4.4"/><circle class="k7" cx="1152.4" cy="320" r="4.4"/><circle class="k6" cx="1160.1" cy="321.3" r="4.4"/><circle class="k7" cx="1165.2" cy="319.4" r="4.4"/><circle class="k6" cx="1172.3" cy="326.5" r="4.4"/><circle class="k6" cx="1151.1" cy="327.7" r="4.4"/><circle class="k7" cx="1151.1" cy="334.8" r="4.4"/><circle class="k1" cx="1165.2" cy="336.1" r="4.4"/><circle class="k6" cx="1160.1" cy="341.2" r="4.4"/><circle class="k10" cx="1160.1" cy="345.1" r="4.4"/><circle class="k1" cx="1174.9" cy="346.4" r="4.4"/><circle class="k2" cx="1180.6" cy="352.2" r="4.4"/><circle class="k10" cx="1157.5" cy="355.4" r="4.4"/><circle class="k10" cx="1169.7" cy="359.2" r="4.4"/><circle class="k10" cx="1159.4" cy="365" r="4.4"/><circle class="k10" cx="1151.7" cy="373.4" r="4.4"/><circle class="k10" cx="1165.9" cy="377.9" r="4.4"/><circle class="k10" cx="1178.7" cy="377.2" r="4.4"/><circle class="k10" cx="1190.9" cy="383" r="4.4"/><circle class="k10" cx="1167.8" cy="383" r="4.4"/><circle class="k8" cx="1162.7" cy="230.1" r="4.4"/><circle class="k7" cx="1175.5" cy="230.7" r="4.4"/><circle class="k8" cx="1166.5" cy="242.9" r="4.4"/><circle class="k9" cx="1174.2" cy="248.7" r="4.4"/><circle class="k6" cx="1187.1" cy="248.7" r="4.4"/><circle class="k8" cx="1180.6" cy="253.8" r="4.4"/><circle class="k7" cx="1202.5" cy="247.4" r="4.4"/><circle class="k9" cx="1205.1" cy="257.7" r="4.4"/><circle class="k8" cx="1192.2" cy="264.1" r="4.4"/><circle class="k8" cx="1178.1" cy="269.3" r="4.4"/><circle class="k7" cx="1192.2" cy="270.5" r="4.4"/><circle class="k7" cx="1198.6" cy="269.3" r="4.4"/><circle class="k8" cx="1210.2" cy="277.6" r="4.4"/><circle class="k6" cx="1203.1" cy="280.8" r="4.4"/><circle class="k8" cx="1179.4" cy="279.5" r="4.4"/><circle class="k7" cx="1185.8" cy="289.8" r="4.4"/><circle class="k9" cx="1196.1" cy="289.8" r="4.4"/><circle class="k8" cx="1187.1" cy="293.7" r="4.4"/><circle class="k8" cx="1205.1" cy="295" r="4.4"/><circle class="k7" cx="1211.5" cy="300.7" r="4.4"/><circle class="k7" cx="1198" cy="304" r="4.4"/><circle class="k7" cx="1181.3" cy="307.2" r="4.4"/><circle class="k7" cx="1193.5" cy="313.6" r="4.4"/><circle class="k5" cx="1189" cy="320" r="4.4"/><circle class="k8" cx="1198.6" cy="320.7" r="4.4"/><circle class="k9" cx="1206.4" cy="319.4" r="4.4"/><circle class="k8" cx="1190.9" cy="329" r="4.4"/><circle class="k7" cx="1208.3" cy="328.4" r="4.4"/><circle class="k7" cx="1192.2" cy="338.7" r="4.4"/><circle class="k8" cx="1199.9" cy="341.2" r="4.4"/><circle class="k9" cx="1161.4" cy="210.1" r="4.4"/><circle class="k7" cx="1169.1" cy="211.4" r="4.4"/><circle class="k7" cx="1176.8" cy="208.9" r="4.4"/><circle class="k8" cx="1147.2" cy="208.9" r="4.4"/><circle class="k1" cx="1187.8" cy="361.1" r="4.4"/><circle class="k2" cx="1067.1" cy="175.2" r="4.4"/></g>
<g class="st"><path class="s1" d="M1336.7 69.1L1335 72.5M1358.4 188.8L1362.7 191.5M1358.4 188.8L1355.9 181.9M1358.4 188.8L1354.7 189.6M1376.6 149.4L1380 150.4M1384.3 157.1L1387.3 159.8M1408.7 192.4L1404.8 188.8M1365 189.2L1369.8 190.4M1408.7 192.4L1412.2 193.5M1408.7 192.4L1409.2 198.1M1298.2 336.1L1302.6 336.5M1336.7 69.1L1338.7 73.2M1376.6 149.4L1380.4 147.5M1376.6 149.4L1384.3 157.1M1384.3 157.1L1390.7 156.5M1384.3 157.1L1386.2 162.2M1371.4 177.7L1372.1 173.8M1371.4 177.7L1375.3 175.7M1371.4 177.7L1372.1 182.2M1365 189.2L1368.9 187.9M1408.7 192.4L1414.5 191.8M1408.7 192.4L1410.6 196M1410 251.9L1406.1 255.8M1298.2 336.1L1294.6 331.3M1298.2 336.1L1300.7 338.7M1298.2 336.1L1300.7 340.6M1288.5 346.4L1285.6 349.3M1288.5 346.4L1291.1 352.8M1275.6 361.1L1279.2 356.6"/><path class="s2" d="M1307.4 86.4L1309.7 79.3M1307.4 86.4L1304.7 91.6M1307.4 86.4L1311.2 89M1325.5 110L1325.2 117.3M1325.5 110L1329.2 111.7M1326.4 139.1L1327.4 143M1407 111.5L1409.5 107.6M1411.3 116L1411.6 109.8M1407 111.5L1405.9 106.7M1407 111.5L1404.7 108.3M1407 111.5L1404.7 115.7M1372.7 126.2L1368.9 121.9M1375 131.2L1371.3 133.2M1375 131.2L1377.9 137.8M1372.9 136.1L1372.7 126.2M1372.9 136.1L1369.6 138.9M1383.4 151.4L1380 150.4M1383.4 151.4L1387 153.6M1393.2 171.2L1391.7 166.8M1409.7 203.8L1412.7 199.2M1409.7 203.8L1409.2 198.1M1333.6 261.1L1335.1 257.8M1345.7 310.4L1344.3 306.1M1342.5 314.5L1345.8 310.5M1342.5 314.5L1342.5 310.8M1342.5 314.5L1346.3 321.4M1333.6 261.1L1340.6 257.7M1333.6 261.1L1332 257.1M1282.8 352.2L1287.1 352.3M1393.2 171.2L1404.8 173.8M1393.2 171.2L1390.7 174.4M1309.7 79.3L1305.9 77.1M1309.7 79.3L1314.2 80.6M1345.7 96.7L1348.9 94.1M1345.7 96.7L1343.8 99.9M1345.7 96.7L1350.2 100.2M1325.2 117.3L1324.5 111.1M1325.2 117.3L1329 115.3M1325.2 117.3L1328.4 121.8M1326.4 139.1L1323.2 134.6M1326.4 139.1L1330.3 142.3M1326.4 139.1L1324.5 143M1411.3 116L1406.8 117.9M1372.7 126.2L1372.1 121.8M1372.7 126.2L1370.1 130.7M1377.9 137.8L1381.7 134.6M1377.9 137.8L1372.1 139.7M1377.9 137.8L1384.3 145.5M1384.3 145.5L1380.4 147.5M1404.8 173.8L1396.3 175.2M1396.3 175.2L1392.2 176.4M1396.3 175.2L1400.6 177.7M1412.6 199.5L1416.4 195.3M1412.6 199.5L1410.6 196M1412.6 199.5L1408.1 209.5M1393.3 208.9L1390.7 202.3M1408.1 209.5L1413.8 211.4M1393.3 208.9L1390.7 213M1340.6 257.7L1343.8 260.9M1345.7 310.4L1349.9 308.8M1345.7 310.4L1342.5 314.6M1282.8 352.2L1285.6 349.3M1282.8 352.2L1279.2 356.6"/><path class="s3" d="M1318.7 72.3L1316.3 67.3M1333.2 75.8L1328.2 76.5M1333.2 75.8L1332.5 81.8M1333.2 75.8L1335 72.5M1333.2 75.8L1341.9 71M1333.2 75.8L1336.9 76.6M1331.6 81.3L1327.4 79.2M1341.9 71L1343.8 75.6M1359.9 122.4L1362.4 119.9M1401 185.2L1396.8 184.3M1392 192.1L1392.4 187.8M1401 185.2L1404.8 188.8M1392 192.1L1391.1 197.5M1352.2 190.5L1352.4 197M1421.2 218.5L1419.1 227.4M1421.2 218.5L1417.2 224.9M1419.1 227.4L1416.2 229.4M1318.7 72.3L1318.7 65.2M1318.7 72.3L1318.7 66.2M1318.7 72.3L1314.2 69.4M1318.7 72.3L1323.2 72.9M1331.6 81.3L1329.7 77.4M1318.7 72.3L1318.7 77.1M1331.6 81.3L1334.8 83.2M1331.6 81.3L1330.9 87.1M1352.2 190.5L1347 190.5M1352.2 190.5L1350.2 195M1400.3 67.1L1398.1 63.3M1400.3 67.1L1401.3 71.6M1359.9 122.4L1365.6 119.8M1372.7 169.9L1370.8 164.5M1372.7 169.9L1369.5 168M1372.7 169.9L1375.9 171.9M1372.7 169.9L1372.1 173.8M1404.8 180.2L1397.1 188.6M1404.8 180.2L1400.6 177.7M1397.1 188.6L1392.6 192.1M1424.8 224.3L1422.2 218.8M1424.8 224.3L1419 227.8M1357.9 255.8L1363.4 258.7M1357.9 255.8L1355.4 251.3"/><path class="s4" d="M1322.6 146.8L1320.5 151.4M1313.9 62.3L1316.3 67.3M1345.7 80.1L1343.8 75.6M1345.7 80.1L1341.9 82.6M1350.9 83.2L1354.1 87.1M1328.4 146.9L1327.4 143M1328.4 146.9L1332.6 150.1M1343.8 155.1L1340.3 154.2M1343.8 155.1L1338 162.2M1347.9 171.8L1338 162.2M1347.9 171.8L1343 177.3M1366.9 194.2L1362.7 191.5M1350.9 190.5L1354.7 189.6M1407.4 52.4L1404.3 54.3M1426 80.6L1420.9 85M1419 103.1L1417.4 96.3M1411.9 103.7L1409.5 107.6M1411.9 103.7L1419 94.8M1411.9 103.7L1419 103.1M1411.9 103.7L1404.8 101.8M1411.9 103.7L1402.3 105M1411.9 103.7L1411.6 109.8M1404.8 101.8L1405.9 106.7M1402.3 105L1404.7 108.3M1402.3 119.8L1404.7 115.7M1371 55.3L1370.6 51.4M1375.3 60.7L1372.7 54.1M1371 55.3L1374 42.7M1399.7 72.3L1393.4 71.2M1381.7 80L1384.4 75.1M1381.7 80L1378.6 83.4M1389.4 111.7L1383.2 113.3M1389.4 111.7L1402.3 105M1385.6 108.3L1381.3 111.6M1384.3 114.7L1380.6 114.8M1367.6 135.2L1371.3 133.2M1366.3 141.7L1369.6 138.9M1394.6 126.2L1392.8 130.2M1379.1 173.8L1375.4 169M1383.3 170.4L1388.1 177.7M1383.3 170.4L1383.8 175.3M1392.7 183.5L1396.8 184.3M1392.7 183.5L1392.4 187.8M1392.7 183.5L1388.1 177.7M1392.7 183.5L1388.5 181.9M1374.7 191.6L1366.9 194.2M1374.7 191.6L1373.1 199.3M1374.7 191.6L1369.8 190.4M1366.9 194.2L1373.1 199.3M1415.7 194.6L1412.7 199.2M1415.7 194.6L1412.2 193.5M1390.1 203L1391.1 197.5M1395.4 230.1L1403.6 229.4M1395.4 230.1L1386.9 229.4M1390.1 203L1388.1 195.6M1386.9 229.4L1387.2 225.9M1389.4 232.6L1388.5 227.5M1395.3 258.9L1402.3 259.6M1395.3 258.9L1388.1 258.3M1388.1 258.3L1381.1 261.3M1367.6 200.8L1365.5 205.6M1386.9 229.4L1381.9 228.1M1332.9 224.3L1334.4 230.1M1334.2 230.1L1336.4 226.4M1332.9 224.3L1327.8 222.8M1388.1 177.7L1390.7 174.4M1309.7 66.5L1305.9 70.7M1322.6 146.8L1318.1 149.4M1309.7 66.5L1314.2 62.3M1309.7 66.5L1314.2 63.3M1309.7 66.5L1314.2 69.4M1327.7 73.6L1323.2 72.9M1327.7 73.6L1329.7 77.4M1350.9 83.2L1352.2 91.5M1352.2 91.5L1348.9 94.1M1352.2 91.5L1357.9 90.9M1341.9 103.1L1343.8 99.9M1341.9 103.1L1340.6 108.3M1366.3 103.1L1360.5 103.4M1359.9 116L1357.3 109.9M1336.7 140.4L1336.1 135.9M1336.7 140.4L1341.2 137.8M1322.6 146.8L1324.5 143M1349.6 155.8L1343.2 154.5M1338 162.2L1337.4 157.7M1349.6 155.8L1338 162.2M1353.4 169.9L1348.3 171.9M1353.4 169.9L1366.3 166.1M1350.9 190.5L1346.4 190.5M1350.9 190.5L1349.6 195M1407.4 52.4L1401.6 55.9M1426 80.6L1425.1 74.8M1402.3 76.1L1401.3 71.6M1399.7 72.3L1394.6 74.2M1402.3 76.1L1407.4 80.6M1402.3 76.1L1395.8 76.1M1419 94.8L1415.8 89.9M1419 94.8L1419 103.1M1402.3 119.8L1406.8 117.9M1394.6 126.2L1396.2 131.7M1394.6 126.2L1393.3 121.8M1394.6 126.2L1390.1 128.8M1374 42.7L1369.8 47.2M1375.3 60.7L1370.5 56.2M1375.3 60.7L1373.4 71M1375.3 60.7L1379.8 63.3M1373.4 71L1371.4 82.6M1381.7 80L1385.6 78.1M1381.7 80L1386.2 83.2M1381.7 80L1371.4 82.6M1371.4 82.6L1367.6 86.4M1366.3 103.1L1365 96.7M1385.6 108.3L1388.8 112.8M1384.3 114.7L1388.1 116M1359.9 116L1365.6 116.6M1367.6 135.2L1370.1 130.7M1366.3 141.7L1372.1 139.7M1366.3 166.1L1365 160.3M1388.1 167.4L1389.4 161.6M1388.1 167.4L1386.2 162.2M1366.3 166.1L1367.6 162.6M1366.3 166.1L1369.5 168M1388.1 167.4L1388.1 177.7M1379.1 173.8L1375.9 171.9M1379.1 173.8L1375.3 175.7M1379.1 173.8L1381.7 177M1388.1 177.7L1392.2 176.4M1388.1 195.6L1392.6 192.1M1420.3 191.2L1414.5 191.8M1420.3 191.2L1416.4 195.3M1388.1 195.6L1377.9 196.9M1388.1 195.6L1390.7 202.3M1377.9 196.9L1367.6 200.8M1367.6 200.8L1363.1 203.4M1403.6 229.4L1408.4 230.4M1389.4 232.6L1386.2 229.1M1402.3 259.6L1406.1 255.8M1388.1 258.3L1377.9 268.6M1388.1 258.3L1385.2 254.2M1377.9 268.6L1373.4 265.1M1352.8 246.8L1355.4 251.3M1370.8 237.8L1371.4 233.9M1370.8 237.8L1372.4 241.6M1352.8 246.8L1352.5 243.2M1334.2 230.1L1336.1 235.8M1334.2 230.1L1339 225.2M1332.9 224.3L1338.3 222.4M1334.2 230.1L1328.4 228.8M1332.9 224.3L1327.7 225.9M1314.2 289.2L1311.3 285M1314.2 289.2L1312 292.1"/><path class="s5" d="M1314.5 130L1323.8 134.5M1314.5 130L1307.2 127.5M1338 182.8L1334.3 182.8M1323.2 77.2L1328.2 76.5M1331.8 87.8L1332.5 81.8M1323.2 77.2L1327.4 79.2M1331.8 87.8L1336.2 82.6M1361.2 102.3L1359.3 96.7M1323.8 134.5L1327.7 130.4M1338 182.8L1343 177.3M1338.7 196.5L1334.2 202.1M1338.7 196.5L1348.3 199.5M1401.3 56.3L1406 56.4M1401.3 56.3L1404.3 54.3M1390.9 62.6L1389 66.4M1390.9 62.6L1387.6 64.2M1425.1 75.3L1420.8 69M1425.1 75.3L1418.8 80.2M1361.2 102.3L1366.3 100.8M1391 134.1L1392.8 130.2M1391 134.1L1394.4 135.6M1397.1 155.8L1393.7 159.1M1363.7 154.5L1367.6 159.4M1384.3 180.2L1383.8 175.3M1384.3 180.2L1388.5 181.9M1363.4 210.4L1358.1 207M1376.4 217.1L1376.9 226.9M1376.4 217.1L1368.9 214.6M1363.4 210.4L1365.5 205.6M1376.9 226.9L1381.9 228.1M1364.9 227.1L1374 221.7M1364.9 227.1L1368.5 228.6M1329.1 229.7L1332.6 232.8M1329.1 229.7L1333.8 226.2M1329.1 229.7L1322.8 221.4M1329.1 229.7L1324.2 231.1M1322.8 221.4L1325.3 217.3M1322.8 221.4L1327.8 222.8M1349.1 306.4L1346 304.2M1349.1 306.4L1345.8 310.5M1342.5 307.2L1342.5 310.8M1321.4 274.1L1324.6 268.5M1321.4 274.1L1318.1 264.1M1274.4 320L1274.9 315.5M1318.7 81.9L1314.2 80.6M1307.2 127.5L1299.5 126.2M1307.2 127.5L1302.7 127.5M1316.2 186.7L1320.7 185.4M1338 182.8L1331.6 183.4M1316.2 186.7L1311.7 187.9M1318.7 58.1L1314.2 62.3M1318.7 58.1L1318.7 65.2M1318.7 81.9L1318.7 77.1M1330.3 92.8L1330.9 87.1M1330.3 92.8L1334.2 89M1354.7 103.8L1350.2 100.2M1339.3 113.4L1340.6 108.3M1354.7 103.8L1360.5 103.4M1354.7 103.8L1357.3 109.9M1339.3 113.4L1339.3 117.3M1320 130.1L1325.8 128.2M1320 130.1L1323.2 134.6M1335.4 131.4L1340.6 133.3M1335.4 131.4L1336.1 135.9M1338 182.8L1340.6 178.3M1338 182.8L1339.9 186.7M1348.3 199.5L1349.6 195M1334.2 202.1L1334.2 205.8M1348.3 199.5L1350.2 195M1348.3 199.5L1353.4 202.7M1395.8 59.4L1401.6 55.9M1395.8 59.4L1398.1 63.3M1395.8 59.4L1390.1 62.6M1424.1 69.1L1420.3 65.8M1424.1 69.1L1425.1 74.8M1385.6 131.4L1390.1 128.8M1385.6 131.4L1381.7 134.6M1363.7 154.5L1365 160.3M1397.1 155.8L1390.7 156.5M1384.3 180.2L1381.7 177M1419.6 213.4L1413.8 211.4M1419.6 213.4L1422.2 218.8M1383 225.6L1386.2 229.1M1347 264.1L1343.8 260.9M1383 225.6L1385.6 221.4M1368.9 214.6L1372.7 213M1374 221.7L1375.3 216.6M1368.9 214.6L1374 221.7M1374 221.7L1383 225.6M1374 221.7L1373 225.9M1359.9 225.6L1366 227.8M1359.9 225.6L1352.2 232.6M1352.2 232.6L1355.4 230.7M1352.2 232.6L1352.2 236.2M1322.6 227.5L1328.4 228.8M1322.6 227.5L1327.7 225.9M1322.6 215.9L1322.6 227.5M1322.6 215.9L1319.4 212.4M1322.6 227.5L1318.7 231.7M1347 264.1L1351.8 266.4M1347.7 270.5L1352.2 269.6M1347.7 270.5L1358.6 273.8M1358.6 273.8L1357.6 277.6M1358.6 273.8L1360.5 279.5M1342.5 307.2L1339.6 302.4M1342.5 307.2L1348.3 307.2M1342.5 307.2L1340.9 313M1318.1 264.1L1322.9 263.5M1326.4 277L1327.1 269.9M1318.1 264.1L1313.9 261.5M1318.1 264.1L1317.1 268.6M1326.4 277L1321.3 275M1274.4 320L1272.1 316.8M1274.4 320L1273.4 324.5"/><path class="s6" d="M1286.6 224.3L1290.2 226.8M1292 241L1290.3 237.7M1292 241L1290.6 244.8M1258.9 73.2L1264.8 69.1M1258.9 73.2L1256.1 75.3M1258.9 73.2L1254.8 77.6M1271.2 164.8L1274.5 159.2M1294.4 176.1L1300.3 170.3M1294.4 176.1L1290.5 175M1314.9 91.5L1311.2 89M1299.6 102.7L1295.7 97.7M1299.6 102.7L1305.9 92.8M1299.6 102.7L1291.7 109.5M1299.6 102.7L1302.7 107.4M1301.2 159.1L1300.3 170.3M1301.2 159.1L1307.2 164.8M1325.2 160.3L1321.8 158.1M1300.3 170.3L1307.2 164.8M1300.3 170.3L1305.7 170.8M1319.6 162.7L1323.6 165.1M1319.6 162.7L1315.3 167M1306.2 173.4L1300.7 164.8M1306.2 173.4L1307.2 164.8M1306.2 173.4L1310.5 170.4M1306.2 173.4L1311 182.8M1330.7 182.8L1334.3 182.8M1330.7 182.8L1336.3 186.6M1340.6 77.4L1336.9 76.6M1340.6 77.4L1336.2 82.6M1338 85.1L1341.9 82.6M1357.3 91.1L1359.3 96.7M1357.3 91.1L1354.1 87.1M1332.9 113.4L1329.2 111.7M1338.5 126.3L1339.5 134.3M1338.5 126.3L1345.7 135.2M1331.6 126.2L1327.7 130.4M1339.5 134.3L1331.6 126.2M1336.7 153.2L1332.6 150.1M1336.7 153.2L1340.3 154.2M1353.4 175.1L1355.9 181.9M1370.2 47.5L1370.6 51.4M1370.2 47.5L1372.7 54.1M1375.6 86.8L1378.6 83.4M1375.6 86.8L1379.1 92.8M1371.4 99.3L1366.3 100.8M1377 115L1383.2 113.3M1377 115L1381.3 111.6M1377 115L1380.6 114.8M1365 117.5L1362.4 119.9M1365 117.5L1368.9 121.9M1397.8 137.2L1394.4 135.6M1390.7 155.8L1387 153.6M1390.3 162.5L1391.7 166.8M1390.3 162.5L1393.7 159.1M1390.3 162.5L1387.3 159.8M1371.6 164.3L1367.6 159.4M1371.6 164.3L1375.4 169M1352.7 203.6L1358.1 207M1352.7 203.6L1352.4 197M1374 264.2L1362.9 259.5M1374 264.2L1381.1 261.3M1362.9 259.5L1361.8 252.6M1362.9 259.5L1356.6 268.6M1336.6 254.5L1335.1 257.8M1336.6 254.5L1337.3 248.1M1336.6 254.5L1332.2 258.7M1372.1 230.1L1368.5 228.6M1338.5 222.7L1333.8 226.2M1338.5 222.7L1336.4 226.4M1319.2 232.5L1324.2 231.1M1327.9 213.2L1325.3 217.3M1327.9 213.2L1334.2 209.5M1319.2 232.5L1319.4 243.6M1314.9 235.8L1310.2 234.9M1309.7 239.7L1307.6 236.8M1280.2 241L1283.6 248.1M1280.2 241L1276.6 241.6M1351.9 286.7L1361.6 279.8M1351.9 286.7L1356.6 281.5M1351.9 286.7L1362.4 285.3M1351.9 286.7L1348.2 286M1361.6 279.8L1356.6 268.6M1343 301.9L1346 304.2M1343 301.9L1336.7 297.5M1343 301.9L1344.3 306.1M1350.2 328.4L1346.3 321.4M1330.3 253.2L1332 257.1M1314.2 300.7L1309.3 299.6M1300.1 309.7L1302.2 304.1M1315.5 315.7L1307.2 324.5M1315.5 315.7L1312.3 327.7M1301.6 315.4L1307.2 324.5M1301.6 315.4L1306.3 317.7M1307.2 324.5L1302.7 321.9M1294.9 331L1303.3 321.3M1294.9 331L1296.5 325.2M1283.6 248.1L1285.3 239.1M1283.6 248.1L1276.3 248.7M1320 196.9L1316.8 200.6M1303.3 200.8L1308.4 202.5M1287 229.7L1289.7 225.8M1287 229.7L1285.3 239.1M1286.6 224.3L1287.6 229.4M1285.3 239.1L1291 241.5M1302 257.7L1299.3 250.8M1308.5 240L1314.9 235.8M1308.5 240L1319.4 243.6M1264.8 69.1L1259 73.2M1272.5 109.5L1268 108.3M1272.5 109.5L1268.9 113.1M1282.8 152L1287.9 146.8M1282.8 152L1289.8 153.9M1271.2 164.8L1275.7 161.6M1269.9 168.7L1275 163.5M1271.2 164.8L1274.4 167.4M1269.9 168.7L1273.8 169.3M1277.6 191.8L1275 189.2M1277.6 191.8L1282.1 192.4M1277.6 191.8L1277 196.9M1302 74.8L1305.9 77.1M1302 74.8L1291.7 86.4M1302 74.8L1305.9 70.7M1291.7 86.4L1296.9 91.5M1305.9 92.8L1314.9 91.5M1299.5 109.5L1300.7 103.1M1291.7 109.5L1299.5 109.5M1291.7 109.5L1298.8 110.8M1291.7 109.5L1290.5 114.7M1291.7 109.5L1291.7 117.3M1307.2 145.5L1302 150.7M1307.2 145.5L1310.4 148.7M1300.7 164.8L1298.8 160.3M1307.2 164.8L1302 160.3M1300.7 164.8L1300.7 176.4M1307.2 164.8L1311 166.1M1307.2 164.8L1309.1 168M1325.2 160.3L1326.4 163.8M1300.7 176.4L1305.9 173.8M1311 182.8L1309.1 186M1325.2 184.1L1320.7 185.4M1325.2 184.1L1331.6 183.4M1303.3 200.8L1303.3 196.3M1320 196.9L1314.9 198.2M1303.3 200.8L1302.7 205.5M1318.7 60.1L1314.2 63.3M1318.7 60.1L1318.7 66.2M1340.6 77.4L1338.7 73.2M1338 85.1L1334.8 83.2M1340.6 77.4L1338 85.1M1338 85.1L1334.2 89M1363.7 90.3L1357.9 90.9M1323.9 105L1324.5 111.1M1323.9 105L1332.9 113.4M1332.9 113.4L1329 115.3M1331.6 126.2L1328.4 121.8M1339.3 121.1L1339.3 117.3M1339.3 121.1L1331.6 126.2M1331.6 126.2L1325.8 128.2M1345.7 135.2L1340.6 133.3M1345.7 135.2L1341.2 137.8M1334.2 145.5L1330.3 142.3M1334.2 145.5L1336.7 153.2M1336.7 153.2L1343.2 154.5M1336.7 153.2L1337.4 157.7M1353.4 175.1L1348.3 174.4M1334.2 209.5L1334.2 205.8M1358.6 205.9L1353.4 202.7M1397.8 137.2L1396.2 131.7M1365.6 51.7L1369.8 47.2M1365.6 51.7L1370.5 56.2M1390.7 86.4L1390.1 81.3M1390.7 86.4L1386.2 83.2M1379.1 92.8L1371.4 99.3M1363.7 90.3L1367.6 86.4M1363.7 90.3L1365 96.7M1371.4 117.3L1365.6 116.6M1371.4 117.3L1365.6 119.8M1371.4 117.3L1372.1 121.8M1390.7 155.8L1389.4 161.6M1368.9 159L1367.6 162.6M1368.9 159L1370.8 164.5M1358.6 205.9L1363.1 203.4M1382.4 250L1385.2 254.2M1368.9 261.5L1373.4 265.1M1368.9 261.5L1363.4 258.7M1368.9 261.5L1361.8 252.6M1361.8 252.6L1366.9 243.6M1376.6 211.4L1372.7 213M1376.6 211.4L1375.3 216.6M1372.1 230.1L1373 225.9M1372.1 230.1L1366 227.8M1358.6 228.8L1355.4 230.7M1358.6 228.8L1352.2 239.7M1372.1 230.1L1371.4 233.9M1352.2 239.7L1352.2 236.2M1374 245.5L1372.4 241.6M1366.9 243.6L1374 245.5M1352.2 239.7L1352.5 243.2M1374 245.5L1382.4 250M1343.8 220.4L1339 225.2M1343.8 220.4L1338.3 222.4M1314.9 235.8L1318.7 231.7M1314.9 235.8L1319.4 243.6M1319.4 243.6L1309.7 239.7M1285.3 239.1L1286.6 234.9M1276.3 248.7L1274.7 245.5M1356.6 268.6L1351.8 266.4M1356.6 268.6L1352.2 269.6M1356.6 281.5L1357.6 277.6M1362.4 285.3L1360.5 279.5M1356.6 281.5L1347.7 289.8M1343.2 295.6L1343.8 290.5M1347.7 289.8L1343.2 295.6M1336.7 297.5L1339.6 302.4M1354.1 307.2L1348.3 307.2M1354.1 307.2L1349.9 308.8M1350.2 328.4L1344.8 323.6M1330.3 253.2L1329 258M1302 257.7L1309.7 259M1309.7 259L1313.9 261.5M1316.2 273.1L1317.1 268.6M1316.2 273.1L1321.3 275M1316.2 273.1L1309.1 275.7M1316.2 273.1L1312.3 277M1309.7 295L1312 292.1M1309.7 295L1304.6 295.9M1309.7 295L1314.2 300.7M1309.7 295L1304.9 298.8M1300.1 309.7L1299.8 303.3M1314.2 300.7L1318.1 310.4M1300.1 309.7L1300.1 306.2M1318.1 310.4L1314.6 315.2M1300.1 309.7L1299.1 314.6M1303.3 321.3L1307.2 320.7M1312.3 327.7L1311.7 323.9M1303.3 321.3L1312.3 327.7M1291.1 326.5L1294.6 322.9M1291.1 326.5L1294.6 331.3M1312.3 327.7L1312.3 331.3M1303.3 341.2L1307.8 338M1303.3 341.2L1300.7 338.7M1276.3 248.7L1279.5 251.3M1260.3 280.8L1256.7 279.2M1260.3 280.8L1263.8 285.3"/><path class="s7" d="M1300.1 217.8L1301 214M1300.1 217.8L1294.3 211.4M1281.4 203L1285.3 203.7M1301.3 229.7L1297.6 229.5M1288.6 234.5L1291.2 231.9M1292.4 222L1293.1 225.7M1288.6 234.5L1290.3 237.7M1253.2 77.4L1256.1 75.3M1266.7 87.1L1263.3 92.6M1268.6 141.7L1271.1 139M1277.9 153.5L1272.6 150.2M1277.9 153.5L1274.5 159.2M1302 96.7L1304.7 91.6M1291.7 92.8L1295.7 97.7M1305.9 112.1L1302.7 107.4M1318.5 156L1321.8 158.1M1318.5 156L1320.5 151.4M1327.7 167.4L1323.6 165.1M1410.8 56.5L1406 56.4M1384.3 65.8L1387.6 64.2M1410.8 56.5L1416.4 62.6M1416.4 62.6L1420.8 69M1412.6 85.1L1418.8 80.2M1415.8 89.4L1420.9 85M1415.8 89.4L1417.4 96.3M1387.5 222.3L1387.2 225.9M1387.5 222.3L1388.5 227.5M1305.5 234L1310.2 234.9M1305.5 234L1307.6 236.8M1304.3 298.5L1309.3 299.6M1304.3 298.5L1302.2 304.1M1311 320L1306.3 317.7M1298.2 319.4L1302.7 321.9M1298.2 319.4L1296.5 325.2M1307.1 337L1302.6 336.5M1307.1 337L1305.2 341M1264.8 269.3L1264.6 265.1M1279.1 269.7L1281.5 284.5M1279.1 269.7L1275.1 266.9M1279.1 269.7L1271.2 270.5M1279.1 269.7L1281.6 274.6M1262.6 275.1L1271.2 270.5M1262.6 275.1L1257.9 276.4M1281.5 284.5L1278.9 289.1M1259.5 302.3L1258.9 298.6M1259.5 302.3L1251.9 300.7M1275.3 311L1282.1 307.2M1275.3 311L1274.9 315.5M1260.1 323.8L1264.6 324M1269.9 313.6L1269.5 319M1260.1 323.8L1266.3 326.4M1313.6 204.2L1316.8 200.6M1313.6 204.2L1308.4 202.5M1294.2 214.6L1291 212.2M1294.2 214.6L1292.4 222M1281.4 203L1284.6 206.4M1292.4 222L1289.7 225.8M1301.3 229.7L1302.6 225.7M1288.6 234.5L1287.6 229.4M1288.6 234.5L1292.7 238.7M1292.4 222L1296.6 226M1292.4 222L1287.9 230.7M1281.4 203L1285.9 200.6M1281.4 203L1286.6 208.9M1275.4 197L1271.2 190.5M1275.4 197L1279.1 198.9M1253.2 77.4L1259 73.2M1266.7 87.1L1265.4 90.6M1254.5 100.5L1259.3 97.3M1254.5 100.5L1259 103.8M1268.6 141.7L1273.1 137.2M1268.6 141.7L1277.6 148.1M1277.6 148.1L1272.5 147.5M1277.6 148.1L1278.9 153.2M1293 141.7L1287.9 146.8M1296.9 155.8L1289.8 153.9M1277.6 169.9L1274.4 167.4M1277.6 169.9L1273.8 169.3M1280.2 180.2L1283.4 177M1280.2 180.2L1276.3 183.4M1271.2 190.5L1276.3 202.1M1276.3 202.1L1277 196.9M1276.3 202.1L1286.6 208.9M1302 96.7L1296.9 91.5M1291.7 92.8L1302 96.7M1302 96.7L1300.7 103.1M1305.9 112.1L1298.8 110.8M1291.7 125L1291.7 117.3M1298.2 127.5L1293.7 123.7M1291.7 125L1299.5 126.2M1298.2 127.5L1302.7 127.5M1293 141.7L1296.9 155.8M1296.9 155.8L1302 150.7M1313.6 152L1310.4 148.7M1296.9 155.8L1298.8 160.3M1296.9 155.8L1302 160.3M1313.6 152L1318.1 149.4M1327.7 167.4L1326.4 163.8M1307.2 189.2L1309.1 186M1307.2 189.2L1311.7 187.9M1309.7 199.5L1306.5 195.6M1309.7 199.5L1314.9 198.2M1309.7 199.5L1313 204.2M1384.3 65.8L1390.1 62.6M1416.4 62.6L1420.3 65.8M1412.6 85.1L1407.4 80.6M1412.6 85.1L1415.8 89.9M1384.3 65.8L1379.8 63.3M1372.7 186.7L1372.1 182.2M1372.7 186.7L1368.9 187.9M1388.1 217.2L1390.7 213M1388.1 217.2L1385.6 221.4M1287.9 230.7L1286.6 234.9M1260.9 247.4L1267 244.8M1302 278.3L1309.1 275.7M1299.5 296.9L1304.6 295.9M1300.1 302.7L1304.9 298.8M1299.5 296.9L1299.8 303.3M1300.1 302.7L1300.1 306.2M1311 320L1314.6 315.2M1298.2 319.4L1299.1 314.6M1311 320L1307.2 320.7M1311 320L1311.7 323.9M1298.2 319.4L1294.6 322.9M1312.3 334.8L1312.3 331.3M1312.3 334.8L1307.8 338M1260.9 247.4L1259.6 252.6M1264.8 269.3L1261.5 263.5M1264.8 269.3L1268 266.7M1271.2 270.5L1278.3 269.9M1277.6 289.8L1280.8 284.7M1277.6 289.8L1272.5 289.8M1251.9 300.7L1255.1 297.9M1265.4 304L1261.9 299.5M1265.4 304L1269.9 313.6M1282.1 307.2L1269.9 313.6M1269.9 313.6L1272.1 316.8M1269.9 313.6L1267.3 317.1M1255.1 328.4L1259.9 324.5M1255.1 328.4L1256.1 323.9M1271.2 338.7L1271.8 333.8M1271.2 338.7L1267.3 339.9M1294.3 211.4L1298.2 210.8M1294.3 211.4L1286.6 208.9"/><path class="s8" d="M1293.8 229.4L1297.6 229.5M1293.8 229.4L1291.2 231.9M1293.8 229.4L1293.1 225.7M1293.8 229.4L1290.2 226.8M1250.6 81.9L1254.8 77.6M1259.8 98.1L1263.3 92.6M1259.8 98.1L1253.8 105M1259.8 98.1L1261.7 102.5M1270.2 121.7L1258.3 123.7M1270.2 121.7L1265.5 124.6M1273.8 126.2L1273.7 131.3M1387.1 70.2L1389 66.4M1387.1 70.2L1393.4 71.2M1387.1 70.2L1384.4 75.1M1338 241.6L1337.3 248.1M1327.7 262.8L1332.2 258.7M1336 236L1332.6 232.8M1336 236L1334.4 230.1M1273.1 242.3L1276.6 241.6M1344.4 285.3L1348.2 286M1327.7 262.8L1324.6 268.5M1264.5 260.9L1271.2 264.1M1264.5 260.9L1264.6 265.1M1271.2 264.1L1275.1 266.9M1284 279.5L1281.6 274.6M1253.2 277.6L1257.9 276.4M1276.3 293.7L1278.9 289.1M1258.3 295L1258.9 298.6M1269.1 324.3L1264.6 324M1269.1 324.3L1269.5 319M1272.5 329L1266.3 326.4M1304 221.7L1302.6 225.7M1296.9 242.9L1292.7 238.7M1296.6 244L1291 241.5M1296.6 244L1299.3 250.8M1296.6 244L1292.9 246.3M1300.7 230.1L1296.6 226M1264.1 94.1L1265.4 90.6M1264.1 94.1L1259.3 97.3M1253.8 105L1258.7 106M1265.4 116.6L1264.4 111.8M1265.4 116.6L1268.9 113.1M1265.4 116.6L1258.3 123.7M1265.4 116.6L1263.2 122.1M1273.8 126.2L1275.7 129.5M1280.2 158.4L1278.9 153.2M1280.2 158.4L1275.7 161.6M1280.2 158.4L1275 163.5M1272.5 186.7L1276.3 183.4M1272.5 186.7L1275 189.2M1286.6 193.1L1282.1 192.4M1286.6 193.1L1284.7 196.9M1289.2 119.8L1290.5 114.7M1289.2 119.8L1293.7 123.7M1316.2 208.9L1313 204.2M1389.4 76.1L1394.6 74.2M1389.4 76.1L1395.8 76.1M1392 117.3L1393.3 121.8M1389.4 76.1L1385.6 78.1M1389.4 76.1L1390.1 81.3M1392 117.3L1388.8 112.8M1392 117.3L1388.1 116M1338 241.6L1336.1 235.8M1316.2 208.9L1319.4 212.4M1304 221.7L1300.7 230.1M1273.1 242.3L1274.7 245.5M1273.1 242.3L1267 244.8M1344.4 285.3L1343.8 290.5M1327.7 262.8L1329 258M1327.7 262.8L1322.9 263.5M1327.7 262.8L1327.1 269.9M1308.5 280.8L1312.3 277M1308.5 280.8L1311.3 285M1296.9 242.9L1293 245.8M1282.8 253.8L1286 251.3M1282.8 253.8L1279.5 251.3M1271.2 264.1L1268 266.7M1285.3 269.3L1278.3 269.9M1285.3 269.3L1284 279.5M1253.2 277.6L1256.7 279.2M1284 279.5L1280.8 284.7M1276.3 293.7L1271.8 291.8M1258.3 295L1255.1 297.9M1258.3 295L1261.9 299.5M1264.8 320.7L1267.3 317.1M1272.5 329L1273.4 324.5M1264.8 320.7L1260.9 320M1264.8 320.7L1259.9 324.5M1272.5 329L1271.8 333.8M1263.5 341.2L1267.3 339.9"/><path class="s9" d="M1302 210.1L1301 214M1289.2 204.5L1285.3 203.7M1289.2 204.5L1282.8 200.8M1289.2 248.7L1290.6 244.8M1263.5 107L1261.7 102.5M1260.9 127.5L1265.5 124.6M1273.7 136.3L1273.7 131.3M1273.7 136.3L1271.1 139M1273.7 136.3L1267.3 146.8M1267.3 146.8L1272.6 150.2M1286.6 173.8L1290.5 175M1311 171.2L1305.7 170.8M1311 171.2L1315.3 167M1314.9 167.4L1310.5 170.4M1341.9 190.5L1336.3 186.6M1287.8 209.8L1291 212.2M1287.8 209.8L1284.6 206.4M1289.2 248.7L1292.9 246.3M1290.5 198.2L1285.9 200.6M1282.8 200.8L1279.1 198.9M1263.5 107L1259 103.8M1263.5 107L1258.7 106M1263.5 107L1268 108.3M1263.5 107L1264.4 111.8M1260.9 127.5L1263.2 122.1M1277.6 132.7L1275.7 129.5M1277.6 132.7L1273.1 137.2M1267.3 146.8L1272.5 147.5M1286.6 173.8L1283.4 177M1282.8 200.8L1284.7 196.9M1290.5 198.2L1282.8 200.8M1314.9 167.4L1311 166.1M1311 171.2L1309.1 168M1311 171.2L1305.9 173.8M1303.3 191.8L1306.5 195.6M1303.3 191.8L1303.3 196.3M1302 210.1L1302.7 205.5M1343.2 173.8L1348.3 171.9M1343.2 173.8L1348.3 174.4M1343.2 173.8L1340.6 178.3M1341.9 190.5L1339.9 186.7M1341.9 190.5L1346.4 190.5M1341.9 190.5L1347 190.5M1289.2 248.7L1293 245.8M1289.2 248.7L1286 251.3M1258.3 257.7L1259.6 252.6M1258.3 257.7L1261.5 263.5M1267.3 289.8L1263.8 285.3M1267.3 289.8L1272.5 289.8M1267.3 289.8L1271.8 291.8M1257 319.4L1260.9 320M1257 319.4L1256.1 323.9M1302 210.1L1298.2 210.8"/><path class="s10" d="M1413.2 231.3L1417.2 224.9M1413.2 231.3L1416.2 229.4M1303.3 345.1L1305.2 341M1291.4 352.4L1287.1 352.3M1291.4 352.4L1293.7 359.2M1299.3 362.6L1307.1 370.3M1299.3 362.6L1305.9 355.4M1307.1 370.3L1297.5 377.9M1290.6 377.5L1277.9 381.1M1290.6 377.5L1295.6 383M1277.9 381.1L1284.7 377.2M1413.2 231.3L1419 227.8M1413.2 231.3L1408.4 230.4M1339.3 318.7L1340.9 313M1339.3 318.7L1342.5 314.6M1339.3 318.7L1344.8 323.6M1303.3 345.1L1300.7 340.6M1293.7 359.2L1291.1 352.8M1305.9 355.4L1304 365M1293.7 359.2L1304 365M1304 365L1311.7 373.4M1311.7 373.4L1297.5 377.9M1297.5 377.9L1284.7 377.2M1284.7 377.2L1272.5 383M1284.7 377.2L1295.6 383"/><circle class="k7" cx="1300.1" cy="217.8" r="4.4"/><circle class="k9" cx="1289.2" cy="204.5" r="4.4"/><circle class="k8" cx="1293.8" cy="229.4" r="4.4"/><circle class="k6" cx="1292" cy="241" r="4.4"/><circle class="k6" cx="1258.9" cy="73.2" r="4.4"/><circle class="k8" cx="1259.8" cy="98.1" r="4.4"/><circle class="k8" cx="1270.2" cy="121.7" r="4.4"/><circle class="k9" cx="1273.7" cy="136.3" r="4.4"/><circle class="k7" cx="1277.9" cy="153.5" r="4.4"/><circle class="k6" cx="1294.4" cy="176.1" r="4.4"/><circle class="k2" cx="1307.4" cy="86.4" r="4.4"/><circle class="k6" cx="1299.6" cy="102.7" r="4.4"/><circle class="k5" cx="1314.5" cy="130" r="4.4"/><circle class="k6" cx="1301.2" cy="159.1" r="4.4"/><circle class="k7" cx="1318.5" cy="156" r="4.4"/><circle class="k6" cx="1300.3" cy="170.3" r="4.4"/><circle class="k6" cx="1319.6" cy="162.7" r="4.4"/><circle class="k6" cx="1306.2" cy="173.4" r="4.4"/><circle class="k6" cx="1330.7" cy="182.8" r="4.4"/><circle class="k4" cx="1313.9" cy="62.3" r="4.4"/><circle class="k3" cx="1333.2" cy="75.8" r="4.4"/><circle class="k5" cx="1323.2" cy="77.2" r="4.4"/><circle class="k5" cx="1331.8" cy="87.8" r="4.4"/><circle class="k4" cx="1345.7" cy="80.1" r="4.4"/><circle class="k6" cx="1357.3" cy="91.1" r="4.4"/><circle class="k2" cx="1325.5" cy="110" r="4.4"/><circle class="k6" cx="1338.5" cy="126.3" r="4.4"/><circle class="k5" cx="1323.8" cy="134.5" r="4.4"/><circle class="k6" cx="1339.5" cy="134.3" r="4.4"/><circle class="k4" cx="1328.4" cy="146.9" r="4.4"/><circle class="k4" cx="1343.8" cy="155.1" r="4.4"/><circle class="k4" cx="1347.9" cy="171.8" r="4.4"/><circle class="k1" cx="1358.4" cy="188.8" r="4.4"/><circle class="k5" cx="1338.7" cy="196.5" r="4.4"/><circle class="k5" cx="1401.3" cy="56.3" r="4.4"/><circle class="k5" cx="1390.9" cy="62.6" r="4.4"/><circle class="k7" cx="1410.8" cy="56.5" r="4.4"/><circle class="k5" cx="1425.1" cy="75.3" r="4.4"/><circle class="k7" cx="1415.8" cy="89.4" r="4.4"/><circle class="k4" cx="1411.9" cy="103.7" r="4.4"/><circle class="k2" cx="1407" cy="111.5" r="4.4"/><circle class="k6" cx="1370.2" cy="47.5" r="4.4"/><circle class="k4" cx="1371" cy="55.3" r="4.4"/><circle class="k8" cx="1387.1" cy="70.2" r="4.4"/><circle class="k6" cx="1375.6" cy="86.8" r="4.4"/><circle class="k5" cx="1361.2" cy="102.3" r="4.4"/><circle class="k4" cx="1389.4" cy="111.7" r="4.4"/><circle class="k6" cx="1377" cy="115" r="4.4"/><circle class="k6" cx="1365" cy="117.5" r="4.4"/><circle class="k2" cx="1375" cy="131.2" r="4.4"/><circle class="k2" cx="1372.9" cy="136.1" r="4.4"/><circle class="k5" cx="1391" cy="134.1" r="4.4"/><circle class="k2" cx="1383.4" cy="151.4" r="4.4"/><circle class="k6" cx="1390.3" cy="162.5" r="4.4"/><circle class="k6" cx="1371.6" cy="164.3" r="4.4"/><circle class="k4" cx="1383.3" cy="170.4" r="4.4"/><circle class="k4" cx="1392.7" cy="183.5" r="4.4"/><circle class="k3" cx="1401" cy="185.2" r="4.4"/><circle class="k4" cx="1374.7" cy="191.6" r="4.4"/><circle class="k4" cx="1366.9" cy="194.2" r="4.4"/><circle class="k4" cx="1415.7" cy="194.6" r="4.4"/><circle class="k2" cx="1409.7" cy="203.8" r="4.4"/><circle class="k3" cx="1392" cy="192.1" r="4.4"/><circle class="k4" cx="1373.1" cy="199.3" r="4.4"/><circle class="k6" cx="1352.7" cy="203.6" r="4.4"/><circle class="k3" cx="1421.2" cy="218.5" r="4.4"/><circle class="k3" cx="1419.1" cy="227.4" r="4.4"/><circle class="k4" cx="1395.4" cy="230.1" r="4.4"/><circle class="k4" cx="1390.1" cy="203" r="4.4"/><circle class="k7" cx="1387.5" cy="222.3" r="4.4"/><circle class="k4" cx="1395.3" cy="258.9" r="4.4"/><circle class="k6" cx="1374" cy="264.2" r="4.4"/><circle class="k6" cx="1362.9" cy="259.5" r="4.4"/><circle class="k6" cx="1336.6" cy="254.5" r="4.4"/><circle class="k5" cx="1376.4" cy="217.1" r="4.4"/><circle class="k5" cx="1363.4" cy="210.4" r="4.4"/><circle class="k5" cx="1376.9" cy="226.9" r="4.4"/><circle class="k5" cx="1364.9" cy="227.1" r="4.4"/><circle class="k8" cx="1336" cy="236" r="4.4"/><circle class="k6" cx="1338.5" cy="222.7" r="4.4"/><circle class="k5" cx="1329.1" cy="229.7" r="4.4"/><circle class="k5" cx="1322.8" cy="221.4" r="4.4"/><circle class="k6" cx="1327.9" cy="213.2" r="4.4"/><circle class="k6" cx="1319.2" cy="232.5" r="4.4"/><circle class="k7" cx="1305.5" cy="234" r="4.4"/><circle class="k6" cx="1280.2" cy="241" r="4.4"/><circle class="k6" cx="1351.9" cy="286.7" r="4.4"/><circle class="k6" cx="1361.6" cy="279.8" r="4.4"/><circle class="k6" cx="1343" cy="301.9" r="4.4"/><circle class="k5" cx="1349.1" cy="306.4" r="4.4"/><circle class="k2" cx="1342.5" cy="314.5" r="4.4"/><circle class="k2" cx="1333.6" cy="261.1" r="4.4"/><circle class="k5" cx="1321.4" cy="274.1" r="4.4"/><circle class="k7" cx="1304.3" cy="298.5" r="4.4"/><circle class="k6" cx="1315.5" cy="315.7" r="4.4"/><circle class="k6" cx="1301.6" cy="315.4" r="4.4"/><circle class="k6" cx="1307.2" cy="324.5" r="4.4"/><circle class="k6" cx="1294.9" cy="331" r="4.4"/><circle class="k7" cx="1307.1" cy="337" r="4.4"/><circle class="k10" cx="1291.4" cy="352.4" r="4.4"/><circle class="k10" cx="1299.3" cy="362.6" r="4.4"/><circle class="k10" cx="1307.1" cy="370.3" r="4.4"/><circle class="k10" cx="1290.6" cy="377.5" r="4.4"/><circle class="k10" cx="1277.9" cy="381.1" r="4.4"/><circle class="k6" cx="1283.6" cy="248.1" r="4.4"/><circle class="k8" cx="1264.5" cy="260.9" r="4.4"/><circle class="k7" cx="1279.1" cy="269.7" r="4.4"/><circle class="k7" cx="1262.6" cy="275.1" r="4.4"/><circle class="k7" cx="1281.5" cy="284.5" r="4.4"/><circle class="k7" cx="1259.5" cy="302.3" r="4.4"/><circle class="k7" cx="1275.3" cy="311" r="4.4"/><circle class="k8" cx="1269.1" cy="324.3" r="4.4"/><circle class="k7" cx="1260.1" cy="323.8" r="4.4"/><circle class="k7" cx="1313.6" cy="204.2" r="4.4"/><circle class="k2" cx="1393.2" cy="171.2" r="4.4"/><circle class="k7" cx="1294.2" cy="214.6" r="4.4"/><circle class="k9" cx="1287.8" cy="209.8" r="4.4"/><circle class="k6" cx="1287" cy="229.7" r="4.4"/><circle class="k7" cx="1301.3" cy="229.7" r="4.4"/><circle class="k7" cx="1288.6" cy="234.5" r="4.4"/><circle class="k8" cx="1296.6" cy="244" r="4.4"/><circle class="k6" cx="1308.5" cy="240" r="4.4"/><circle class="k7" cx="1292.4" cy="222" r="4.4"/><circle class="k7" cx="1281.4" cy="203" r="4.4"/><circle class="k7" cx="1275.4" cy="197" r="4.4"/><circle class="k6" cx="1264.8" cy="69.1" r="4.4"/><circle class="k7" cx="1253.2" cy="77.4" r="4.4"/><circle class="k8" cx="1250.6" cy="81.9" r="4.4"/><circle class="k7" cx="1266.7" cy="87.1" r="4.4"/><circle class="k8" cx="1264.1" cy="94.1" r="4.4"/><circle class="k7" cx="1254.5" cy="100.5" r="4.4"/><circle class="k8" cx="1253.8" cy="105" r="4.4"/><circle class="k9" cx="1263.5" cy="107" r="4.4"/><circle class="k6" cx="1272.5" cy="109.5" r="4.4"/><circle class="k8" cx="1265.4" cy="116.6" r="4.4"/><circle class="k8" cx="1258.3" cy="123.7" r="4.4"/><circle class="k9" cx="1260.9" cy="127.5" r="4.4"/><circle class="k8" cx="1273.8" cy="126.2" r="4.4"/><circle class="k9" cx="1277.6" cy="132.7" r="4.4"/><circle class="k7" cx="1268.6" cy="141.7" r="4.4"/><circle class="k9" cx="1267.3" cy="146.8" r="4.4"/><circle class="k7" cx="1277.6" cy="148.1" r="4.4"/><circle class="k6" cx="1282.8" cy="152" r="4.4"/><circle class="k8" cx="1280.2" cy="158.4" r="4.4"/><circle class="k6" cx="1271.2" cy="164.8" r="4.4"/><circle class="k6" cx="1269.9" cy="168.7" r="4.4"/><circle class="k7" cx="1277.6" cy="169.9" r="4.4"/><circle class="k9" cx="1286.6" cy="173.8" r="4.4"/><circle class="k7" cx="1280.2" cy="180.2" r="4.4"/><circle class="k8" cx="1272.5" cy="186.7" r="4.4"/><circle class="k7" cx="1271.2" cy="190.5" r="4.4"/><circle class="k6" cx="1277.6" cy="191.8" r="4.4"/><circle class="k8" cx="1286.6" cy="193.1" r="4.4"/><circle class="k9" cx="1290.5" cy="198.2" r="4.4"/><circle class="k9" cx="1282.8" cy="200.8" r="4.4"/><circle class="k7" cx="1276.3" cy="202.1" r="4.4"/><circle class="k6" cx="1302" cy="74.8" r="4.4"/><circle class="k2" cx="1309.7" cy="79.3" r="4.4"/><circle class="k6" cx="1291.7" cy="86.4" r="4.4"/><circle class="k7" cx="1291.7" cy="92.8" r="4.4"/><circle class="k6" cx="1305.9" cy="92.8" r="4.4"/><circle class="k7" cx="1302" cy="96.7" r="4.4"/><circle class="k6" cx="1291.7" cy="109.5" r="4.4"/><circle class="k6" cx="1299.5" cy="109.5" r="4.4"/><circle class="k7" cx="1305.9" cy="112.1" r="4.4"/><circle class="k8" cx="1289.2" cy="119.8" r="4.4"/><circle class="k7" cx="1291.7" cy="125" r="4.4"/><circle class="k7" cx="1298.2" cy="127.5" r="4.4"/><circle class="k5" cx="1307.2" cy="127.5" r="4.4"/><circle class="k7" cx="1293" cy="141.7" r="4.4"/><circle class="k6" cx="1307.2" cy="145.5" r="4.4"/><circle class="k7" cx="1296.9" cy="155.8" r="4.4"/><circle class="k7" cx="1313.6" cy="152" r="4.4"/><circle class="k6" cx="1300.7" cy="164.8" r="4.4"/><circle class="k6" cx="1307.2" cy="164.8" r="4.4"/><circle class="k6" cx="1325.2" cy="160.3" r="4.4"/><circle class="k9" cx="1314.9" cy="167.4" r="4.4"/><circle class="k7" cx="1327.7" cy="167.4" r="4.4"/><circle class="k9" cx="1311" cy="171.2" r="4.4"/><circle class="k6" cx="1300.7" cy="176.4" r="4.4"/><circle class="k6" cx="1311" cy="182.8" r="4.4"/><circle class="k6" cx="1325.2" cy="184.1" r="4.4"/><circle class="k5" cx="1316.2" cy="186.7" r="4.4"/><circle class="k7" cx="1307.2" cy="189.2" r="4.4"/><circle class="k9" cx="1303.3" cy="191.8" r="4.4"/><circle class="k6" cx="1320" cy="196.9" r="4.4"/><circle class="k7" cx="1309.7" cy="199.5" r="4.4"/><circle class="k6" cx="1303.3" cy="200.8" r="4.4"/><circle class="k5" cx="1318.7" cy="58.1" r="4.4"/><circle class="k6" cx="1318.7" cy="60.1" r="4.4"/><circle class="k4" cx="1309.7" cy="66.5" r="4.4"/><circle class="k1" cx="1336.7" cy="69.1" r="4.4"/><circle class="k3" cx="1341.9" cy="71" r="4.4"/><circle class="k4" cx="1327.7" cy="73.6" r="4.4"/><circle class="k3" cx="1318.7" cy="72.3" r="4.4"/><circle class="k3" cx="1331.6" cy="81.3" r="4.4"/><circle class="k6" cx="1340.6" cy="77.4" r="4.4"/><circle class="k6" cx="1338" cy="85.1" r="4.4"/><circle class="k5" cx="1318.7" cy="81.9" r="4.4"/><circle class="k4" cx="1350.9" cy="83.2" r="4.4"/><circle class="k4" cx="1352.2" cy="91.5" r="4.4"/><circle class="k2" cx="1345.7" cy="96.7" r="4.4"/><circle class="k5" cx="1330.3" cy="92.8" r="4.4"/><circle class="k6" cx="1314.9" cy="91.5" r="4.4"/><circle class="k4" cx="1341.9" cy="103.1" r="4.4"/><circle class="k5" cx="1354.7" cy="103.8" r="4.4"/><circle class="k6" cx="1323.9" cy="105" r="4.4"/><circle class="k2" cx="1325.2" cy="117.3" r="4.4"/><circle class="k5" cx="1339.3" cy="113.4" r="4.4"/><circle class="k6" cx="1332.9" cy="113.4" r="4.4"/><circle class="k6" cx="1339.3" cy="121.1" r="4.4"/><circle class="k6" cx="1331.6" cy="126.2" r="4.4"/><circle class="k5" cx="1320" cy="130.1" r="4.4"/><circle class="k5" cx="1335.4" cy="131.4" r="4.4"/><circle class="k6" cx="1345.7" cy="135.2" r="4.4"/><circle class="k4" cx="1336.7" cy="140.4" r="4.4"/><circle class="k2" cx="1326.4" cy="139.1" r="4.4"/><circle class="k6" cx="1334.2" cy="145.5" r="4.4"/><circle class="k4" cx="1322.6" cy="146.8" r="4.4"/><circle class="k6" cx="1336.7" cy="153.2" r="4.4"/><circle class="k4" cx="1349.6" cy="155.8" r="4.4"/><circle class="k4" cx="1338" cy="162.2" r="4.4"/><circle class="k9" cx="1343.2" cy="173.8" r="4.4"/><circle class="k4" cx="1353.4" cy="169.9" r="4.4"/><circle class="k6" cx="1353.4" cy="175.1" r="4.4"/><circle class="k5" cx="1338" cy="182.8" r="4.4"/><circle class="k9" cx="1341.9" cy="190.5" r="4.4"/><circle class="k4" cx="1350.9" cy="190.5" r="4.4"/><circle class="k5" cx="1334.2" cy="202.1" r="4.4"/><circle class="k5" cx="1348.3" cy="199.5" r="4.4"/><circle class="k4" cx="1407.4" cy="52.4" r="4.4"/><circle class="k5" cx="1395.8" cy="59.4" r="4.4"/><circle class="k7" cx="1416.4" cy="62.6" r="4.4"/><circle class="k5" cx="1424.1" cy="69.1" r="4.4"/><circle class="k3" cx="1400.3" cy="67.1" r="4.4"/><circle class="k4" cx="1399.7" cy="72.3" r="4.4"/><circle class="k4" cx="1402.3" cy="76.1" r="4.4"/><circle class="k4" cx="1426" cy="80.6" r="4.4"/><circle class="k7" cx="1412.6" cy="85.1" r="4.4"/><circle class="k4" cx="1419" cy="94.8" r="4.4"/><circle class="k4" cx="1419" cy="103.1" r="4.4"/><circle class="k4" cx="1404.8" cy="101.8" r="4.4"/><circle class="k4" cx="1402.3" cy="105" r="4.4"/><circle class="k2" cx="1411.3" cy="116" r="4.4"/><circle class="k4" cx="1402.3" cy="119.8" r="4.4"/><circle class="k4" cx="1394.6" cy="126.2" r="4.4"/><circle class="k6" cx="1397.8" cy="137.2" r="4.4"/><circle class="k4" cx="1374" cy="42.7" r="4.4"/><circle class="k6" cx="1365.6" cy="51.7" r="4.4"/><circle class="k4" cx="1375.3" cy="60.7" r="4.4"/><circle class="k4" cx="1373.4" cy="71" r="4.4"/><circle class="k7" cx="1384.3" cy="65.8" r="4.4"/><circle class="k8" cx="1389.4" cy="76.1" r="4.4"/><circle class="k4" cx="1381.7" cy="80" r="4.4"/><circle class="k6" cx="1390.7" cy="86.4" r="4.4"/><circle class="k6" cx="1379.1" cy="92.8" r="4.4"/><circle class="k4" cx="1371.4" cy="82.6" r="4.4"/><circle class="k6" cx="1363.7" cy="90.3" r="4.4"/><circle class="k6" cx="1371.4" cy="99.3" r="4.4"/><circle class="k4" cx="1366.3" cy="103.1" r="4.4"/><circle class="k4" cx="1385.6" cy="108.3" r="4.4"/><circle class="k4" cx="1384.3" cy="114.7" r="4.4"/><circle class="k8" cx="1392" cy="117.3" r="4.4"/><circle class="k6" cx="1371.4" cy="117.3" r="4.4"/><circle class="k4" cx="1359.9" cy="116" r="4.4"/><circle class="k3" cx="1359.9" cy="122.4" r="4.4"/><circle class="k2" cx="1372.7" cy="126.2" r="4.4"/><circle class="k4" cx="1367.6" cy="135.2" r="4.4"/><circle class="k5" cx="1385.6" cy="131.4" r="4.4"/><circle class="k2" cx="1377.9" cy="137.8" r="4.4"/><circle class="k4" cx="1366.3" cy="141.7" r="4.4"/><circle class="k2" cx="1384.3" cy="145.5" r="4.4"/><circle class="k1" cx="1376.6" cy="149.4" r="4.4"/><circle class="k5" cx="1363.7" cy="154.5" r="4.4"/><circle class="k6" cx="1390.7" cy="155.8" r="4.4"/><circle class="k5" cx="1397.1" cy="155.8" r="4.4"/><circle class="k1" cx="1384.3" cy="157.1" r="4.4"/><circle class="k6" cx="1368.9" cy="159" r="4.4"/><circle class="k4" cx="1366.3" cy="166.1" r="4.4"/><circle class="k4" cx="1388.1" cy="167.4" r="4.4"/><circle class="k3" cx="1372.7" cy="169.9" r="4.4"/><circle class="k4" cx="1379.1" cy="173.8" r="4.4"/><circle class="k2" cx="1404.8" cy="173.8" r="4.4"/><circle class="k4" cx="1388.1" cy="177.7" r="4.4"/><circle class="k1" cx="1371.4" cy="177.7" r="4.4"/><circle class="k3" cx="1404.8" cy="180.2" r="4.4"/><circle class="k5" cx="1384.3" cy="180.2" r="4.4"/><circle class="k7" cx="1372.7" cy="186.7" r="4.4"/><circle class="k1" cx="1365" cy="189.2" r="4.4"/><circle class="k3" cx="1397.1" cy="188.6" r="4.4"/><circle class="k3" cx="1352.2" cy="190.5" r="4.4"/><circle class="k4" cx="1420.3" cy="191.2" r="4.4"/><circle class="k1" cx="1408.7" cy="192.4" r="4.4"/><circle class="k2" cx="1412.6" cy="199.5" r="4.4"/><circle class="k4" cx="1388.1" cy="195.6" r="4.4"/><circle class="k4" cx="1377.9" cy="196.9" r="4.4"/><circle class="k4" cx="1367.6" cy="200.8" r="4.4"/><circle class="k6" cx="1358.6" cy="205.9" r="4.4"/><circle class="k2" cx="1408.1" cy="209.5" r="4.4"/><circle class="k5" cx="1419.6" cy="213.4" r="4.4"/><circle class="k3" cx="1424.8" cy="224.3" r="4.4"/><circle class="k10" cx="1413.2" cy="231.3" r="4.4"/><circle class="k4" cx="1403.6" cy="229.4" r="4.4"/><circle class="k2" cx="1393.3" cy="208.9" r="4.4"/><circle class="k4" cx="1386.9" cy="229.4" r="4.4"/><circle class="k4" cx="1389.4" cy="232.6" r="4.4"/><circle class="k1" cx="1410" cy="251.9" r="4.4"/><circle class="k4" cx="1402.3" cy="259.6" r="4.4"/><circle class="k4" cx="1388.1" cy="258.3" r="4.4"/><circle class="k4" cx="1377.9" cy="268.6" r="4.4"/><circle class="k6" cx="1368.9" cy="261.5" r="4.4"/><circle class="k3" cx="1357.9" cy="255.8" r="4.4"/><circle class="k6" cx="1361.8" cy="252.6" r="4.4"/><circle class="k2" cx="1340.6" cy="257.7" r="4.4"/><circle class="k7" cx="1388.1" cy="217.2" r="4.4"/><circle class="k6" cx="1376.6" cy="211.4" r="4.4"/><circle class="k5" cx="1368.9" cy="214.6" r="4.4"/><circle class="k5" cx="1374" cy="221.7" r="4.4"/><circle class="k5" cx="1383" cy="225.6" r="4.4"/><circle class="k5" cx="1359.9" cy="225.6" r="4.4"/><circle class="k6" cx="1358.6" cy="228.8" r="4.4"/><circle class="k6" cx="1372.1" cy="230.1" r="4.4"/><circle class="k5" cx="1352.2" cy="232.6" r="4.4"/><circle class="k4" cx="1370.8" cy="237.8" r="4.4"/><circle class="k6" cx="1366.9" cy="243.6" r="4.4"/><circle class="k6" cx="1352.2" cy="239.7" r="4.4"/><circle class="k4" cx="1352.8" cy="246.8" r="4.4"/><circle class="k6" cx="1374" cy="245.5" r="4.4"/><circle class="k6" cx="1382.4" cy="250" r="4.4"/><circle class="k8" cx="1338" cy="241.6" r="4.4"/><circle class="k6" cx="1343.8" cy="220.4" r="4.4"/><circle class="k4" cx="1334.2" cy="230.1" r="4.4"/><circle class="k4" cx="1332.9" cy="224.3" r="4.4"/><circle class="k5" cx="1322.6" cy="215.9" r="4.4"/><circle class="k5" cx="1322.6" cy="227.5" r="4.4"/><circle class="k6" cx="1334.2" cy="209.5" r="4.4"/><circle class="k8" cx="1304" cy="221.7" r="4.4"/><circle class="k6" cx="1314.9" cy="235.8" r="4.4"/><circle class="k6" cx="1319.4" cy="243.6" r="4.4"/><circle class="k6" cx="1309.7" cy="239.7" r="4.4"/><circle class="k6" cx="1286.6" cy="224.3" r="4.4"/><circle class="k6" cx="1285.3" cy="239.1" r="4.4"/><circle class="k8" cx="1273.1" cy="242.3" r="4.4"/><circle class="k5" cx="1347" cy="264.1" r="4.4"/><circle class="k6" cx="1356.6" cy="268.6" r="4.4"/><circle class="k5" cx="1347.7" cy="270.5" r="4.4"/><circle class="k5" cx="1358.6" cy="273.8" r="4.4"/><circle class="k6" cx="1356.6" cy="281.5" r="4.4"/><circle class="k6" cx="1362.4" cy="285.3" r="4.4"/><circle class="k8" cx="1344.4" cy="285.3" r="4.4"/><circle class="k6" cx="1347.7" cy="289.8" r="4.4"/><circle class="k6" cx="1343.2" cy="295.6" r="4.4"/><circle class="k6" cx="1336.7" cy="297.5" r="4.4"/><circle class="k6" cx="1354.1" cy="307.2" r="4.4"/><circle class="k5" cx="1342.5" cy="307.2" r="4.4"/><circle class="k2" cx="1345.7" cy="310.4" r="4.4"/><circle class="k10" cx="1339.3" cy="318.7" r="4.4"/><circle class="k6" cx="1350.2" cy="328.4" r="4.4"/><circle class="k7" cx="1348.3" cy="332.2" r="4.4"/><circle class="k6" cx="1330.3" cy="253.2" r="4.4"/><circle class="k8" cx="1327.7" cy="262.8" r="4.4"/><circle class="k6" cx="1302" cy="257.7" r="4.4"/><circle class="k5" cx="1318.1" cy="264.1" r="4.4"/><circle class="k6" cx="1309.7" cy="259" r="4.4"/><circle class="k5" cx="1326.4" cy="277" r="4.4"/><circle class="k6" cx="1316.2" cy="273.1" r="4.4"/><circle class="k7" cx="1302" cy="278.3" r="4.4"/><circle class="k8" cx="1308.5" cy="280.8" r="4.4"/><circle class="k4" cx="1314.2" cy="289.2" r="4.4"/><circle class="k6" cx="1309.7" cy="295" r="4.4"/><circle class="k7" cx="1299.5" cy="296.9" r="4.4"/><circle class="k6" cx="1314.2" cy="300.7" r="4.4"/><circle class="k7" cx="1300.1" cy="302.7" r="4.4"/><circle class="k6" cx="1318.1" cy="310.4" r="4.4"/><circle class="k6" cx="1300.1" cy="309.7" r="4.4"/><circle class="k7" cx="1311" cy="320" r="4.4"/><circle class="k6" cx="1303.3" cy="321.3" r="4.4"/><circle class="k7" cx="1298.2" cy="319.4" r="4.4"/><circle class="k6" cx="1291.1" cy="326.5" r="4.4"/><circle class="k6" cx="1312.3" cy="327.7" r="4.4"/><circle class="k7" cx="1312.3" cy="334.8" r="4.4"/><circle class="k1" cx="1298.2" cy="336.1" r="4.4"/><circle class="k6" cx="1303.3" cy="341.2" r="4.4"/><circle class="k10" cx="1303.3" cy="345.1" r="4.4"/><circle class="k1" cx="1288.5" cy="346.4" r="4.4"/><circle class="k2" cx="1282.8" cy="352.2" r="4.4"/><circle class="k10" cx="1305.9" cy="355.4" r="4.4"/><circle class="k10" cx="1293.7" cy="359.2" r="4.4"/><circle class="k10" cx="1304" cy="365" r="4.4"/><circle class="k10" cx="1311.7" cy="373.4" r="4.4"/><circle class="k10" cx="1297.5" cy="377.9" r="4.4"/><circle class="k10" cx="1284.7" cy="377.2" r="4.4"/><circle class="k10" cx="1272.5" cy="383" r="4.4"/><circle class="k10" cx="1295.6" cy="383" r="4.4"/><circle class="k8" cx="1300.7" cy="230.1" r="4.4"/><circle class="k7" cx="1287.9" cy="230.7" r="4.4"/><circle class="k8" cx="1296.9" cy="242.9" r="4.4"/><circle class="k9" cx="1289.2" cy="248.7" r="4.4"/><circle class="k6" cx="1276.3" cy="248.7" r="4.4"/><circle class="k8" cx="1282.8" cy="253.8" r="4.4"/><circle class="k7" cx="1260.9" cy="247.4" r="4.4"/><circle class="k9" cx="1258.3" cy="257.7" r="4.4"/><circle class="k8" cx="1271.2" cy="264.1" r="4.4"/><circle class="k8" cx="1285.3" cy="269.3" r="4.4"/><circle class="k7" cx="1271.2" cy="270.5" r="4.4"/><circle class="k7" cx="1264.8" cy="269.3" r="4.4"/><circle class="k8" cx="1253.2" cy="277.6" r="4.4"/><circle class="k6" cx="1260.3" cy="280.8" r="4.4"/><circle class="k8" cx="1284" cy="279.5" r="4.4"/><circle class="k7" cx="1277.6" cy="289.8" r="4.4"/><circle class="k9" cx="1267.3" cy="289.8" r="4.4"/><circle class="k8" cx="1276.3" cy="293.7" r="4.4"/><circle class="k8" cx="1258.3" cy="295" r="4.4"/><circle class="k7" cx="1251.9" cy="300.7" r="4.4"/><circle class="k7" cx="1265.4" cy="304" r="4.4"/><circle class="k7" cx="1282.1" cy="307.2" r="4.4"/><circle class="k7" cx="1269.9" cy="313.6" r="4.4"/><circle class="k5" cx="1274.4" cy="320" r="4.4"/><circle class="k8" cx="1264.8" cy="320.7" r="4.4"/><circle class="k9" cx="1257" cy="319.4" r="4.4"/><circle class="k8" cx="1272.5" cy="329" r="4.4"/><circle class="k7" cx="1255.1" cy="328.4" r="4.4"/><circle class="k7" cx="1271.2" cy="338.7" r="4.4"/><circle class="k8" cx="1263.5" cy="341.2" r="4.4"/><circle class="k9" cx="1302" cy="210.1" r="4.4"/><circle class="k7" cx="1294.3" cy="211.4" r="4.4"/><circle class="k7" cx="1286.6" cy="208.9" r="4.4"/><circle class="k8" cx="1316.2" cy="208.9" r="4.4"/><circle class="k1" cx="1275.6" cy="361.1" r="4.4"/><circle class="k2" cx="1396.3" cy="175.2" r="4.4"/></g>
<text class="pn" x="467.3" y="19.3" style="font-size:30px">a</text>
<text class="pn" x="242.6" y="394.3" style="font-size:31.5px">b</text>
<text class="lb" text-anchor="middle" x="739.6" y="19.4">Orco Conservation</text>
<text class="lb" text-anchor="middle" x="1233.8" y="19.4">OR Conservation</text>
<text class="lb" x="1480.8" y="85.2">Conserved</text>
<text class="lb" x="1498" y="367.8">Variable</text>
<rect class="c9" x="1527.4" y="103.1" width="40.3" height="26.18"/>
<text class="lg" x="1547.55" y="124.79" style="fill:#fff">9</text>
<rect class="c8" x="1527.4" y="129.28" width="40.3" height="26.18"/>
<text class="lg" x="1547.55" y="150.97">8</text>
<rect class="c7" x="1527.4" y="155.46" width="40.3" height="26.18"/>
<text class="lg" x="1547.55" y="177.15">7</text>
<rect class="c6" x="1527.4" y="181.64" width="40.3" height="26.18"/>
<text class="lg" x="1547.55" y="203.33">6</text>
<rect class="c5" x="1527.4" y="207.82" width="40.3" height="26.18"/>
<text class="lg" x="1547.55" y="229.51">5</text>
<rect class="c4" x="1527.4" y="234" width="40.3" height="26.18"/>
<text class="lg" x="1547.55" y="255.69">4</text>
<rect class="c3" x="1527.4" y="260.18" width="40.3" height="26.18"/>
<text class="lg" x="1547.55" y="281.87">3</text>
<rect class="c2" x="1527.4" y="286.36" width="40.3" height="26.18"/>
<text class="lg" x="1547.55" y="308.05">2</text>
<rect class="c1" x="1527.4" y="312.54" width="40.3" height="26.18"/>
<text class="lg" x="1547.55" y="334.23">1</text>
<text class="lb" transform="translate(1585.5 100.6) rotate(90)" textLength="240.5" lengthAdjust="spacingAndGlyphs" style="font-size:29.5px;fill:#222">Conservation Score</text>
<g><text class="tk" x="399.55" y="419.9">10</text><path class="tl" d="M399.55 429V443"/><text class="tk" x="584.34" y="419.9">20</text><path class="tl" d="M584.34 429V443"/><text class="tk" x="769.13" y="419.9">30</text><path class="tl" d="M769.13 429V443"/><text class="tk" x="953.92" y="419.9">40</text><path class="tl" d="M953.92 429V443"/><text class="tk" x="1138.71" y="419.9">50</text><path class="tl" d="M1138.71 429V443"/><text class="tk" x="1323.5" y="419.9">60</text><path class="tl" d="M1323.5 429V443"/><text class="tk" x="1508.29" y="419.9">70</text><path class="tl" d="M1508.29 429V443"/><text class="tk" x="1693.08" y="419.9">80</text><path class="tl" d="M1693.08 429V443"/><text class="hl" x="493" y="430.3">S0</text><text class="hl" x="1101.3" y="430.3">S1</text><text class="hl" x="1608.2" y="430.3">S2</text><path class="bx" d="M354.6 443.25H630.69V477.6H354.6Z"/><path class="bx" d="M816.58 443.25H1388.33V477.6H816.58Z"/><path class="bx" d="M1702.32 443.25H1444.86V477.6H1702.32"/><text class="sq" transform="translate(224 470.7) scale(1.0300 1)" x="1.14 19.08 37.03 54.97 72.91 90.85 108.79 126.73 144.67 162.61 180.55 198.49 216.43 234.37 252.31 270.26 288.2 306.14 324.08 342.02 359.96 377.9 395.84 413.78 431.72 449.66 467.6 485.54 503.49 521.43 539.37 557.31 575.25 593.19 611.13 629.07 647.01 664.95 682.89 700.83 718.77 736.72 754.66 772.6 790.54 808.48 826.42 844.36 862.3 880.24 898.18 916.12 934.06 952 969.95 987.89 1005.83 1023.77 1041.71 1059.65 1077.59 1095.53 1113.47 1131.41 1149.35 1167.29 1185.24 1203.18 1221.12 1239.06 1257 1274.94 1292.88 1310.82 1328.76 1346.7 1364.64 1382.58 1400.52 1418.47">MKFKHQGLVADLLPNIRVMQGVGHFMFNYYSEGKKFPHRIYCIVTLLLLLLQYGMMAVNLMMESDDVDDLTANTITMLFF</text><text class="sq" transform="translate(224 608.8) scale(1.0300 1)" x="1.14 19.08 37.03 54.97 72.91 90.85 108.79 126.73 144.67 162.61 180.55 198.49 216.43 234.37 252.31 270.26 288.2 306.14 324.08 342.02 359.96 377.9 395.84 413.78 431.72 449.66 467.6 485.54 503.49 521.43 539.37 557.31 575.25 593.19 611.13 629.07 647.01 664.95 682.89 700.83 718.77 736.72 754.66 772.6 790.54 808.48 826.42 844.36 862.3 880.24 898.18 916.12 934.06 952 969.95 987.89 1005.83 1023.77 1041.71 1059.65 1077.59 1095.53 1113.47 1131.41 1149.35 1167.29 1185.24 1203.18 1221.12 1239.06 1257 1274.94 1292.88 1310.82 1328.76 1346.7 1364.64 1382.58 1400.52 1418.47">MKVKYQGLVADLMPNIRLMQASGHFMFNYYGDNSKLLRKIYSSVHLVLILLQFGFILVNLALESDDVNELTANTITVLFF</text><text class="sq" transform="translate(224 645.9) scale(1.0300 1)" x="1.14 19.08 37.03 54.97 72.91 90.85 108.79 126.73 144.67 162.61 180.55 198.49 216.43 234.37 252.31 270.26 288.2 306.14 324.08 342.02 359.96 377.9 395.84 413.78 431.72 449.66 467.6 485.54 503.49 521.43 539.37 557.31 575.25 593.19 611.13 629.07 647.01 664.95 682.89 700.83 718.77 736.72 754.66 772.6 790.54 808.48 826.42 844.36 862.3 880.24 898.18 916.12 934.06 952 969.95 987.89 1005.83 1023.77 1041.71 1059.65 1077.59 1095.53 1113.47 1131.41 1149.35 1167.29 1185.24 1203.18 1221.12 1239.06 1257 1274.94 1292.88 1310.82 1328.76 1346.7 1364.64 1382.58 1400.52 1418.47">MMLELIDFERYFKLNKKLLKLLGLWPYQSRSSHRLLLRFILLLLLIFLLIPQLIGILLVLVLSGDDLDILIENLFLLITF</text><path class="ds" d="M224.3 499H1701.32M224.3 734.9H1701.32"/><rect class="c3" x="225.75" y="554.45" width="17.36" height="25.85"/><rect class="c3" x="244.21" y="534.17" width="17.36" height="46.13"/><rect class="c1" x="262.68" y="563.37" width="17.36" height="16.93"/><rect class="c6" x="281.14" y="507.41" width="17.36" height="72.89"/><rect class="c1" x="299.61" y="557.69" width="17.36" height="22.61"/><rect class="c2" x="318.07" y="539.04" width="17.36" height="41.26"/><rect class="c9" x="336.53" y="501.73" width="17.36" height="78.57"/><rect class="c9" x="355" y="499.3" width="17.36" height="81"/><rect class="c8" x="373.46" y="505.79" width="17.36" height="74.51"/><rect class="c6" x="391.93" y="526.87" width="17.36" height="53.43"/><rect class="c8" x="410.39" y="501.73" width="17.36" height="78.57"/><rect class="c8" x="428.85" y="503.36" width="17.36" height="76.94"/><rect class="c4" x="447.32" y="517.95" width="17.36" height="62.35"/><rect class="c8" x="465.78" y="501.73" width="17.36" height="78.57"/><rect class="c8" x="484.25" y="503.36" width="17.36" height="76.94"/><rect class="c9" x="502.71" y="501.73" width="17.36" height="78.57"/><rect class="c4" x="521.17" y="528.5" width="17.36" height="51.8"/><rect class="c1" x="539.64" y="526.87" width="17.36" height="53.43"/><rect class="c8" x="558.1" y="509.84" width="17.36" height="70.46"/><rect class="c7" x="576.57" y="536.61" width="17.36" height="43.69"/><rect class="c1" x="595.03" y="557.69" width="17.36" height="22.61"/><rect class="c1" x="613.49" y="547.15" width="17.36" height="33.15"/><rect class="c9" x="631.96" y="499.3" width="17.36" height="81"/><rect class="c8" x="650.42" y="520.39" width="17.36" height="59.91"/><rect class="c7" x="668.89" y="505.79" width="17.36" height="74.51"/><rect class="c4" x="687.35" y="547.15" width="17.36" height="33.15"/><rect class="c5" x="705.81" y="530.93" width="17.36" height="49.37"/><rect class="c7" x="724.28" y="520.39" width="17.36" height="59.91"/><rect class="c7" x="742.74" y="520.39" width="17.36" height="59.91"/><rect class="c2" x="761.21" y="551.2" width="17.36" height="29.1"/><rect class="c1" x="779.67" y="565.8" width="17.36" height="14.5"/><rect class="c4" x="798.13" y="551.2" width="17.36" height="29.1"/><rect class="c2" x="816.6" y="547.15" width="17.36" height="33.15"/><rect class="c1" x="835.06" y="559.31" width="17.36" height="20.99"/><rect class="c1" x="853.53" y="559.31" width="17.36" height="20.99"/><rect class="c1" x="871.99" y="544.72" width="17.36" height="35.58"/><rect class="c1" x="890.45" y="540.66" width="17.36" height="39.64"/><rect class="c8" x="908.92" y="543.09" width="17.36" height="37.21"/><rect class="c3" x="927.38" y="520.39" width="17.36" height="59.91"/><rect class="c1" x="945.85" y="543.09" width="17.36" height="37.21"/><rect class="c4" x="964.31" y="512.28" width="17.36" height="68.02"/><rect class="c5" x="982.77" y="547.15" width="17.36" height="33.15"/><rect class="c1" x="1001.24" y="544.72" width="17.36" height="35.58"/><rect class="c1" x="1019.7" y="547.15" width="17.36" height="33.15"/><rect class="c6" x="1038.17" y="526.87" width="17.36" height="53.43"/><rect class="c6" x="1056.63" y="528.5" width="17.36" height="51.8"/><rect class="c1" x="1075.09" y="555.26" width="17.36" height="25.04"/><rect class="c1" x="1093.56" y="524.44" width="17.36" height="55.86"/><rect class="c1" x="1112.02" y="543.09" width="17.36" height="37.21"/><rect class="c1" x="1130.49" y="532.55" width="17.36" height="47.75"/><rect class="c1" x="1148.95" y="555.26" width="17.36" height="25.04"/><rect class="c7" x="1167.41" y="520.39" width="17.36" height="59.91"/><rect class="c1" x="1185.88" y="524.44" width="17.36" height="55.86"/><rect class="c1" x="1204.34" y="555.26" width="17.36" height="25.04"/><rect class="c1" x="1222.81" y="557.69" width="17.36" height="22.61"/><rect class="c3" x="1241.27" y="551.2" width="17.36" height="29.1"/><rect class="c1" x="1259.73" y="559.31" width="17.36" height="20.99"/><rect class="c1" x="1278.2" y="544.72" width="17.36" height="35.58"/><rect class="c8" x="1296.66" y="505.79" width="17.36" height="74.51"/><rect class="c5" x="1315.13" y="539.04" width="17.36" height="41.26"/><rect class="c1" x="1333.59" y="536.61" width="17.36" height="43.69"/><rect class="c1" x="1352.05" y="557.69" width="17.36" height="22.61"/><rect class="c5" x="1370.52" y="551.2" width="17.36" height="29.1"/><rect class="c2" x="1388.98" y="540.66" width="17.36" height="39.64"/><rect class="c1" x="1407.45" y="543.09" width="17.36" height="37.21"/><rect class="c6" x="1425.91" y="543.09" width="17.36" height="37.21"/><rect class="c7" x="1444.37" y="507.41" width="17.36" height="72.89"/><rect class="c7" x="1462.84" y="530.93" width="17.36" height="49.37"/><rect class="c5" x="1481.3" y="534.98" width="17.36" height="45.32"/><rect class="c7" x="1499.77" y="505.79" width="17.36" height="74.51"/><rect class="c7" x="1518.23" y="532.55" width="17.36" height="47.75"/><rect class="c8" x="1536.69" y="520.39" width="17.36" height="59.91"/><rect class="c8" x="1555.16" y="505.79" width="17.36" height="74.51"/><rect class="c7" x="1573.62" y="505.79" width="17.36" height="74.51"/><rect class="c8" x="1592.09" y="503.36" width="17.36" height="76.94"/><rect class="c9" x="1610.55" y="501.73" width="17.36" height="78.57"/><rect class="c1" x="1629.01" y="551.2" width="17.36" height="29.1"/><rect class="c8" x="1647.48" y="501.73" width="17.36" height="78.57"/><rect class="c9" x="1665.94" y="501.73" width="17.36" height="78.57"/><rect class="c9" x="1684.41" y="501.73" width="17.36" height="78.57"/><path d="M224 581.3H1708.32" style="stroke:#fff;stroke-width:1.2;fill:none"/><rect class="c4" x="225.75" y="653.25" width="17.36" height="9.18"/><rect class="c5" x="244.21" y="653.25" width="17.36" height="9.18"/><rect class="c1" x="262.68" y="653.25" width="17.36" height="5.1"/><rect class="c4" x="281.14" y="653.25" width="17.36" height="6.73"/><rect class="c3" x="299.61" y="653.25" width="17.36" height="6.73"/><rect class="c4" x="318.07" y="653.25" width="17.36" height="6.73"/><rect class="c5" x="336.53" y="653.25" width="17.36" height="10.81"/><rect class="c4" x="355" y="653.25" width="17.36" height="13.26"/><rect class="c4" x="373.46" y="653.25" width="17.36" height="6.73"/><rect class="c5" x="391.93" y="653.25" width="17.36" height="6.73"/><rect class="c6" x="410.39" y="653.25" width="17.36" height="21.42"/><rect class="c6" x="428.85" y="653.25" width="17.36" height="17.34"/><rect class="c5" x="447.32" y="653.25" width="17.36" height="10.81"/><rect class="c4" x="465.78" y="653.25" width="17.36" height="18.97"/><rect class="c7" x="484.25" y="653.25" width="17.36" height="14.89"/><rect class="c7" x="502.71" y="653.25" width="17.36" height="17.34"/><rect class="c2" x="521.17" y="653.25" width="17.36" height="10.81"/><rect class="c4" x="539.64" y="653.25" width="17.36" height="18.97"/><rect class="c6" x="558.1" y="653.25" width="17.36" height="41.82"/><rect class="c5" x="576.57" y="653.25" width="17.36" height="13.26"/><rect class="c3" x="595.03" y="653.25" width="17.36" height="18.97"/><rect class="c4" x="613.49" y="653.25" width="17.36" height="10.81"/><rect class="c8" x="631.96" y="653.25" width="17.36" height="63.03"/><rect class="c6" x="650.42" y="653.25" width="17.36" height="29.58"/><rect class="c7" x="668.89" y="653.25" width="17.36" height="49.98"/><rect class="c7" x="687.35" y="653.25" width="17.36" height="48.34"/><rect class="c3" x="705.81" y="653.25" width="17.36" height="10.81"/><rect class="c5" x="724.28" y="653.25" width="17.36" height="10.81"/><rect class="c3" x="742.74" y="653.25" width="17.36" height="9.18"/><rect class="c3" x="761.21" y="653.25" width="17.36" height="6.73"/><rect class="c3" x="779.67" y="653.25" width="17.36" height="9.18"/><rect class="c5" x="816.6" y="653.25" width="17.36" height="2.65"/><rect class="c3" x="835.06" y="653.25" width="17.36" height="9.18"/><rect class="c2" x="853.53" y="653.25" width="17.36" height="9.18"/><rect class="c2" x="871.99" y="653.25" width="17.36" height="13.26"/><rect class="c3" x="890.45" y="653.25" width="17.36" height="10.81"/><rect class="c3" x="908.92" y="653.25" width="17.36" height="10.81"/><rect class="c1" x="927.38" y="653.25" width="17.36" height="9.18"/><rect class="c2" x="945.85" y="653.25" width="17.36" height="10.81"/><rect class="c2" x="964.31" y="653.25" width="17.36" height="10.81"/><rect class="c2" x="982.77" y="653.25" width="17.36" height="10.81"/><rect class="c3" x="1001.24" y="653.25" width="17.36" height="13.26"/><rect class="c2" x="1019.7" y="653.25" width="17.36" height="13.26"/><rect class="c4" x="1038.17" y="653.25" width="17.36" height="13.26"/><rect class="c2" x="1056.63" y="653.25" width="17.36" height="15.7"/><rect class="c4" x="1075.09" y="653.25" width="17.36" height="13.26"/><rect class="c3" x="1093.56" y="653.25" width="17.36" height="15.7"/><rect class="c4" x="1112.02" y="653.25" width="17.36" height="15.7"/><rect class="c4" x="1130.49" y="653.25" width="17.36" height="15.7"/><rect class="c4" x="1148.95" y="653.25" width="17.36" height="15.7"/><rect class="c6" x="1167.41" y="653.25" width="17.36" height="18.97"/><rect class="c4" x="1185.88" y="653.25" width="17.36" height="17.34"/><rect class="c3" x="1204.34" y="653.25" width="17.36" height="10.81"/><rect class="c4" x="1222.81" y="653.25" width="17.36" height="6.73"/><rect class="c4" x="1241.27" y="653.25" width="17.36" height="15.7"/><rect class="c2" x="1259.73" y="653.25" width="17.36" height="10.81"/><rect class="c4" x="1278.2" y="653.25" width="17.36" height="10.81"/><rect class="c4" x="1296.66" y="653.25" width="17.36" height="6.73"/><rect class="c1" x="1315.13" y="653.25" width="17.36" height="6.73"/><rect class="c4" x="1333.59" y="653.25" width="17.36" height="2.65"/><rect class="c5" x="1352.05" y="653.25" width="17.36" height="0.35"/><rect class="c5" x="1370.52" y="653.25" width="17.36" height="0.35"/><rect class="c3" x="1388.98" y="653.25" width="17.36" height="10.81"/><rect class="c3" x="1407.45" y="653.25" width="17.36" height="9.18"/><rect class="c6" x="1425.91" y="653.25" width="17.36" height="23.86"/><rect class="c4" x="1444.37" y="653.25" width="17.36" height="15.7"/><rect class="c3" x="1462.84" y="653.25" width="17.36" height="10.81"/><rect class="c5" x="1481.3" y="653.25" width="17.36" height="9.18"/><rect class="c5" x="1499.77" y="653.25" width="17.36" height="17.34"/><rect class="c5" x="1518.23" y="653.25" width="17.36" height="13.26"/><rect class="c7" x="1536.69" y="653.25" width="17.36" height="18.97"/><rect class="c6" x="1555.16" y="653.25" width="17.36" height="13.26"/><rect class="c5" x="1573.62" y="653.25" width="17.36" height="23.86"/><rect class="c6" x="1592.09" y="653.25" width="17.36" height="9.18"/><rect class="c5" x="1610.55" y="653.25" width="17.36" height="9.18"/><rect class="c4" x="1629.01" y="653.25" width="17.36" height="15.7"/><rect class="c4" x="1647.48" y="653.25" width="17.36" height="15.7"/><rect class="c6" x="1665.94" y="653.25" width="17.36" height="10.81"/><rect class="c4" x="1684.41" y="653.25" width="17.36" height="10.81"/><path class="ax" d="M1726.72 499.3H1718.72V580.85H1726.72M1718.72 540.08H1726.72"/><path class="ax" d="M1726.72 652.7H1718.72V734.9H1726.72M1718.72 693.8H1726.72"/></g>
<g><text class="tk" x="399.55" y="776.9">90</text><path class="tl" d="M399.55 786V800"/><text class="tk" x="584.34" y="776.9">100</text><path class="tl" d="M584.34 786V800"/><text class="tk" x="769.13" y="776.9">110</text><path class="tl" d="M769.13 786V800"/><text class="tk" x="953.92" y="776.9">120</text><path class="tl" d="M953.92 786V800"/><text class="tk" x="1138.71" y="776.9">130</text><path class="tl" d="M1138.71 786V800"/><text class="tk" x="1323.5" y="776.9">140</text><path class="tl" d="M1323.5 786V800"/><text class="tk" x="1508.29" y="776.9">150</text><path class="tl" d="M1508.29 786V800"/><text class="tk" x="1693.08" y="776.9">160</text><path class="tl" d="M1693.08 786V800"/><text class="hl" x="432.5" y="787.3">S2</text><text class="hl" x="1194.3" y="787.3">S3</text><path class="bx" d="M224.3 800.25H630.69V834.6H224.3"/><path class="bx" d="M835.06 800.25H1554.64V834.6H835.06Z"/><text class="sq" transform="translate(224 827.7) scale(1.0300 1)" x="1.14 19.08 37.03 54.97 72.91 90.85 108.79 126.73 144.67 162.61 180.55 198.49 216.43 234.37 252.31 270.26 288.2 306.14 324.08 342.02 359.96 377.9 395.84 413.78 431.72 449.66 467.6 485.54 503.49 521.43 539.37 557.31 575.25 593.19 611.13 629.07 647.01 664.95 682.89 700.83 718.77 736.72 754.66 772.6 790.54 808.48 826.42 844.36 862.3 880.24 898.18 916.12 934.06 952 969.95 987.89 1005.83 1023.77 1041.71 1059.65 1077.59 1095.53 1113.47 1131.41 1149.35 1167.29 1185.24 1203.18 1221.12 1239.06 1257 1274.94 1292.88 1310.82 1328.76">LHPIVKMIYFPVRSKIFYKTLAIWNNPNSHPLFAESNARFHALAITKMRRLLFCVAGATIFSVISWTGITFIEDS</text><text class="sq" transform="translate(1609.92 827.7) scale(1.0300 1)" x="1.14 19.08 37.03 54.97 72.91" style="fill:#808080;stroke:#808080">VKRIT</text><text class="sq" transform="translate(224 965.8) scale(1.0300 1)" x="1.14 19.08 37.03 54.97 72.91 90.85 108.79 126.73 144.67 162.61 180.55 198.49 216.43 234.37 252.31 270.26 288.2 306.14 324.08 342.02 359.96 377.9 395.84 413.78 431.72 449.66 467.6 485.54 503.49 521.43 539.37 557.31 575.25 593.19 611.13 629.07 647.01 664.95 682.89 700.83 718.77 736.72 754.66 772.6 790.54 808.48 826.42 844.36 862.3 880.24 898.18 916.12 934.06 952 969.95 987.89 1005.83 1023.77 1041.71 1059.65 1077.59 1095.53 1113.47 1131.41 1149.35 1167.29 1185.24 1203.18 1221.12 1239.06 1257 1274.94 1292.88 1310.82 1328.76 1346.7 1364.64 1382.58 1400.52 1418.47">THSITKFIYFAVNSKNFYRTLAIWNQPNSHPLFAESDARYHQIALAKMRKLLFLVMGTTVLSVVAWTTITFFGESVKKIV</text><text class="sq" transform="translate(224 1002.9) scale(1.0300 1)" x="1.14 19.08 37.03 54.97 72.91 90.85 108.79 126.73 144.67 162.61 180.55 198.49 216.43 234.37 252.31 270.26 288.2 306.14 324.08 342.02 359.96 377.9 395.84 413.78 431.72 449.66 467.6 485.54 503.49 521.43 539.37 557.31 575.25 593.19 611.13 629.07 647.01 664.95 682.89 700.83 718.77 736.72 754.66 772.6 790.54 808.48 826.42 844.36 862.3 880.24 898.18 916.12 934.06 952 969.95 987.89 1005.83 1023.77 1041.71 1059.65 1077.59 1095.53 1113.47 1131.41 1149.35 1167.29 1185.24 1203.18 1221.12 1239.06 1257 1274.94 1292.88 1310.82 1328.76 1346.7 1364.64 1382.58 1400.52 1418.47">ILALLKLFVFLLKRKKLKELLEFLIAKDWKEEEREILLKYARRGRRLTKIYIILVLSAVVLYVLLPLLSPLLLDYILPLA</text><path class="ds" d="M224.3 856H1701.32M224.3 1091.9H1701.32"/><rect class="c1" x="225.75" y="887.93" width="17.36" height="49.37"/><rect class="c9" x="244.21" y="858.73" width="17.36" height="78.57"/><rect class="c1" x="262.68" y="901.72" width="17.36" height="35.58"/><rect class="c2" x="281.14" y="893.61" width="17.36" height="43.69"/><rect class="c5" x="299.61" y="908.2" width="17.36" height="29.1"/><rect class="c9" x="318.07" y="856.3" width="17.36" height="81"/><rect class="c1" x="336.53" y="901.72" width="17.36" height="35.58"/><rect class="c1" x="355" y="908.2" width="17.36" height="29.1"/><rect class="c7" x="373.46" y="877.39" width="17.36" height="59.91"/><rect class="c5" x="391.93" y="879.01" width="17.36" height="58.29"/><rect class="c7" x="410.39" y="866.84" width="17.36" height="70.46"/><rect class="c1" x="428.85" y="897.66" width="17.36" height="39.64"/><rect class="c5" x="447.32" y="901.72" width="17.36" height="35.58"/><rect class="c5" x="465.78" y="887.93" width="17.36" height="49.37"/><rect class="c7" x="484.25" y="866.84" width="17.36" height="70.46"/><rect class="c1" x="502.71" y="916.31" width="17.36" height="20.99"/><rect class="c8" x="521.17" y="858.73" width="17.36" height="78.57"/><rect class="c7" x="539.64" y="860.36" width="17.36" height="76.94"/><rect class="c8" x="558.1" y="862.79" width="17.36" height="74.51"/><rect class="c8" x="576.57" y="860.36" width="17.36" height="76.94"/><rect class="c6" x="595.03" y="870.9" width="17.36" height="66.4"/><rect class="c1" x="613.49" y="904.15" width="17.36" height="33.15"/><rect class="c4" x="631.96" y="887.93" width="17.36" height="49.37"/><rect class="c9" x="650.42" y="858.73" width="17.36" height="78.57"/><rect class="c9" x="668.89" y="858.73" width="17.36" height="78.57"/><rect class="c7" x="687.35" y="887.93" width="17.36" height="49.37"/><rect class="c3" x="705.81" y="912.26" width="17.36" height="25.04"/><rect class="c9" x="724.28" y="860.36" width="17.36" height="76.94"/><rect class="c6" x="742.74" y="873.33" width="17.36" height="63.97"/><rect class="c9" x="761.21" y="858.73" width="17.36" height="78.57"/><rect class="c8" x="779.67" y="860.36" width="17.36" height="76.94"/><rect class="c8" x="798.13" y="860.36" width="17.36" height="76.94"/><rect class="c9" x="816.6" y="856.3" width="17.36" height="81"/><rect class="c6" x="835.06" y="887.93" width="17.36" height="49.37"/><rect class="c9" x="853.53" y="858.73" width="17.36" height="78.57"/><rect class="c9" x="871.99" y="858.73" width="17.36" height="78.57"/><rect class="c7" x="890.45" y="896.04" width="17.36" height="41.26"/><rect class="c7" x="908.92" y="869.28" width="17.36" height="68.02"/><rect class="c9" x="927.38" y="858.73" width="17.36" height="78.57"/><rect class="c5" x="945.85" y="869.28" width="17.36" height="68.02"/><rect class="c7" x="964.31" y="862.79" width="17.36" height="74.51"/><rect class="c4" x="982.77" y="912.26" width="17.36" height="25.04"/><rect class="c1" x="1001.24" y="889.55" width="17.36" height="47.75"/><rect class="c6" x="1019.7" y="866.84" width="17.36" height="70.46"/><rect class="c3" x="1038.17" y="870.9" width="17.36" height="66.4"/><rect class="c1" x="1056.63" y="914.69" width="17.36" height="22.61"/><rect class="c8" x="1075.09" y="866.84" width="17.36" height="70.46"/><rect class="c7" x="1093.56" y="862.79" width="17.36" height="74.51"/><rect class="c9" x="1112.02" y="858.73" width="17.36" height="78.57"/><rect class="c4" x="1130.49" y="908.2" width="17.36" height="29.1"/><rect class="c7" x="1148.95" y="860.36" width="17.36" height="76.94"/><rect class="c5" x="1167.41" y="879.01" width="17.36" height="58.29"/><rect class="c1" x="1185.88" y="908.2" width="17.36" height="29.1"/><rect class="c1" x="1204.34" y="909.83" width="17.36" height="27.47"/><rect class="c6" x="1222.81" y="885.5" width="17.36" height="51.8"/><rect class="c1" x="1241.27" y="908.2" width="17.36" height="29.1"/><rect class="c1" x="1259.73" y="917.94" width="17.36" height="19.36"/><rect class="c1" x="1278.2" y="900.09" width="17.36" height="37.21"/><rect class="c8" x="1296.66" y="860.36" width="17.36" height="76.94"/><rect class="c1" x="1315.13" y="893.61" width="17.36" height="43.69"/><rect class="c1" x="1333.59" y="897.66" width="17.36" height="39.64"/><rect class="c3" x="1352.05" y="881.44" width="17.36" height="55.86"/><rect class="c2" x="1370.52" y="904.15" width="17.36" height="33.15"/><rect class="c1" x="1388.98" y="908.2" width="17.36" height="29.1"/><rect class="c1" x="1407.45" y="893.61" width="17.36" height="43.69"/><rect class="c9" x="1425.91" y="858.73" width="17.36" height="78.57"/><rect class="c4" x="1444.37" y="889.55" width="17.36" height="47.75"/><rect class="c1" x="1462.84" y="881.44" width="17.36" height="55.86"/><rect class="c3" x="1481.3" y="887.93" width="17.36" height="49.37"/><rect class="c9" x="1499.77" y="858.73" width="17.36" height="78.57"/><rect class="c8" x="1518.23" y="858.73" width="17.36" height="78.57"/><rect class="c1" x="1536.69" y="881.44" width="17.36" height="55.86"/><rect class="c2" x="1555.16" y="877.39" width="17.36" height="59.91"/><rect class="c4" x="1573.62" y="901.72" width="17.36" height="35.58"/><rect class="c7" x="1592.09" y="874.95" width="17.36" height="62.35"/><rect class="c4" x="1610.55" y="873.33" width="17.36" height="63.97"/><rect class="c2" x="1629.01" y="904.15" width="17.36" height="33.15"/><rect class="c1" x="1647.48" y="922.8" width="17.36" height="14.5"/><rect class="c1" x="1665.94" y="909.83" width="17.36" height="27.47"/><rect class="c1" x="1684.41" y="917.94" width="17.36" height="19.36"/><path d="M224 938.3H1708.32" style="stroke:#fff;stroke-width:1.2;fill:none"/><rect class="c4" x="225.75" y="1010.25" width="17.36" height="13.26"/><rect class="c5" x="244.21" y="1010.25" width="17.36" height="9.18"/><rect class="c5" x="262.68" y="1010.25" width="17.36" height="9.18"/><rect class="c4" x="281.14" y="1010.25" width="17.36" height="15.7"/><rect class="c3" x="299.61" y="1010.25" width="17.36" height="17.34"/><rect class="c9" x="318.07" y="1010.25" width="17.36" height="58.14"/><rect class="c5" x="336.53" y="1010.25" width="17.36" height="13.26"/><rect class="c2" x="355" y="1010.25" width="17.36" height="15.7"/><rect class="c4" x="373.46" y="1010.25" width="17.36" height="10.81"/><rect class="c5" x="391.93" y="1010.25" width="17.36" height="17.34"/><rect class="c3" x="410.39" y="1010.25" width="17.36" height="15.7"/><rect class="c1" x="428.85" y="1010.25" width="17.36" height="9.18"/><rect class="c6" x="447.32" y="1010.25" width="17.36" height="10.81"/><rect class="c6" x="465.78" y="1010.25" width="17.36" height="21.42"/><rect class="c4" x="484.25" y="1010.25" width="17.36" height="13.26"/><rect class="c5" x="502.71" y="1010.25" width="17.36" height="15.7"/><rect class="c6" x="521.17" y="1010.25" width="17.36" height="27.94"/><rect class="c5" x="539.64" y="1010.25" width="17.36" height="10.81"/><rect class="c2" x="558.1" y="1010.25" width="17.36" height="6.73"/><rect class="c6" x="576.57" y="1010.25" width="17.36" height="41.82"/><rect class="c6" x="595.03" y="1010.25" width="17.36" height="17.34"/><rect class="c4" x="613.49" y="1010.25" width="17.36" height="18.97"/><rect class="c5" x="650.42" y="1010.25" width="17.36" height="6.73"/><rect class="c6" x="668.89" y="1010.25" width="17.36" height="17.34"/><rect class="c4" x="687.35" y="1010.25" width="17.36" height="13.26"/><rect class="c2" x="705.81" y="1010.25" width="17.36" height="9.18"/><rect class="c7" x="724.28" y="1010.25" width="17.36" height="23.86"/><rect class="c5" x="742.74" y="1010.25" width="17.36" height="32.02"/><rect class="c3" x="761.21" y="1010.25" width="17.36" height="18.97"/><rect class="c3" x="779.67" y="1010.25" width="17.36" height="13.26"/><rect class="c4" x="798.13" y="1010.25" width="17.36" height="21.42"/><rect class="c5" x="835.06" y="1010.25" width="17.36" height="18.97"/><rect class="c2" x="853.53" y="1010.25" width="17.36" height="9.18"/><rect class="c4" x="871.99" y="1010.25" width="17.36" height="27.94"/><rect class="c8" x="890.45" y="1010.25" width="17.36" height="32.02"/><rect class="c3" x="908.92" y="1010.25" width="17.36" height="10.81"/><rect class="c3" x="927.38" y="1010.25" width="17.36" height="10.81"/><rect class="c6" x="945.85" y="1010.25" width="17.36" height="17.34"/><rect class="c7" x="964.31" y="1010.25" width="17.36" height="15.7"/><rect class="c3" x="982.77" y="1010.25" width="17.36" height="15.7"/><rect class="c3" x="1001.24" y="1010.25" width="17.36" height="13.26"/><rect class="c5" x="1019.7" y="1010.25" width="17.36" height="15.7"/><rect class="c6" x="1038.17" y="1010.25" width="17.36" height="25.5"/><rect class="c3" x="1056.63" y="1010.25" width="17.36" height="10.81"/><rect class="c4" x="1075.09" y="1010.25" width="17.36" height="21.42"/><rect class="c6" x="1093.56" y="1010.25" width="17.36" height="17.34"/><rect class="c6" x="1112.02" y="1010.25" width="17.36" height="13.26"/><rect class="c3" x="1130.49" y="1010.25" width="17.36" height="10.81"/><rect class="c5" x="1148.95" y="1010.25" width="17.36" height="27.94"/><rect class="c6" x="1167.41" y="1010.25" width="17.36" height="9.18"/><rect class="c5" x="1185.88" y="1010.25" width="17.36" height="15.7"/><rect class="c1" x="1204.34" y="1010.25" width="17.36" height="15.7"/><rect class="c6" x="1222.81" y="1010.25" width="17.36" height="9.18"/><rect class="c3" x="1241.27" y="1010.25" width="17.36" height="10.81"/><rect class="c1" x="1259.73" y="1010.25" width="17.36" height="9.18"/><rect class="c5" x="1278.2" y="1010.25" width="17.36" height="17.34"/><rect class="c4" x="1296.66" y="1010.25" width="17.36" height="13.26"/><rect class="c1" x="1315.13" y="1010.25" width="17.36" height="13.26"/><rect class="c1" x="1333.59" y="1010.25" width="17.36" height="9.18"/><rect class="c6" x="1352.05" y="1010.25" width="17.36" height="25.5"/><rect class="c4" x="1370.52" y="1010.25" width="17.36" height="9.18"/><rect class="c2" x="1388.98" y="1010.25" width="17.36" height="23.86"/><rect class="c2" x="1407.45" y="1010.25" width="17.36" height="10.81"/><rect class="c5" x="1425.91" y="1010.25" width="17.36" height="46.71"/><rect class="c1" x="1444.37" y="1010.25" width="17.36" height="23.86"/><rect class="c4" x="1462.84" y="1010.25" width="17.36" height="18.97"/><rect class="c5" x="1481.3" y="1010.25" width="17.36" height="0.35"/><rect class="c7" x="1499.77" y="1010.25" width="17.36" height="13.26"/><rect class="c4" x="1518.23" y="1010.25" width="17.36" height="10.81"/><rect class="c4" x="1536.69" y="1010.25" width="17.36" height="13.26"/><rect class="c4" x="1555.16" y="1010.25" width="17.36" height="10.81"/><rect class="c4" x="1573.62" y="1010.25" width="17.36" height="10.81"/><rect class="c3" x="1592.09" y="1010.25" width="17.36" height="6.73"/><rect class="c2" x="1610.55" y="1010.25" width="17.36" height="6.73"/><rect class="c4" x="1629.01" y="1010.25" width="17.36" height="5.1"/><rect class="c6" x="1647.48" y="1010.25" width="17.36" height="13.26"/><rect class="c3" x="1665.94" y="1010.25" width="17.36" height="10.81"/><rect class="c5" x="1684.41" y="1010.25" width="17.36" height="0.35"/><path class="ax" d="M1726.72 856.3H1718.72V937.85H1726.72M1718.72 897.08H1726.72"/><path class="ax" d="M1726.72 1009.7H1718.72V1091.9H1726.72M1718.72 1050.8H1726.72"/></g>
<g><text class="tk" x="399.55" y="1133.9">170</text><path class="tl" d="M399.55 1143V1157"/><text class="tk" x="584.34" y="1133.9">180</text><path class="tl" d="M584.34 1143V1157"/><text class="tk" x="769.13" y="1133.9">190</text><path class="tl" d="M769.13 1143V1157"/><text class="tk" x="953.92" y="1133.9">200</text><path class="tl" d="M953.92 1143V1157"/><text class="tk" x="1138.71" y="1133.9">210</text><path class="tl" d="M1138.71 1143V1157"/><text class="tk" x="1323.5" y="1133.9">220</text><path class="tl" d="M1323.5 1143V1157"/><text class="tk" x="1508.29" y="1133.9">230</text><path class="tl" d="M1508.29 1143V1157"/><text class="tk" x="1693.08" y="1133.9">240</text><path class="tl" d="M1693.08 1143V1157"/><text class="hl" x="1203.2" y="1147.5">S4</text><path class="bx" d="M705.7 1157.25H1702.47V1191.6H705.7Z"/><text class="sq" transform="translate(224 1184.7) scale(1.0300 1)" x="1.14 19.08 37.03 54.97 72.91 90.85 108.79 126.73 144.67 162.61" style="fill:#808080;stroke:#808080">DPETNETTII</text><text class="sq" transform="translate(408.79 1184.7) scale(1.0300 1)" x="1.14 19.08 37.03 54.97 72.91 90.85 108.79 126.73 144.67 162.61 180.55 198.49 216.43 234.37 252.31 270.26 288.2 306.14 324.08 342.02 359.96 377.9 395.84 413.78 431.72 449.66 467.6 485.54 503.49 521.43 539.37 557.31 575.25 593.19 611.13 629.07 647.01 664.95 682.89 700.83 718.77 736.72 754.66 772.6 790.54 808.48 826.42 844.36 862.3 880.24 898.18 916.12 934.06 952 969.95 987.89 1005.83 1023.77 1041.71 1059.65 1077.59 1095.53 1113.47 1131.41 1149.35 1167.29 1185.24 1203.18 1221.12 1239.06">PIPRLMIRTFYPFNAMSGAGHVFALIYQFYYLVISMAVSNSLDVLFCSWLLFACEQLQHLKAIMKPLMEL</text><text class="sq" transform="translate(224 1322.8) scale(1.0300 1)" x="1.14 19.08 37.03 54.97 72.91 90.85 108.79 126.73 144.67 162.61 180.55 198.49 216.43 234.37 252.31 270.26 288.2 306.14 324.08 342.02 359.96 377.9 395.84 413.78 431.72 449.66 467.6 485.54 503.49 521.43 539.37 557.31 575.25 593.19 611.13 629.07 647.01 664.95 682.89 700.83 718.77 736.72 754.66 772.6 790.54 808.48 826.42 844.36 862.3 880.24 898.18 916.12 934.06 952 969.95 987.89 1005.83 1023.77 1041.71 1059.65 1077.59 1095.53 1113.47 1131.41 1149.35 1167.29 1185.24 1203.18 1221.12 1239.06 1257 1274.94 1292.88 1310.82 1328.76 1346.7 1364.64 1382.58 1400.52 1418.47">DKETNETITVEIPRLPIKSWYPWDAMSGMMYIISFIFQIYWLLFSMAHANLLDVLFCSWLIFACEQLQHLKAIMKPLMEL</text><text class="sq" transform="translate(224 1359.9) scale(1.0300 1)" x="1.14 19.08 37.03 54.97 72.91 90.85 108.79 126.73 144.67 162.61 180.55 198.49 216.43 234.37 252.31 270.26 288.2 306.14 324.08 342.02 359.96 377.9 395.84 413.78 431.72 449.66 467.6 485.54 503.49 521.43 539.37 557.31 575.25 593.19 611.13 629.07 647.01 664.95 682.89 700.83 718.77 736.72 754.66 772.6 790.54 808.48 826.42 844.36 862.3 880.24 898.18 916.12 934.06 952 969.95 987.89 1005.83 1023.77 1041.71 1059.65 1077.59 1095.53 1113.47 1131.41 1149.35 1167.29 1185.24 1203.18 1221.12 1239.06 1257 1274.94 1292.88 1310.82 1328.76 1346.7 1364.64 1382.58 1400.52 1418.47">REANETYATEGKRPLPFPAYYPFDVDSSPYYWITYLHQVIALFLAALVFVGVDTLFAALVLHLCGQFKILKYRLEKLGNS</text><path class="ds" d="M224.3 1213H1701.32M224.3 1448.9H1701.32"/><rect class="c6" x="225.75" y="1234.39" width="17.36" height="59.91"/><rect class="c3" x="244.21" y="1258.72" width="17.36" height="35.58"/><rect class="c3" x="262.68" y="1242.5" width="17.36" height="51.8"/><rect class="c6" x="281.14" y="1231.95" width="17.36" height="62.35"/><rect class="c9" x="299.61" y="1215.73" width="17.36" height="78.57"/><rect class="c5" x="318.07" y="1240.87" width="17.36" height="53.43"/><rect class="c8" x="336.53" y="1227.9" width="17.36" height="66.4"/><rect class="c2" x="355" y="1266.83" width="17.36" height="27.47"/><rect class="c1" x="373.46" y="1253.04" width="17.36" height="41.26"/><rect class="c3" x="391.93" y="1258.72" width="17.36" height="35.58"/><rect class="c2" x="410.39" y="1248.98" width="17.36" height="45.32"/><rect class="c2" x="428.85" y="1253.04" width="17.36" height="41.26"/><rect class="c9" x="447.32" y="1215.73" width="17.36" height="78.57"/><rect class="c7" x="465.78" y="1227.9" width="17.36" height="66.4"/><rect class="c9" x="484.25" y="1213.3" width="17.36" height="81"/><rect class="c6" x="502.71" y="1250.61" width="17.36" height="43.69"/><rect class="c3" x="521.17" y="1262.77" width="17.36" height="31.53"/><rect class="c5" x="539.64" y="1246.55" width="17.36" height="47.75"/><rect class="c3" x="558.1" y="1250.61" width="17.36" height="43.69"/><rect class="c4" x="576.57" y="1246.55" width="17.36" height="47.75"/><rect class="c9" x="595.03" y="1215.73" width="17.36" height="78.57"/><rect class="c9" x="613.49" y="1213.3" width="17.36" height="81"/><rect class="c3" x="631.96" y="1258.72" width="17.36" height="35.58"/><rect class="c1" x="650.42" y="1253.04" width="17.36" height="41.26"/><rect class="c4" x="668.89" y="1227.9" width="17.36" height="66.4"/><rect class="c1" x="687.35" y="1261.15" width="17.36" height="33.15"/><rect class="c1" x="705.81" y="1261.15" width="17.36" height="33.15"/><rect class="c8" x="724.28" y="1215.73" width="17.36" height="78.57"/><rect class="c1" x="742.74" y="1269.26" width="17.36" height="25.04"/><rect class="c1" x="761.21" y="1279.8" width="17.36" height="14.5"/><rect class="c8" x="779.67" y="1238.44" width="17.36" height="55.86"/><rect class="c1" x="798.13" y="1258.72" width="17.36" height="35.58"/><rect class="c1" x="816.6" y="1269.26" width="17.36" height="25.04"/><rect class="c1" x="835.06" y="1265.2" width="17.36" height="29.1"/><rect class="c5" x="853.53" y="1244.93" width="17.36" height="49.37"/><rect class="c1" x="871.99" y="1269.26" width="17.36" height="25.04"/><rect class="c1" x="890.45" y="1258.72" width="17.36" height="35.58"/><rect class="c9" x="908.92" y="1213.3" width="17.36" height="81"/><rect class="c1" x="927.38" y="1273.31" width="17.36" height="20.99"/><rect class="c8" x="945.85" y="1215.73" width="17.36" height="78.57"/><rect class="c3" x="964.31" y="1253.04" width="17.36" height="41.26"/><rect class="c5" x="982.77" y="1244.93" width="17.36" height="49.37"/><rect class="c1" x="1001.24" y="1246.55" width="17.36" height="47.75"/><rect class="c3" x="1019.7" y="1230.33" width="17.36" height="63.97"/><rect class="c1" x="1038.17" y="1246.55" width="17.36" height="47.75"/><rect class="c4" x="1056.63" y="1240.87" width="17.36" height="53.43"/><rect class="c1" x="1075.09" y="1271.69" width="17.36" height="22.61"/><rect class="c1" x="1093.56" y="1266.83" width="17.36" height="27.47"/><rect class="c2" x="1112.02" y="1250.61" width="17.36" height="43.69"/><rect class="c8" x="1130.49" y="1217.36" width="17.36" height="76.94"/><rect class="c6" x="1148.95" y="1236.01" width="17.36" height="58.29"/><rect class="c1" x="1167.41" y="1262.77" width="17.36" height="31.53"/><rect class="c9" x="1185.88" y="1215.73" width="17.36" height="78.57"/><rect class="c5" x="1204.34" y="1230.33" width="17.36" height="63.97"/><rect class="c6" x="1222.81" y="1250.61" width="17.36" height="43.69"/><rect class="c9" x="1241.27" y="1213.3" width="17.36" height="81"/><rect class="c9" x="1259.73" y="1215.73" width="17.36" height="78.57"/><rect class="c8" x="1278.2" y="1219.79" width="17.36" height="74.51"/><rect class="c6" x="1296.66" y="1221.41" width="17.36" height="72.89"/><rect class="c8" x="1315.13" y="1217.36" width="17.36" height="76.94"/><rect class="c6" x="1333.59" y="1246.55" width="17.36" height="47.75"/><rect class="c7" x="1352.05" y="1223.84" width="17.36" height="70.46"/><rect class="c8" x="1370.52" y="1217.36" width="17.36" height="76.94"/><rect class="c7" x="1388.98" y="1215.73" width="17.36" height="78.57"/><rect class="c9" x="1407.45" y="1215.73" width="17.36" height="78.57"/><rect class="c9" x="1425.91" y="1215.73" width="17.36" height="78.57"/><rect class="c8" x="1444.37" y="1221.41" width="17.36" height="72.89"/><rect class="c7" x="1462.84" y="1223.84" width="17.36" height="70.46"/><rect class="c9" x="1481.3" y="1213.3" width="17.36" height="81"/><rect class="c9" x="1499.77" y="1215.73" width="17.36" height="78.57"/><rect class="c9" x="1518.23" y="1215.73" width="17.36" height="78.57"/><rect class="c6" x="1536.69" y="1271.69" width="17.36" height="22.61"/><rect class="c9" x="1555.16" y="1215.73" width="17.36" height="78.57"/><rect class="c8" x="1573.62" y="1219.79" width="17.36" height="74.51"/><rect class="c7" x="1592.09" y="1227.9" width="17.36" height="66.4"/><rect class="c8" x="1610.55" y="1215.73" width="17.36" height="78.57"/><rect class="c9" x="1629.01" y="1213.3" width="17.36" height="81"/><rect class="c8" x="1647.48" y="1219.79" width="17.36" height="74.51"/><rect class="c9" x="1665.94" y="1215.73" width="17.36" height="78.57"/><rect class="c8" x="1684.41" y="1221.41" width="17.36" height="72.89"/><path d="M224 1295.3H1708.32" style="stroke:#fff;stroke-width:1.2;fill:none"/><rect class="c1" x="225.75" y="1367.25" width="17.36" height="2.65"/><rect class="c5" x="262.68" y="1367.25" width="17.36" height="0.35"/><rect class="c2" x="281.14" y="1367.25" width="17.36" height="23.86"/><rect class="c3" x="410.39" y="1367.25" width="17.36" height="13.26"/><rect class="c3" x="428.85" y="1367.25" width="17.36" height="6.73"/><rect class="c6" x="447.32" y="1367.25" width="17.36" height="25.5"/><rect class="c3" x="465.78" y="1367.25" width="17.36" height="6.73"/><rect class="c6" x="484.25" y="1367.25" width="17.36" height="32.02"/><rect class="c6" x="502.71" y="1367.25" width="17.36" height="23.86"/><rect class="c5" x="521.17" y="1367.25" width="17.36" height="18.97"/><rect class="c5" x="539.64" y="1367.25" width="17.36" height="15.7"/><rect class="c6" x="558.1" y="1367.25" width="17.36" height="9.18"/><rect class="c4" x="576.57" y="1367.25" width="17.36" height="17.34"/><rect class="c6" x="595.03" y="1367.25" width="17.36" height="18.97"/><rect class="c8" x="613.49" y="1367.25" width="17.36" height="49.98"/><rect class="c7" x="631.96" y="1367.25" width="17.36" height="29.58"/><rect class="c6" x="650.42" y="1367.25" width="17.36" height="27.94"/><rect class="c5" x="668.89" y="1367.25" width="17.36" height="15.7"/><rect class="c6" x="687.35" y="1367.25" width="17.36" height="10.81"/><rect class="c6" x="705.81" y="1367.25" width="17.36" height="10.81"/><rect class="c4" x="724.28" y="1367.25" width="17.36" height="13.26"/><rect class="c3" x="742.74" y="1367.25" width="17.36" height="17.34"/><rect class="c4" x="761.21" y="1367.25" width="17.36" height="13.26"/><rect class="c7" x="779.67" y="1367.25" width="17.36" height="46.71"/><rect class="c5" x="798.13" y="1367.25" width="17.36" height="13.26"/><rect class="c4" x="816.6" y="1367.25" width="17.36" height="18.97"/><rect class="c6" x="835.06" y="1367.25" width="17.36" height="13.26"/><rect class="c6" x="853.53" y="1367.25" width="17.36" height="25.5"/><rect class="c2" x="871.99" y="1367.25" width="17.36" height="15.7"/><rect class="c5" x="890.45" y="1367.25" width="17.36" height="15.7"/><rect class="c8" x="908.92" y="1367.25" width="17.36" height="33.66"/><rect class="c3" x="927.38" y="1367.25" width="17.36" height="10.81"/><rect class="c3" x="945.85" y="1367.25" width="17.36" height="15.7"/><rect class="c3" x="964.31" y="1367.25" width="17.36" height="13.26"/><rect class="c5" x="982.77" y="1367.25" width="17.36" height="9.18"/><rect class="c2" x="1001.24" y="1367.25" width="17.36" height="10.81"/><rect class="c2" x="1019.7" y="1367.25" width="17.36" height="9.18"/><rect class="c5" x="1038.17" y="1367.25" width="17.36" height="13.26"/><rect class="c6" x="1056.63" y="1367.25" width="17.36" height="13.26"/><rect class="c3" x="1075.09" y="1367.25" width="17.36" height="13.26"/><rect class="c5" x="1093.56" y="1367.25" width="17.36" height="10.81"/><rect class="c6" x="1112.02" y="1367.25" width="17.36" height="9.18"/><rect class="c5" x="1130.49" y="1367.25" width="17.36" height="15.7"/><rect class="c6" x="1148.95" y="1367.25" width="17.36" height="15.7"/><rect class="c6" x="1167.41" y="1367.25" width="17.36" height="15.7"/><rect class="c9" x="1185.88" y="1367.25" width="17.36" height="56.5"/><rect class="c6" x="1204.34" y="1367.25" width="17.36" height="17.34"/><rect class="c6" x="1222.81" y="1367.25" width="17.36" height="29.58"/><rect class="c7" x="1241.27" y="1367.25" width="17.36" height="29.58"/><rect class="c6" x="1259.73" y="1367.25" width="17.36" height="13.26"/><rect class="c6" x="1278.2" y="1367.25" width="17.36" height="9.18"/><rect class="c6" x="1296.66" y="1367.25" width="17.36" height="18.97"/><rect class="c7" x="1315.13" y="1367.25" width="17.36" height="18.97"/><rect class="c6" x="1333.59" y="1367.25" width="17.36" height="18.97"/><rect class="c8" x="1352.05" y="1367.25" width="17.36" height="33.66"/><rect class="c6" x="1370.52" y="1367.25" width="17.36" height="15.7"/><rect class="c6" x="1388.98" y="1367.25" width="17.36" height="36.1"/><rect class="c6" x="1407.45" y="1367.25" width="17.36" height="29.58"/><rect class="c8" x="1425.91" y="1367.25" width="17.36" height="27.94"/><rect class="c7" x="1444.37" y="1367.25" width="17.36" height="27.94"/><rect class="c6" x="1462.84" y="1367.25" width="17.36" height="10.81"/><rect class="c7" x="1481.3" y="1367.25" width="17.36" height="33.66"/><rect class="c8" x="1499.77" y="1367.25" width="17.36" height="48.34"/><rect class="c6" x="1518.23" y="1367.25" width="17.36" height="10.81"/><rect class="c4" x="1536.69" y="1367.25" width="17.36" height="10.81"/><rect class="c7" x="1555.16" y="1367.25" width="17.36" height="37.74"/><rect class="c7" x="1573.62" y="1367.25" width="17.36" height="36.1"/><rect class="c5" x="1592.09" y="1367.25" width="17.36" height="10.81"/><rect class="c5" x="1610.55" y="1367.25" width="17.36" height="10.81"/><rect class="c6" x="1629.01" y="1367.25" width="17.36" height="33.66"/><rect class="c4" x="1647.48" y="1367.25" width="17.36" height="9.18"/><rect class="c3" x="1665.94" y="1367.25" width="17.36" height="6.73"/><rect class="c1" x="1684.41" y="1367.25" width="17.36" height="6.73"/><path class="ax" d="M1726.72 1213.3H1718.72V1294.85H1726.72M1718.72 1254.07H1726.72"/><path class="ax" d="M1726.72 1366.7H1718.72V1448.9H1726.72M1718.72 1407.8H1726.72"/></g>
<g><text class="tk" x="399.55" y="1490.9">250</text><path class="tl" d="M399.55 1500V1514"/><text class="tk" x="584.34" y="1490.9">260</text><path class="tl" d="M584.34 1500V1514"/><text class="tk" x="769.13" y="1490.9">270</text><path class="tl" d="M769.13 1500V1514"/><text class="tk" x="953.92" y="1490.9">280</text><path class="tl" d="M953.92 1500V1514"/><text class="tk" x="1138.71" y="1490.9">290</text><path class="tl" d="M1138.71 1500V1514"/><text class="tk" x="1323.5" y="1490.9">300</text><path class="tl" d="M1323.5 1500V1514"/><text class="tk" x="1508.29" y="1490.9">310</text><path class="tl" d="M1508.29 1500V1514"/><text class="tk" x="1693.08" y="1490.9">320</text><path class="tl" d="M1693.08 1500V1514"/><path class="bx" d="M1702.32 1514.25H1611.17V1548.6H1702.32"/><text class="sq" transform="translate(224 1541.7) scale(1.0300 1)" x="1.14 19.08 37.03">SAT</text><text class="sq" transform="translate(279.44 1541.7) scale(1.0300 1)" x="1.14 19.08 37.03 54.97 72.91 90.85 108.79 126.73 144.67 162.61 180.55 198.49 216.43 234.37 252.31 270.26 288.2 306.14 324.08 342.02 359.96 377.9 395.84 413.78 431.72 449.66 467.6 485.54 503.49 521.43 539.37 557.31 575.25 593.19 611.13 629.07 647.01 664.95 682.89 700.83 718.77 736.72 754.66 772.6 790.54 808.48 826.42 844.36 862.3 880.24 898.18 916.12 934.06 952 969.95 987.89 1005.83 1023.77 1041.71 1059.65 1077.59 1095.53 1113.47 1131.41 1149.35 1167.29 1185.24 1203.18 1221.12" style="fill:#808080;stroke:#808080">LDTVVPNSGELFKAGSADHLRESQGVQPSGNGDNVLDVDLRGIYSNRQDFTATFRPTAGTTFNGGVGPN</text><text class="sq" transform="translate(1554.49 1541.7) scale(1.0300 1)" x="1.14 19.08 37.03 54.97 72.91 90.85 108.79 126.73">GLTKKQEM</text><text class="sq" transform="translate(224 1679.8) scale(1.0300 1)" x="1.14 19.08 37.03 54.97 72.91 90.85 108.79 126.73 144.67 162.61 180.55 198.49 216.43 234.37 252.31 270.26 288.2 306.14 324.08 342.02 359.96 377.9 395.84 413.78 431.72 449.66 467.6 485.54 503.49 521.43 539.37 557.31 575.25 593.19 611.13 629.07 647.01 664.95 682.89 700.83 718.77 736.72 754.66 772.6 790.54 808.48 826.42 844.36 862.3 880.24 898.18 916.12 934.06 952 969.95 987.89 1005.83 1023.77 1041.71 1059.65 1077.59 1095.53 1113.47 1131.41 1149.35 1167.29 1185.24 1203.18 1221.12 1239.06 1257 1274.94 1292.88 1310.82 1328.76 1346.7 1364.64 1382.58 1400.52 1418.47">SASLDTYRPNSAELFRAGSASELIENEGNQPAAEKDPDLDLDLRGIYSTRQDFGATFRPGALQTFNGGVNPNGLTKKQEM</text><text class="sq" transform="translate(224 1716.9) scale(1.0300 1)" x="1.14 19.08 37.03 54.97 72.91 90.85 108.79 126.73 144.67 162.61 180.55 198.49 216.43 234.37 252.31 270.26 288.2 306.14 324.08 342.02 359.96 377.9 395.84 413.78 431.72 449.66 467.6 485.54 503.49 521.43 539.37 557.31 575.25 593.19 611.13 629.07 647.01 664.95 682.89 700.83 718.77 736.72 754.66 772.6 790.54 808.48 826.42 844.36 862.3 880.24 898.18 916.12 934.06 952 969.95 987.89 1005.83 1023.77 1041.71 1059.65 1077.59 1095.53 1113.47 1131.41 1149.35 1167.29 1185.24 1203.18 1221.12 1239.06 1257 1274.94 1292.88 1310.82 1328.76 1346.7 1364.64 1382.58 1400.52 1418.47">DNDEKEELKADDDEDKTEYED−−−−−−−−−−−−−−−−−−−−−−−−−−−−−−−−−−−−−−−−−−−−−−−−−−−−−−−RDSD</text><path class="ds" d="M224.3 1570H1701.32M224.3 1805.9H1701.32"/><path d="M538.14 1723.1H1702.32" stroke="#e4e4e4" stroke-width="1" fill="none"/><rect class="c9" x="225.75" y="1572.73" width="17.36" height="78.57"/><rect class="c8" x="244.21" y="1574.36" width="17.36" height="76.94"/><rect class="c4" x="262.68" y="1610.04" width="17.36" height="41.26"/><rect class="c7" x="281.14" y="1574.36" width="17.36" height="76.94"/><rect class="c9" x="299.61" y="1572.73" width="17.36" height="78.57"/><rect class="c8" x="318.07" y="1576.79" width="17.36" height="74.51"/><rect class="c5" x="336.53" y="1603.55" width="17.36" height="47.75"/><rect class="c7" x="355" y="1610.04" width="17.36" height="41.26"/><rect class="c8" x="373.46" y="1574.36" width="17.36" height="76.94"/><rect class="c7" x="391.93" y="1584.9" width="17.36" height="66.4"/><rect class="c7" x="410.39" y="1595.44" width="17.36" height="55.86"/><rect class="c5" x="428.85" y="1603.55" width="17.36" height="47.75"/><rect class="c5" x="447.32" y="1610.04" width="17.36" height="41.26"/><rect class="c8" x="465.78" y="1574.36" width="17.36" height="76.94"/><rect class="c8" x="484.25" y="1572.73" width="17.36" height="78.57"/><rect class="c7" x="502.71" y="1601.93" width="17.36" height="49.37"/><rect class="c3" x="521.17" y="1603.55" width="17.36" height="47.75"/><rect class="c1" x="539.64" y="1630.31" width="17.36" height="20.99"/><rect class="c8" x="558.1" y="1578.41" width="17.36" height="72.89"/><rect class="c4" x="576.57" y="1599.5" width="17.36" height="51.8"/><rect class="c3" x="595.03" y="1614.09" width="17.36" height="37.21"/><rect class="c1" x="613.49" y="1628.69" width="17.36" height="22.61"/><rect class="c1" x="631.96" y="1605.98" width="17.36" height="45.32"/><rect class="c3" x="650.42" y="1623.83" width="17.36" height="27.47"/><rect class="c1" x="668.89" y="1634.37" width="17.36" height="16.93"/><rect class="c2" x="687.35" y="1622.2" width="17.36" height="29.1"/><rect class="c1" x="705.81" y="1623.83" width="17.36" height="27.47"/><rect class="c1" x="761.21" y="1638.42" width="17.36" height="12.88"/><rect class="c1" x="779.67" y="1631.94" width="17.36" height="19.36"/><rect class="c2" x="835.06" y="1607.61" width="17.36" height="43.69"/><rect class="c1" x="853.53" y="1610.04" width="17.36" height="41.26"/><rect class="c1" x="871.99" y="1623.83" width="17.36" height="27.47"/><rect class="c1" x="890.45" y="1611.66" width="17.36" height="39.64"/><rect class="c1" x="908.92" y="1631.94" width="17.36" height="19.36"/><rect class="c1" x="927.38" y="1631.94" width="17.36" height="19.36"/><rect class="c3" x="945.85" y="1583.28" width="17.36" height="68.02"/><rect class="c1" x="964.31" y="1622.2" width="17.36" height="29.1"/><rect class="c5" x="982.77" y="1580.84" width="17.36" height="70.46"/><rect class="c3" x="1001.24" y="1619.77" width="17.36" height="31.53"/><rect class="c5" x="1019.7" y="1605.98" width="17.36" height="45.32"/><rect class="c2" x="1038.17" y="1584.9" width="17.36" height="66.4"/><rect class="c4" x="1056.63" y="1588.95" width="17.36" height="62.35"/><rect class="c8" x="1075.09" y="1572.73" width="17.36" height="78.57"/><rect class="c5" x="1093.56" y="1583.28" width="17.36" height="68.02"/><rect class="c5" x="1112.02" y="1622.2" width="17.36" height="29.1"/><rect class="c6" x="1130.49" y="1623.83" width="17.36" height="27.47"/><rect class="c6" x="1148.95" y="1610.04" width="17.36" height="41.26"/><rect class="c7" x="1167.41" y="1583.28" width="17.36" height="68.02"/><rect class="c4" x="1185.88" y="1607.61" width="17.36" height="43.69"/><rect class="c7" x="1204.34" y="1601.93" width="17.36" height="49.37"/><rect class="c3" x="1222.81" y="1607.61" width="17.36" height="43.69"/><rect class="c4" x="1241.27" y="1611.66" width="17.36" height="39.64"/><rect class="c4" x="1259.73" y="1597.87" width="17.36" height="53.43"/><rect class="c7" x="1278.2" y="1578.41" width="17.36" height="72.89"/><rect class="c2" x="1296.66" y="1607.61" width="17.36" height="43.69"/><rect class="c2" x="1315.13" y="1626.26" width="17.36" height="25.04"/><rect class="c3" x="1333.59" y="1623.83" width="17.36" height="27.47"/><rect class="c4" x="1352.05" y="1601.93" width="17.36" height="49.37"/><rect class="c4" x="1370.52" y="1603.55" width="17.36" height="47.75"/><rect class="c1" x="1388.98" y="1611.66" width="17.36" height="39.64"/><rect class="c5" x="1407.45" y="1580.84" width="17.36" height="70.46"/><rect class="c6" x="1425.91" y="1587.33" width="17.36" height="63.97"/><rect class="c1" x="1444.37" y="1597.87" width="17.36" height="53.43"/><rect class="c1" x="1462.84" y="1615.72" width="17.36" height="35.58"/><rect class="c1" x="1481.3" y="1623.83" width="17.36" height="27.47"/><rect class="c8" x="1499.77" y="1610.04" width="17.36" height="41.26"/><rect class="c8" x="1518.23" y="1572.73" width="17.36" height="78.57"/><rect class="c9" x="1536.69" y="1572.73" width="17.36" height="78.57"/><rect class="c5" x="1555.16" y="1576.79" width="17.36" height="74.51"/><rect class="c9" x="1573.62" y="1572.73" width="17.36" height="78.57"/><rect class="c6" x="1592.09" y="1578.41" width="17.36" height="72.89"/><rect class="c6" x="1610.55" y="1601.93" width="17.36" height="49.37"/><rect class="c8" x="1629.01" y="1574.36" width="17.36" height="76.94"/><rect class="c8" x="1647.48" y="1574.36" width="17.36" height="76.94"/><rect class="c8" x="1665.94" y="1572.73" width="17.36" height="78.57"/><rect class="c5" x="1684.41" y="1591.39" width="17.36" height="59.91"/><path d="M224 1652.3H1708.32" style="stroke:#fff;stroke-width:1.2;fill:none"/><rect class="c1" x="225.75" y="1724.25" width="17.36" height="7.54"/><rect class="c2" x="244.21" y="1724.25" width="17.36" height="12.44"/><rect class="c1" x="262.68" y="1724.25" width="17.36" height="7.54"/><rect class="c1" x="281.14" y="1724.25" width="17.36" height="5.91"/><rect class="c1" x="299.61" y="1724.25" width="17.36" height="7.54"/><rect class="c1" x="318.07" y="1724.25" width="17.36" height="7.54"/><rect class="c2" x="336.53" y="1724.25" width="17.36" height="5.91"/><rect class="c1" x="355" y="1724.25" width="17.36" height="5.91"/><rect class="c2" x="373.46" y="1724.25" width="17.36" height="5.91"/><rect class="c1" x="391.93" y="1724.25" width="17.36" height="3.46"/><rect class="c5" x="410.39" y="1724.25" width="17.36" height="0.35"/><rect class="c1" x="428.85" y="1724.25" width="17.36" height="2.65"/><rect class="c5" x="447.32" y="1724.25" width="17.36" height="0.35"/><rect class="c1" x="465.78" y="1724.25" width="17.36" height="2.65"/><rect class="c5" x="484.25" y="1724.25" width="17.36" height="0.35"/><rect class="c5" x="502.71" y="1724.25" width="17.36" height="0.35"/><rect class="c5" x="521.17" y="1724.25" width="17.36" height="0.35"/><path class="ax" d="M1726.72 1570.3H1718.72V1651.85H1726.72M1718.72 1611.07H1726.72"/><path class="ax" d="M1726.72 1723.7H1718.72V1805.9H1726.72M1718.72 1764.8H1726.72"/></g>
<g><text class="tk" x="399.55" y="1847.9">330</text><path class="tl" d="M399.55 1857V1871"/><text class="tk" x="584.34" y="1847.9">340</text><path class="tl" d="M584.34 1857V1871"/><text class="tk" x="769.13" y="1847.9">350</text><path class="tl" d="M769.13 1857V1871"/><text class="tk" x="953.92" y="1847.9">360</text><path class="tl" d="M953.92 1857V1871"/><text class="tk" x="1138.71" y="1847.9">370</text><path class="tl" d="M1138.71 1857V1871"/><text class="tk" x="1323.5" y="1847.9">380</text><path class="tl" d="M1323.5 1857V1871"/><text class="tk" x="1508.29" y="1847.9">390</text><path class="tl" d="M1508.29 1857V1871"/><text class="tk" x="1693.08" y="1847.9">400</text><path class="tl" d="M1693.08 1857V1871"/><text class="hl" x="687.1" y="1861.5">S5</text><text class="hl" x="1462.4" y="1861.5">S6</text><path class="bx" d="M224.3 1871.25H1148.1V1905.6H224.3"/><path class="bx" d="M1702.32 1871.25H1223.12V1905.6H1702.32"/><text class="sq" transform="translate(224 1898.7) scale(1.0300 1)" x="1.14 19.08 37.03 54.97 72.91 90.85 108.79 126.73 144.67 162.61 180.55 198.49 216.43 234.37 252.31 270.26 288.2 306.14 324.08 342.02 359.96 377.9 395.84 413.78 431.72 449.66 467.6 485.54 503.49 521.43 539.37 557.31 575.25 593.19 611.13 629.07 647.01 664.95 682.89 700.83 718.77 736.72 754.66 772.6 790.54 808.48 826.42 844.36 862.3 880.24 898.18 916.12 934.06 952 969.95 987.89 1005.83 1023.77 1041.71 1059.65 1077.59 1095.53 1113.47 1131.41 1149.35 1167.29 1185.24 1203.18 1221.12 1239.06 1257 1274.94 1292.88 1310.82 1328.76 1346.7 1364.64 1382.58 1400.52 1418.47">LVRSAIKYWVERHKHVVRLVTAVGDAYGVALLLHMLTTTITLTLLAYQATKVNGVNVYAATVIGYLLYTLGQVFLFCIFG</text><text class="sq" transform="translate(224 2036.8) scale(1.0300 1)" x="1.14 19.08 37.03 54.97 72.91 90.85 108.79 126.73 144.67 162.61 180.55 198.49 216.43 234.37 252.31 270.26 288.2 306.14 324.08 342.02 359.96 377.9 395.84 413.78 431.72 449.66 467.6 485.54 503.49 521.43 539.37 557.31 575.25 593.19 611.13 629.07 647.01 664.95 682.89 700.83 718.77 736.72 754.66 772.6 790.54 808.48 826.42 844.36 862.3 880.24 898.18 916.12 934.06 952 969.95 987.89 1005.83 1023.77 1041.71 1059.65 1077.59 1095.53 1113.47 1131.41 1149.35 1167.29 1185.24 1203.18 1221.12 1239.06 1257 1274.94 1292.88 1310.82 1328.76 1346.7 1364.64 1382.58 1400.52 1418.47">LVRSAIKYWVERHKHVVRLVAAIGDTYGTALLLHMLTSTITLTLLAYQATKINGVNVYAFSVIGYLLYTLGQVFHFCIFG</text><text class="sq" transform="translate(224 2073.9) scale(1.0300 1)" x="1.14 19.08 37.03 54.97 72.91 90.85 108.79 126.73 144.67 162.61 180.55 198.49 216.43 234.37 252.31 270.26 288.2 306.14 324.08 342.02 359.96 377.9 395.84 413.78 431.72 449.66 467.6 485.54 503.49 521.43 539.37 557.31 575.25 593.19 611.13 629.07 647.01 664.95 682.89 700.83 718.77 736.72 754.66 772.6 790.54 808.48 826.42 844.36 862.3 880.24 898.18 916.12 934.06 952 969.95 987.89 1005.83 1023.77 1041.71 1059.65 1077.59 1095.53 1113.47 1131.41 1149.35 1167.29 1185.24 1203.18 1221.12 1239.06 1257 1274.94 1292.88 1310.82 1328.76 1346.7 1364.64 1382.58 1400.52 1418.47">AFREELKECIRRHQEILRFAELIEDIFSLIFLVQFLLSSLILCLLGFQLLINNGNSLELIRYLLYLLAVLLQLFIYCWFG</text><path class="ds" d="M227.5 1927H1704.52M227.5 2162.9H1704.52"/><rect class="c7" x="228.95" y="1962.17" width="17.36" height="46.13"/><rect class="c8" x="247.41" y="1948.39" width="17.36" height="59.91"/><rect class="c9" x="265.88" y="1929.73" width="17.36" height="78.57"/><rect class="c9" x="284.34" y="1929.73" width="17.36" height="78.57"/><rect class="c9" x="302.81" y="1929.73" width="17.36" height="78.57"/><rect class="c9" x="321.27" y="1929.73" width="17.36" height="78.57"/><rect class="c9" x="339.73" y="1929.73" width="17.36" height="78.57"/><rect class="c9" x="358.2" y="1927.3" width="17.36" height="81"/><rect class="c9" x="376.66" y="1929.73" width="17.36" height="78.57"/><rect class="c9" x="395.13" y="1929.73" width="17.36" height="78.57"/><rect class="c9" x="413.59" y="1929.73" width="17.36" height="78.57"/><rect class="c9" x="432.05" y="1929.73" width="17.36" height="78.57"/><rect class="c9" x="450.52" y="1927.3" width="17.36" height="81"/><rect class="c9" x="468.98" y="1929.73" width="17.36" height="78.57"/><rect class="c9" x="487.45" y="1929.73" width="17.36" height="78.57"/><rect class="c7" x="505.91" y="1945.95" width="17.36" height="62.35"/><rect class="c9" x="524.37" y="1929.73" width="17.36" height="78.57"/><rect class="c8" x="542.84" y="1931.36" width="17.36" height="76.94"/><rect class="c8" x="561.3" y="1935.41" width="17.36" height="72.89"/><rect class="c9" x="579.77" y="1929.73" width="17.36" height="78.57"/><rect class="c4" x="598.23" y="1976.77" width="17.36" height="31.53"/><rect class="c6" x="616.69" y="1960.55" width="17.36" height="47.75"/><rect class="c7" x="635.16" y="1941.9" width="17.36" height="66.4"/><rect class="c7" x="653.62" y="1931.36" width="17.36" height="76.94"/><rect class="c8" x="672.09" y="1933.79" width="17.36" height="74.51"/><rect class="c7" x="690.55" y="1962.98" width="17.36" height="45.32"/><rect class="c9" x="709.01" y="1929.73" width="17.36" height="78.57"/><rect class="c9" x="727.48" y="1929.73" width="17.36" height="78.57"/><rect class="c1" x="745.94" y="1991.37" width="17.36" height="16.93"/><rect class="c9" x="764.41" y="1929.73" width="17.36" height="78.57"/><rect class="c9" x="782.87" y="1929.73" width="17.36" height="78.57"/><rect class="c9" x="801.33" y="1927.3" width="17.36" height="81"/><rect class="c5" x="819.8" y="1954.87" width="17.36" height="53.43"/><rect class="c9" x="838.26" y="1929.73" width="17.36" height="78.57"/><rect class="c9" x="856.73" y="1929.73" width="17.36" height="78.57"/><rect class="c9" x="875.19" y="1929.73" width="17.36" height="78.57"/><rect class="c7" x="893.65" y="1962.98" width="17.36" height="45.32"/><rect class="c3" x="912.12" y="1956.5" width="17.36" height="51.8"/><rect class="c9" x="930.58" y="1929.73" width="17.36" height="78.57"/><rect class="c5" x="949.05" y="1940.28" width="17.36" height="68.02"/><rect class="c6" x="967.51" y="1962.98" width="17.36" height="45.32"/><rect class="c9" x="985.97" y="1927.3" width="17.36" height="81"/><rect class="c9" x="1004.44" y="1929.73" width="17.36" height="78.57"/><rect class="c9" x="1022.9" y="1929.73" width="17.36" height="78.57"/><rect class="c9" x="1041.37" y="1927.3" width="17.36" height="81"/><rect class="c9" x="1059.83" y="1927.3" width="17.36" height="81"/><rect class="c9" x="1078.29" y="1929.73" width="17.36" height="78.57"/><rect class="c9" x="1096.76" y="1931.36" width="17.36" height="76.94"/><rect class="c9" x="1115.22" y="1927.3" width="17.36" height="81"/><rect class="c9" x="1133.69" y="1929.73" width="17.36" height="78.57"/><rect class="c8" x="1152.15" y="1931.36" width="17.36" height="76.94"/><rect class="c9" x="1170.61" y="1945.95" width="17.36" height="62.35"/><rect class="c1" x="1189.08" y="1972.72" width="17.36" height="35.58"/><rect class="c2" x="1207.54" y="1940.28" width="17.36" height="68.02"/><rect class="c2" x="1226.01" y="1960.55" width="17.36" height="47.75"/><rect class="c7" x="1244.47" y="1944.33" width="17.36" height="63.97"/><rect class="c6" x="1262.93" y="1941.9" width="17.36" height="66.4"/><rect class="c8" x="1281.4" y="1931.36" width="17.36" height="76.94"/><rect class="c7" x="1299.86" y="1940.28" width="17.36" height="68.02"/><rect class="c5" x="1318.33" y="1972.72" width="17.36" height="35.58"/><rect class="c5" x="1336.79" y="1971.09" width="17.36" height="37.21"/><rect class="c6" x="1355.25" y="1968.66" width="17.36" height="39.64"/><rect class="c3" x="1373.72" y="1950.01" width="17.36" height="58.29"/><rect class="c8" x="1392.18" y="1929.73" width="17.36" height="78.57"/><rect class="c9" x="1410.65" y="1929.73" width="17.36" height="78.57"/><rect class="c7" x="1429.11" y="1937.84" width="17.36" height="70.46"/><rect class="c1" x="1447.57" y="1985.69" width="17.36" height="22.61"/><rect class="c8" x="1466.04" y="1929.73" width="17.36" height="78.57"/><rect class="c5" x="1484.5" y="1972.72" width="17.36" height="35.58"/><rect class="c8" x="1502.97" y="1937.84" width="17.36" height="70.46"/><rect class="c4" x="1521.43" y="1964.61" width="17.36" height="43.69"/><rect class="c9" x="1539.89" y="1929.73" width="17.36" height="78.57"/><rect class="c9" x="1558.36" y="1931.36" width="17.36" height="76.94"/><rect class="c9" x="1576.82" y="1929.73" width="17.36" height="78.57"/><rect class="c4" x="1595.29" y="1967.04" width="17.36" height="41.26"/><rect class="c9" x="1613.75" y="1933.79" width="17.36" height="74.51"/><rect class="c9" x="1632.21" y="1929.73" width="17.36" height="78.57"/><rect class="c8" x="1650.68" y="1931.36" width="17.36" height="76.94"/><rect class="c7" x="1669.14" y="1935.41" width="17.36" height="72.89"/><rect class="c9" x="1687.61" y="1927.3" width="17.36" height="81"/><path d="M224 2009.3H1708.32" style="stroke:#fff;stroke-width:1.2;fill:none"/><rect class="c5" x="247.41" y="2081.25" width="17.36" height="9.18"/><rect class="c4" x="265.88" y="2081.25" width="17.36" height="15.7"/><rect class="c3" x="284.34" y="2081.25" width="17.36" height="10.81"/><rect class="c4" x="302.81" y="2081.25" width="17.36" height="13.26"/><rect class="c8" x="321.27" y="2081.25" width="17.36" height="49.98"/><rect class="c5" x="339.73" y="2081.25" width="17.36" height="13.26"/><rect class="c4" x="358.2" y="2081.25" width="17.36" height="13.26"/><rect class="c7" x="376.66" y="2081.25" width="17.36" height="21.42"/><rect class="c8" x="395.13" y="2081.25" width="17.36" height="41.82"/><rect class="c4" x="413.59" y="2081.25" width="17.36" height="13.26"/><rect class="c7" x="432.05" y="2081.25" width="17.36" height="18.97"/><rect class="c9" x="450.52" y="2081.25" width="17.36" height="76.9"/><rect class="c7" x="468.98" y="2081.25" width="17.36" height="27.94"/><rect class="c4" x="487.45" y="2081.25" width="17.36" height="9.18"/><rect class="c8" x="505.91" y="2081.25" width="17.36" height="25.5"/><rect class="c7" x="524.37" y="2081.25" width="17.36" height="32.02"/><rect class="c5" x="542.84" y="2081.25" width="17.36" height="18.97"/><rect class="c6" x="561.3" y="2081.25" width="17.36" height="25.5"/><rect class="c6" x="579.77" y="2081.25" width="17.36" height="17.34"/><rect class="c4" x="598.23" y="2081.25" width="17.36" height="13.26"/><rect class="c5" x="616.69" y="2081.25" width="17.36" height="13.26"/><rect class="c7" x="635.16" y="2081.25" width="17.36" height="29.58"/><rect class="c8" x="653.62" y="2081.25" width="17.36" height="36.1"/><rect class="c5" x="672.09" y="2081.25" width="17.36" height="10.81"/><rect class="c6" x="690.55" y="2081.25" width="17.36" height="17.34"/><rect class="c8" x="709.01" y="2081.25" width="17.36" height="37.74"/><rect class="c8" x="727.48" y="2081.25" width="17.36" height="25.5"/><rect class="c3" x="745.94" y="2081.25" width="17.36" height="9.18"/><rect class="c6" x="764.41" y="2081.25" width="17.36" height="18.97"/><rect class="c7" x="782.87" y="2081.25" width="17.36" height="21.42"/><rect class="c7" x="801.33" y="2081.25" width="17.36" height="40.18"/><rect class="c6" x="819.8" y="2081.25" width="17.36" height="17.34"/><rect class="c9" x="838.26" y="2081.25" width="17.36" height="33.66"/><rect class="c7" x="856.73" y="2081.25" width="17.36" height="18.97"/><rect class="c4" x="875.19" y="2081.25" width="17.36" height="18.97"/><rect class="c5" x="893.65" y="2081.25" width="17.36" height="13.26"/><rect class="c7" x="912.12" y="2081.25" width="17.36" height="25.5"/><rect class="c7" x="930.58" y="2081.25" width="17.36" height="13.26"/><rect class="c4" x="949.05" y="2081.25" width="17.36" height="18.97"/><rect class="c6" x="967.51" y="2081.25" width="17.36" height="10.81"/><rect class="c7" x="985.97" y="2081.25" width="17.36" height="29.58"/><rect class="c8" x="1004.44" y="2081.25" width="17.36" height="46.71"/><rect class="c6" x="1022.9" y="2081.25" width="17.36" height="17.34"/><rect class="c7" x="1041.37" y="2081.25" width="17.36" height="13.26"/><rect class="c7" x="1059.83" y="2081.25" width="17.36" height="21.42"/><rect class="c7" x="1078.29" y="2081.25" width="17.36" height="27.94"/><rect class="c7" x="1096.76" y="2081.25" width="17.36" height="17.34"/><rect class="c6" x="1115.22" y="2081.25" width="17.36" height="25.5"/><rect class="c6" x="1133.69" y="2081.25" width="17.36" height="17.34"/><rect class="c6" x="1152.15" y="2081.25" width="17.36" height="9.18"/><rect class="c5" x="1170.61" y="2081.25" width="17.36" height="6.73"/><rect class="c4" x="1189.08" y="2081.25" width="17.36" height="6.73"/><rect class="c2" x="1207.54" y="2081.25" width="17.36" height="15.7"/><rect class="c5" x="1226.01" y="2081.25" width="17.36" height="9.18"/><rect class="c4" x="1244.47" y="2081.25" width="17.36" height="9.18"/><rect class="c3" x="1262.93" y="2081.25" width="17.36" height="10.81"/><rect class="c5" x="1281.4" y="2081.25" width="17.36" height="13.26"/><rect class="c5" x="1299.86" y="2081.25" width="17.36" height="15.7"/><rect class="c5" x="1318.33" y="2081.25" width="17.36" height="23.86"/><rect class="c7" x="1336.79" y="2081.25" width="17.36" height="13.26"/><rect class="c6" x="1355.25" y="2081.25" width="17.36" height="15.7"/><rect class="c2" x="1373.72" y="2081.25" width="17.36" height="10.81"/><rect class="c4" x="1392.18" y="2081.25" width="17.36" height="15.7"/><rect class="c7" x="1410.65" y="2081.25" width="17.36" height="18.97"/><rect class="c6" x="1429.11" y="2081.25" width="17.36" height="27.94"/><rect class="c2" x="1447.57" y="2081.25" width="17.36" height="15.7"/><rect class="c6" x="1466.04" y="2081.25" width="17.36" height="10.81"/><rect class="c7" x="1484.5" y="2081.25" width="17.36" height="9.18"/><rect class="c6" x="1502.97" y="2081.25" width="17.36" height="23.86"/><rect class="c5" x="1521.43" y="2081.25" width="17.36" height="15.7"/><rect class="c9" x="1539.89" y="2081.25" width="17.36" height="36.1"/><rect class="c8" x="1558.36" y="2081.25" width="17.36" height="25.5"/><rect class="c8" x="1576.82" y="2081.25" width="17.36" height="54.87"/><rect class="c6" x="1595.29" y="2081.25" width="17.36" height="13.26"/><rect class="c7" x="1613.75" y="2081.25" width="17.36" height="32.02"/><rect class="c9" x="1632.21" y="2081.25" width="17.36" height="49.98"/><rect class="c6" x="1650.68" y="2081.25" width="17.36" height="25.5"/><rect class="c7" x="1669.14" y="2081.25" width="17.36" height="13.26"/><rect class="c9" x="1687.61" y="2081.25" width="17.36" height="54.87"/><path class="ax" d="M1729.92 1927.3H1721.92V2008.85H1729.92M1721.92 1968.07H1729.92"/><path class="ax" d="M1729.92 2080.7H1721.92V2162.9H1729.92M1721.92 2121.8H1729.92"/></g>
<g><text class="tk" x="399.55" y="2204.9">410</text><path class="tl" d="M399.55 2214V2228"/><text class="tk" x="584.34" y="2204.9">420</text><path class="tl" d="M584.34 2214V2228"/><text class="tk" x="769.13" y="2204.9">430</text><path class="tl" d="M769.13 2214V2228"/><text class="tk" x="953.92" y="2204.9">440</text><path class="tl" d="M953.92 2214V2228"/><text class="tk" x="1138.71" y="2204.9">450</text><path class="tl" d="M1138.71 2214V2228"/><text class="tk" x="1323.5" y="2204.9">460</text><path class="tl" d="M1323.5 2214V2228"/><text class="tk" x="1508.29" y="2204.9">470</text><path class="tl" d="M1508.29 2214V2228"/><text class="hl" x="338" y="2218.5">S6</text><text class="hl" x="812.7" y="2218.5">S7a</text><text class="hl" x="1379.2" y="2218.5">S7b</text><path class="bx" d="M224.3 2228.25H519.81V2262.6H224.3"/><path class="bx" d="M650.27 2228.25H926.35V2262.6H650.27Z"/><path class="bx" d="M1186.16 2228.25H1573.12V2262.6H1186.16Z"/><text class="sq" transform="translate(224 2255.7) scale(1.0300 1)" x="1.14 19.08 37.03 54.97 72.91 90.85 108.79 126.73 144.67 162.61 180.55 198.49 216.43 234.37 252.31 270.26 288.2 306.14 324.08 342.02 359.96 377.9 395.84 413.78 431.72 449.66 467.6 485.54 503.49 521.43 539.37 557.31 575.25 593.19 611.13 629.07 647.01 664.95 682.89 700.83 718.77 736.72 754.66 772.6 790.54 808.48 826.42 844.36 862.3 880.24 898.18 916.12 934.06 952 969.95 987.89 1005.83 1023.77 1041.71 1059.65 1077.59 1095.53 1113.47 1131.41 1149.35 1167.29 1185.24 1203.18 1221.12 1239.06 1257 1274.94 1292.88 1310.82">NRLIEESSSVMEAAYSCHWYDGSEEAKTFVQIVCQQCQKAMSISGAKFFTVSLDLFASVLGAVVTYFMVLVQLK</text><text class="sq" transform="translate(224 2393.8) scale(1.0300 1)" x="1.14 19.08 37.03 54.97 72.91 90.85 108.79 126.73 144.67 162.61 180.55 198.49 216.43 234.37 252.31 270.26 288.2 306.14 324.08 342.02 359.96 377.9 395.84 413.78 431.72 449.66 467.6 485.54 503.49 521.43 539.37 557.31 575.25 593.19 611.13 629.07 647.01 664.95 682.89 700.83 718.77 736.72 754.66 772.6 790.54 808.48 826.42 844.36 862.3 880.24 898.18 916.12 934.06 952 969.95 987.89 1005.83 1023.77 1041.71 1059.65 1077.59 1095.53 1113.47 1131.41 1149.35 1167.29 1185.24 1203.18 1221.12 1239.06 1257 1274.94 1292.88 1310.82">NRLIEESSSVMEAAYSCHWYDGSEEAKTFVQIVCQQCQKAMSISGAKFFTVSLDLFASVLGAVVTYFMVLVQLK</text><text class="sq" transform="translate(224 2430.9) scale(1.0300 1)" x="1.14 19.08 37.03 54.97 72.91 90.85 108.79 126.73 144.67 162.61 180.55 198.49 216.43 234.37 252.31 270.26 288.2 306.14 324.08 342.02 359.96 377.9 395.84 413.78 431.72 449.66 467.6 485.54 503.49 521.43 539.37 557.31 575.25 593.19 611.13 629.07 647.01 664.95 682.89 700.83 718.77 736.72 754.66 772.6 790.54 808.48 826.42 844.36 862.3 880.24 898.18 916.12 934.06 952 969.95 987.89 1005.83 1023.77 1041.71 1059.65 1077.59 1095.53 1113.47 1131.41 1149.35 1167.29 1185.24 1203.18 1221.12 1239.06 1257 1274.94 1292.88 1310.82">EELIDESEEIADAAYNSDWYDLSPKIRKLLLFIMLRAQKPLQLTAGGFFPLSLETFTSILKTSYSYFTVLRSVR</text><path class="ds" d="M224.3 2284H1590.45M224.3 2519.9H1590.45"/><rect class="c9" x="225.75" y="2284.3" width="17.36" height="81"/><rect class="c7" x="244.21" y="2295.65" width="17.36" height="69.65"/><rect class="c9" x="262.68" y="2286.73" width="17.36" height="78.57"/><rect class="c9" x="281.14" y="2286.73" width="17.36" height="78.57"/><rect class="c9" x="299.61" y="2286.73" width="17.36" height="78.57"/><rect class="c9" x="318.07" y="2286.73" width="17.36" height="78.57"/><rect class="c9" x="336.53" y="2284.3" width="17.36" height="81"/><rect class="c9" x="355" y="2294.84" width="17.36" height="70.46"/><rect class="c9" x="373.46" y="2286.73" width="17.36" height="78.57"/><rect class="c9" x="391.93" y="2286.73" width="17.36" height="78.57"/><rect class="c9" x="410.39" y="2286.73" width="17.36" height="78.57"/><rect class="c9" x="428.85" y="2286.73" width="17.36" height="78.57"/><rect class="c9" x="447.32" y="2286.73" width="17.36" height="78.57"/><rect class="c9" x="465.78" y="2286.73" width="17.36" height="78.57"/><rect class="c9" x="484.25" y="2284.3" width="17.36" height="81"/><rect class="c9" x="502.71" y="2288.35" width="17.36" height="76.94"/><rect class="c8" x="521.17" y="2286.73" width="17.36" height="78.57"/><rect class="c7" x="539.64" y="2309.44" width="17.36" height="55.86"/><rect class="c9" x="558.1" y="2284.3" width="17.36" height="81"/><rect class="c9" x="576.57" y="2286.73" width="17.36" height="78.57"/><rect class="c9" x="595.03" y="2286.73" width="17.36" height="78.57"/><rect class="c9" x="613.49" y="2284.3" width="17.36" height="81"/><rect class="c9" x="631.96" y="2286.73" width="17.36" height="78.57"/><rect class="c9" x="650.42" y="2284.3" width="17.36" height="81"/><rect class="c9" x="668.89" y="2286.73" width="17.36" height="78.57"/><rect class="c9" x="687.35" y="2286.73" width="17.36" height="78.57"/><rect class="c9" x="705.81" y="2286.73" width="17.36" height="78.57"/><rect class="c9" x="724.28" y="2286.73" width="17.36" height="78.57"/><rect class="c9" x="742.74" y="2286.73" width="17.36" height="78.57"/><rect class="c8" x="761.21" y="2288.35" width="17.36" height="76.94"/><rect class="c9" x="779.67" y="2284.3" width="17.36" height="81"/><rect class="c9" x="798.13" y="2286.73" width="17.36" height="78.57"/><rect class="c9" x="816.6" y="2286.73" width="17.36" height="78.57"/><rect class="c8" x="835.06" y="2286.73" width="17.36" height="78.57"/><rect class="c9" x="853.53" y="2284.3" width="17.36" height="81"/><rect class="c9" x="871.99" y="2286.73" width="17.36" height="78.57"/><rect class="c9" x="890.45" y="2286.73" width="17.36" height="78.57"/><rect class="c9" x="908.92" y="2284.3" width="17.36" height="81"/><rect class="c9" x="927.38" y="2286.73" width="17.36" height="78.57"/><rect class="c8" x="945.85" y="2290.79" width="17.36" height="74.51"/><rect class="c7" x="964.31" y="2297.28" width="17.36" height="68.02"/><rect class="c7" x="982.77" y="2301.33" width="17.36" height="63.97"/><rect class="c9" x="1001.24" y="2290.79" width="17.36" height="74.51"/><rect class="c9" x="1019.7" y="2286.73" width="17.36" height="78.57"/><rect class="c9" x="1038.17" y="2284.3" width="17.36" height="81"/><rect class="c9" x="1056.63" y="2284.3" width="17.36" height="81"/><rect class="c9" x="1075.09" y="2286.73" width="17.36" height="78.57"/><rect class="c9" x="1093.56" y="2286.73" width="17.36" height="78.57"/><rect class="c9" x="1112.02" y="2284.3" width="17.36" height="81"/><rect class="c9" x="1130.49" y="2286.73" width="17.36" height="78.57"/><rect class="c9" x="1148.95" y="2293.22" width="17.36" height="72.08"/><rect class="c9" x="1167.41" y="2286.73" width="17.36" height="78.57"/><rect class="c9" x="1185.88" y="2286.73" width="17.36" height="78.57"/><rect class="c9" x="1204.34" y="2286.73" width="17.36" height="78.57"/><rect class="c9" x="1222.81" y="2286.73" width="17.36" height="78.57"/><rect class="c9" x="1241.27" y="2284.3" width="17.36" height="81"/><rect class="c9" x="1259.73" y="2286.73" width="17.36" height="78.57"/><rect class="c9" x="1278.2" y="2286.73" width="17.36" height="78.57"/><rect class="c9" x="1296.66" y="2286.73" width="17.36" height="78.57"/><rect class="c9" x="1315.13" y="2286.73" width="17.36" height="78.57"/><rect class="c9" x="1333.59" y="2286.73" width="17.36" height="78.57"/><rect class="c9" x="1352.05" y="2284.3" width="17.36" height="81"/><rect class="c8" x="1370.52" y="2295.65" width="17.36" height="69.65"/><rect class="c9" x="1388.98" y="2286.73" width="17.36" height="78.57"/><rect class="c9" x="1407.45" y="2284.3" width="17.36" height="81"/><rect class="c9" x="1425.91" y="2286.73" width="17.36" height="78.57"/><rect class="c9" x="1444.37" y="2284.3" width="17.36" height="81"/><rect class="c9" x="1462.84" y="2286.73" width="17.36" height="78.57"/><rect class="c9" x="1481.3" y="2286.73" width="17.36" height="78.57"/><rect class="c9" x="1499.77" y="2286.73" width="17.36" height="78.57"/><rect class="c8" x="1518.23" y="2288.35" width="17.36" height="76.94"/><rect class="c9" x="1536.69" y="2284.3" width="17.36" height="81"/><rect class="c9" x="1555.16" y="2286.73" width="17.36" height="78.57"/><rect class="c8" x="1573.62" y="2290.79" width="17.36" height="74.51"/><path d="M224 2366.3H1597.45" style="stroke:#fff;stroke-width:1.2;fill:none"/><rect class="c9" x="225.75" y="2438.25" width="17.36" height="23.86"/><rect class="c6" x="244.21" y="2438.25" width="17.36" height="10.81"/><rect class="c8" x="262.68" y="2438.25" width="17.36" height="43.45"/><rect class="c7" x="281.14" y="2438.25" width="17.36" height="14.89"/><rect class="c6" x="299.61" y="2438.25" width="17.36" height="14.89"/><rect class="c8" x="318.07" y="2438.25" width="17.36" height="23.05"/><rect class="c9" x="336.53" y="2438.25" width="17.36" height="51.61"/><rect class="c5" x="355" y="2438.25" width="17.36" height="18.97"/><rect class="c4" x="373.46" y="2438.25" width="17.36" height="10.81"/><rect class="c8" x="391.93" y="2438.25" width="17.36" height="27.13"/><rect class="c6" x="410.39" y="2438.25" width="17.36" height="17.34"/><rect class="c4" x="428.85" y="2438.25" width="17.36" height="12.44"/><rect class="c8" x="447.32" y="2438.25" width="17.36" height="39.37"/><rect class="c6" x="465.78" y="2438.25" width="17.36" height="18.97"/><rect class="c9" x="484.25" y="2438.25" width="17.36" height="64.66"/><rect class="c6" x="502.71" y="2438.25" width="17.36" height="14.89"/><rect class="c6" x="521.17" y="2438.25" width="17.36" height="20.6"/><rect class="c6" x="539.64" y="2438.25" width="17.36" height="12.44"/><rect class="c9" x="558.1" y="2438.25" width="17.36" height="80.98"/><rect class="c7" x="576.57" y="2438.25" width="17.36" height="37.74"/><rect class="c4" x="595.03" y="2438.25" width="17.36" height="10.81"/><rect class="c7" x="613.49" y="2438.25" width="17.36" height="21.42"/><rect class="c7" x="631.96" y="2438.25" width="17.36" height="31.21"/><rect class="c3" x="650.42" y="2438.25" width="17.36" height="9.18"/><rect class="c5" x="668.89" y="2438.25" width="17.36" height="21.42"/><rect class="c6" x="687.35" y="2438.25" width="17.36" height="9.18"/><rect class="c7" x="705.81" y="2438.25" width="17.36" height="21.42"/><rect class="c7" x="724.28" y="2438.25" width="17.36" height="31.21"/><rect class="c6" x="742.74" y="2438.25" width="17.36" height="18.97"/><rect class="c7" x="761.21" y="2438.25" width="17.36" height="40.18"/><rect class="c5" x="779.67" y="2438.25" width="17.36" height="18.97"/><rect class="c7" x="798.13" y="2438.25" width="17.36" height="25.5"/><rect class="c8" x="816.6" y="2438.25" width="17.36" height="23.05"/><rect class="c8" x="835.06" y="2438.25" width="17.36" height="31.21"/><rect class="c6" x="853.53" y="2438.25" width="17.36" height="17.34"/><rect class="c8" x="871.99" y="2438.25" width="17.36" height="54.06"/><rect class="c8" x="890.45" y="2438.25" width="17.36" height="27.13"/><rect class="c9" x="908.92" y="2438.25" width="17.36" height="45.9"/><rect class="c7" x="927.38" y="2438.25" width="17.36" height="31.21"/><rect class="c8" x="945.85" y="2438.25" width="17.36" height="64.66"/><rect class="c6" x="964.31" y="2438.25" width="17.36" height="14.89"/><rect class="c5" x="982.77" y="2438.25" width="17.36" height="10.81"/><rect class="c8" x="1001.24" y="2438.25" width="17.36" height="31.21"/><rect class="c8" x="1019.7" y="2438.25" width="17.36" height="41.82"/><rect class="c9" x="1038.17" y="2438.25" width="17.36" height="56.5"/><rect class="c7" x="1056.63" y="2438.25" width="17.36" height="45.9"/><rect class="c7" x="1075.09" y="2438.25" width="17.36" height="31.21"/><rect class="c7" x="1093.56" y="2438.25" width="17.36" height="33.66"/><rect class="c7" x="1112.02" y="2438.25" width="17.36" height="14.89"/><rect class="c5" x="1130.49" y="2438.25" width="17.36" height="17.34"/><rect class="c8" x="1148.95" y="2438.25" width="17.36" height="33.66"/><rect class="c9" x="1167.41" y="2438.25" width="17.36" height="35.29"/><rect class="c8" x="1185.88" y="2438.25" width="17.36" height="37.74"/><rect class="c6" x="1204.34" y="2438.25" width="17.36" height="27.13"/><rect class="c8" x="1222.81" y="2438.25" width="17.36" height="18.97"/><rect class="c9" x="1241.27" y="2438.25" width="17.36" height="54.06"/><rect class="c7" x="1259.73" y="2438.25" width="17.36" height="14.89"/><rect class="c6" x="1278.2" y="2438.25" width="17.36" height="17.34"/><rect class="c8" x="1296.66" y="2438.25" width="17.36" height="43.45"/><rect class="c7" x="1315.13" y="2438.25" width="17.36" height="27.13"/><rect class="c9" x="1333.59" y="2438.25" width="17.36" height="49.98"/><rect class="c7" x="1352.05" y="2438.25" width="17.36" height="31.21"/><rect class="c9" x="1370.52" y="2438.25" width="17.36" height="43.45"/><rect class="c8" x="1388.98" y="2438.25" width="17.36" height="31.21"/><rect class="c9" x="1407.45" y="2438.25" width="17.36" height="62.22"/><rect class="c8" x="1425.91" y="2438.25" width="17.36" height="41.82"/><rect class="c8" x="1444.37" y="2438.25" width="17.36" height="35.29"/><rect class="c9" x="1462.84" y="2438.25" width="17.36" height="27.13"/><rect class="c8" x="1481.3" y="2438.25" width="17.36" height="25.5"/><rect class="c8" x="1499.77" y="2438.25" width="17.36" height="62.22"/><rect class="c7" x="1518.23" y="2438.25" width="17.36" height="21.42"/><rect class="c8" x="1536.69" y="2438.25" width="17.36" height="17.34"/><rect class="c7" x="1555.16" y="2438.25" width="17.36" height="14.89"/><rect class="c6" x="1573.62" y="2438.25" width="17.36" height="9.18"/><path class="ax" d="M1615.85 2284.3H1607.85V2365.85H1615.85M1607.85 2325.07H1615.85"/><path class="ax" d="M1615.85 2437.7H1607.85V2519.9H1615.85M1607.85 2478.8H1615.85"/></g>
<text class="al" x="1734" y="505.3">100%</text>
<text class="al" x="1733" y="589">0</text>
<text class="al" x="1733" y="659">0%</text>
<text class="al" x="1734" y="743.5">100</text>
<text class="lb" transform="translate(1793.5 522) rotate(90)" style="fill:#222">Percent Identity</text>
<text class="lb" text-anchor="end" x="204.6" y="467.8"><tspan font-style="italic">A. bakeri</tspan> Orco</text>
<text class="lb" text-anchor="end" x="204.6" y="606.1">Orco Consensus</text>
<text class="lb" text-anchor="end" x="204.6" y="643.4">OR Consensus</text>
</svg>
</body></html>
